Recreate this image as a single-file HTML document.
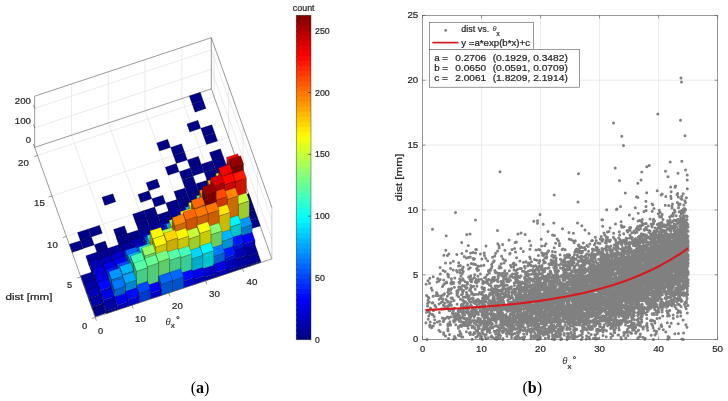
<!DOCTYPE html>
<html><head><meta charset="utf-8"><title>Figure</title>
<style>html,body{margin:0;padding:0;background:#fff;}svg{display:block;will-change:transform;}</style></head>
<body>
<svg width="728" height="401" viewBox="0 0 728 401">
<rect width="728" height="401" fill="#fff"/>
<path d="M132.03 305.17L71.48 135.20M71.48 135.20L71.48 84.00M168.83 292.98L108.28 123.01M108.28 123.01L108.28 71.81M205.63 280.79L145.08 110.82M145.08 110.82L145.08 59.62M242.43 268.59L181.88 98.62M181.88 98.62L181.88 47.42M80.81 276.89L257.46 218.37M257.46 218.37L257.46 167.17M66.39 236.42L243.04 177.90M243.04 177.90L243.04 126.70M51.97 195.95L228.62 137.43M228.62 137.43L228.62 86.23M37.56 155.48L214.21 96.96M214.21 96.96L214.21 45.76M34.67 127.89L211.32 69.37L271.88 239.34M34.67 108.38L211.32 49.86L271.88 219.83" fill="none" stroke="#dedede" stroke-width="0.6"/>
<path d="M34.67 147.39L211.32 88.87L271.88 258.84M34.67 96.19L211.32 37.67L271.88 207.64M211.32 88.87L211.32 37.67" fill="none" stroke="#555555" stroke-width="0.6"/>
<path d="M271.88 258.84L271.88 207.64" fill="none" stroke="#b8b8b8" stroke-width="0.7"/>
<polygon points="192.13,104.08 203.17,100.43 200.28,92.33 189.24,95.99" fill="#000087" stroke="#000" stroke-opacity="0.45" stroke-width="0.45" stroke-linejoin="round"/>
<polygon points="195.01,112.18 206.05,108.52 203.17,100.43 192.13,104.08" fill="#000087" stroke="#000" stroke-opacity="0.45" stroke-width="0.45" stroke-linejoin="round"/>
<polygon points="189.74,132.02 200.78,128.37 197.89,120.27 186.85,123.93" fill="#000087" stroke="#000" stroke-opacity="0.45" stroke-width="0.45" stroke-linejoin="round"/>
<polygon points="203.66,136.46 214.70,132.80 211.82,124.71 200.78,128.37" fill="#000087" stroke="#000" stroke-opacity="0.45" stroke-width="0.45" stroke-linejoin="round"/>
<polygon points="159.50,151.09 170.54,147.43 167.66,139.34 156.61,143.00" fill="#000087" stroke="#000" stroke-opacity="0.45" stroke-width="0.45" stroke-linejoin="round"/>
<polygon points="206.54,144.55 217.58,140.90 214.70,132.80 203.66,136.46" fill="#000087" stroke="#000" stroke-opacity="0.45" stroke-width="0.45" stroke-linejoin="round"/>
<polygon points="173.42,155.53 184.46,151.87 181.58,143.77 170.54,147.43" fill="#000087" stroke="#000" stroke-opacity="0.45" stroke-width="0.45" stroke-linejoin="round"/>
<polygon points="176.31,163.62 187.35,159.96 184.46,151.87 173.42,155.53" fill="#000087" stroke="#000" stroke-opacity="0.45" stroke-width="0.45" stroke-linejoin="round"/>
<polygon points="212.31,160.55 223.35,156.89 220.47,148.79 209.43,152.45" fill="#000087" stroke="#000" stroke-opacity="0.45" stroke-width="0.45" stroke-linejoin="round"/>
<polygon points="190.23,168.06 201.27,164.40 198.39,156.30 187.35,159.96" fill="#000087" stroke="#000" stroke-opacity="0.45" stroke-width="0.45" stroke-linejoin="round"/>
<polygon points="168.15,175.37 179.19,171.71 176.31,163.62 165.26,167.28" fill="#000087" stroke="#000" stroke-opacity="0.45" stroke-width="0.45" stroke-linejoin="round"/>
<polygon points="215.19,168.44 226.23,164.79 223.35,156.69 212.31,160.35" fill="#000087" stroke="#000" stroke-opacity="0.45" stroke-width="0.45" stroke-linejoin="round"/>
<polygon points="204.15,172.30 215.19,168.64 212.31,160.55 201.27,164.20" fill="#000087" stroke="#000" stroke-opacity="0.45" stroke-width="0.45" stroke-linejoin="round"/>
<polygon points="193.11,175.95 204.15,172.30 201.27,164.20 190.23,167.86" fill="#000087" stroke="#000" stroke-opacity="0.45" stroke-width="0.45" stroke-linejoin="round"/>
<polygon points="182.07,179.81 193.11,176.15 190.23,168.06 179.19,171.71" fill="#000087" stroke="#000" stroke-opacity="0.45" stroke-width="0.45" stroke-linejoin="round"/>
<polygon points="148.95,190.78 159.99,187.12 157.11,179.03 146.07,182.69" fill="#000087" stroke="#000" stroke-opacity="0.45" stroke-width="0.45" stroke-linejoin="round"/>
<polygon points="104.79,205.41 115.83,201.75 112.94,193.66 101.90,197.32" fill="#000087" stroke="#000" stroke-opacity="0.45" stroke-width="0.45" stroke-linejoin="round"/>
<polygon points="218.08,177.12 218.08,175.56 215.19,167.47 215.19,169.03" fill="#00005e" stroke="#000" stroke-opacity="0.45" stroke-width="0.45" stroke-linejoin="round"/>
<polygon points="218.08,177.12 229.12,173.47 229.12,171.91 218.08,175.56" fill="#000079" stroke="#000" stroke-opacity="0.45" stroke-width="0.45" stroke-linejoin="round"/>
<polygon points="218.08,175.56 229.12,171.91 226.23,163.81 215.19,167.47" fill="#000097" stroke="#000" stroke-opacity="0.45" stroke-width="0.45" stroke-linejoin="round"/>
<polygon points="207.04,180.39 218.08,176.73 215.19,168.64 204.15,172.30" fill="#000087" stroke="#000" stroke-opacity="0.45" stroke-width="0.45" stroke-linejoin="round"/>
<polygon points="184.96,187.90 196.00,184.24 193.11,176.15 182.07,179.81" fill="#000087" stroke="#000" stroke-opacity="0.45" stroke-width="0.45" stroke-linejoin="round"/>
<polygon points="140.79,202.53 151.83,198.87 148.95,190.78 137.91,194.44" fill="#000087" stroke="#000" stroke-opacity="0.45" stroke-width="0.45" stroke-linejoin="round"/>
<polygon points="220.96,185.22 220.96,181.32 218.08,173.22 218.08,177.12" fill="#00007c" stroke="#000" stroke-opacity="0.45" stroke-width="0.45" stroke-linejoin="round"/>
<polygon points="220.96,185.22 232.00,181.56 232.00,177.66 220.96,181.32" fill="#00009f" stroke="#000" stroke-opacity="0.45" stroke-width="0.45" stroke-linejoin="round"/>
<polygon points="220.96,181.32 232.00,177.66 229.12,169.56 218.08,173.22" fill="#0000c7" stroke="#000" stroke-opacity="0.45" stroke-width="0.45" stroke-linejoin="round"/>
<polygon points="209.92,188.87 209.92,187.70 207.04,179.61 207.04,180.78" fill="#00005e" stroke="#000" stroke-opacity="0.45" stroke-width="0.45" stroke-linejoin="round"/>
<polygon points="209.92,188.87 220.96,185.22 220.96,184.05 209.92,187.70" fill="#000079" stroke="#000" stroke-opacity="0.45" stroke-width="0.45" stroke-linejoin="round"/>
<polygon points="209.92,187.70 220.96,184.05 218.08,175.95 207.04,179.61" fill="#000097" stroke="#000" stroke-opacity="0.45" stroke-width="0.45" stroke-linejoin="round"/>
<polygon points="198.88,191.95 209.92,188.29 207.04,180.20 196.00,183.85" fill="#000087" stroke="#000" stroke-opacity="0.45" stroke-width="0.45" stroke-linejoin="round"/>
<polygon points="187.84,195.80 198.88,192.14 196.00,184.05 184.96,187.71" fill="#000087" stroke="#000" stroke-opacity="0.45" stroke-width="0.45" stroke-linejoin="round"/>
<polygon points="176.80,199.65 187.84,195.99 184.96,187.90 173.91,191.56" fill="#000087" stroke="#000" stroke-opacity="0.45" stroke-width="0.45" stroke-linejoin="round"/>
<polygon points="154.72,206.97 165.76,203.31 162.87,195.22 151.83,198.87" fill="#000087" stroke="#000" stroke-opacity="0.45" stroke-width="0.45" stroke-linejoin="round"/>
<polygon points="223.84,193.31 223.84,183.17 220.96,175.07 220.96,185.22" fill="#002c9e" stroke="#000" stroke-opacity="0.45" stroke-width="0.45" stroke-linejoin="round"/>
<polygon points="223.84,193.31 234.88,189.65 234.88,179.51 223.84,183.17" fill="#0039cc" stroke="#000" stroke-opacity="0.45" stroke-width="0.45" stroke-linejoin="round"/>
<polygon points="223.84,183.17 234.88,179.51 232.00,171.42 220.96,175.07" fill="#0048ff" stroke="#000" stroke-opacity="0.45" stroke-width="0.45" stroke-linejoin="round"/>
<polygon points="212.80,196.97 212.80,193.46 209.92,185.36 209.92,188.87" fill="#00007c" stroke="#000" stroke-opacity="0.45" stroke-width="0.45" stroke-linejoin="round"/>
<polygon points="212.80,196.97 223.84,193.31 223.84,189.80 212.80,193.46" fill="#00009f" stroke="#000" stroke-opacity="0.45" stroke-width="0.45" stroke-linejoin="round"/>
<polygon points="212.80,193.46 223.84,189.80 220.96,181.71 209.92,185.36" fill="#0000c7" stroke="#000" stroke-opacity="0.45" stroke-width="0.45" stroke-linejoin="round"/>
<polygon points="201.76,200.63 201.76,199.07 198.88,190.97 198.88,192.53" fill="#00005e" stroke="#000" stroke-opacity="0.45" stroke-width="0.45" stroke-linejoin="round"/>
<polygon points="201.76,200.63 212.80,196.97 212.80,195.41 201.76,199.07" fill="#000079" stroke="#000" stroke-opacity="0.45" stroke-width="0.45" stroke-linejoin="round"/>
<polygon points="201.76,199.07 212.80,195.41 209.92,187.31 198.88,190.97" fill="#000097" stroke="#000" stroke-opacity="0.45" stroke-width="0.45" stroke-linejoin="round"/>
<polygon points="190.72,204.28 190.72,203.50 187.84,195.41 187.84,196.19" fill="#000054" stroke="#000" stroke-opacity="0.45" stroke-width="0.45" stroke-linejoin="round"/>
<polygon points="190.72,204.28 201.76,200.63 201.76,199.85 190.72,203.50" fill="#00006c" stroke="#000" stroke-opacity="0.45" stroke-width="0.45" stroke-linejoin="round"/>
<polygon points="190.72,203.50 201.76,199.85 198.88,191.75 187.84,195.41" fill="#000087" stroke="#000" stroke-opacity="0.45" stroke-width="0.45" stroke-linejoin="round"/>
<polygon points="179.68,207.55 190.72,203.89 187.84,195.80 176.80,199.46" fill="#000087" stroke="#000" stroke-opacity="0.45" stroke-width="0.45" stroke-linejoin="round"/>
<polygon points="168.64,211.21 179.68,207.55 176.80,199.46 165.76,203.11" fill="#000087" stroke="#000" stroke-opacity="0.45" stroke-width="0.45" stroke-linejoin="round"/>
<polygon points="146.56,218.72 157.60,215.06 154.72,206.97 143.68,210.62" fill="#000087" stroke="#000" stroke-opacity="0.45" stroke-width="0.45" stroke-linejoin="round"/>
<polygon points="135.52,222.38 146.56,218.72 143.68,210.62 132.64,214.28" fill="#000087" stroke="#000" stroke-opacity="0.45" stroke-width="0.45" stroke-linejoin="round"/>
<polygon points="91.36,237.01 102.40,233.35 99.51,225.25 88.47,228.91" fill="#000087" stroke="#000" stroke-opacity="0.45" stroke-width="0.45" stroke-linejoin="round"/>
<polygon points="80.32,240.66 91.36,237.01 88.47,228.91 77.43,232.57" fill="#000087" stroke="#000" stroke-opacity="0.45" stroke-width="0.45" stroke-linejoin="round"/>
<polygon points="226.73,201.40 226.73,178.97 223.84,170.88 223.84,193.31" fill="#2c9e72" stroke="#000" stroke-opacity="0.45" stroke-width="0.45" stroke-linejoin="round"/>
<polygon points="226.73,201.40 237.77,197.75 237.77,175.32 226.73,178.97" fill="#39cc93" stroke="#000" stroke-opacity="0.45" stroke-width="0.45" stroke-linejoin="round"/>
<polygon points="226.73,178.97 237.77,175.32 234.88,167.22 223.84,170.88" fill="#48ffb7" stroke="#000" stroke-opacity="0.45" stroke-width="0.45" stroke-linejoin="round"/>
<polygon points="215.69,205.06 215.69,192.97 212.80,184.88 212.80,196.97" fill="#004a9e" stroke="#000" stroke-opacity="0.45" stroke-width="0.45" stroke-linejoin="round"/>
<polygon points="215.69,205.06 226.73,201.40 226.73,189.31 215.69,192.97" fill="#0060cc" stroke="#000" stroke-opacity="0.45" stroke-width="0.45" stroke-linejoin="round"/>
<polygon points="215.69,192.97 226.73,189.31 223.84,181.22 212.80,184.88" fill="#0078ff" stroke="#000" stroke-opacity="0.45" stroke-width="0.45" stroke-linejoin="round"/>
<polygon points="204.65,208.72 204.65,201.89 201.76,193.80 201.76,200.63" fill="#00059e" stroke="#000" stroke-opacity="0.45" stroke-width="0.45" stroke-linejoin="round"/>
<polygon points="204.65,208.72 215.69,205.06 215.69,198.24 204.65,201.89" fill="#0006cc" stroke="#000" stroke-opacity="0.45" stroke-width="0.45" stroke-linejoin="round"/>
<polygon points="204.65,201.89 215.69,198.24 212.80,190.14 201.76,193.80" fill="#0008ff" stroke="#000" stroke-opacity="0.45" stroke-width="0.45" stroke-linejoin="round"/>
<polygon points="193.61,212.38 193.61,209.65 190.72,201.55 190.72,204.28" fill="#000072" stroke="#000" stroke-opacity="0.45" stroke-width="0.45" stroke-linejoin="round"/>
<polygon points="193.61,212.38 204.65,208.72 204.65,205.99 193.61,209.65" fill="#000093" stroke="#000" stroke-opacity="0.45" stroke-width="0.45" stroke-linejoin="round"/>
<polygon points="193.61,209.65 204.65,205.99 201.76,197.90 190.72,201.55" fill="#0000b7" stroke="#000" stroke-opacity="0.45" stroke-width="0.45" stroke-linejoin="round"/>
<polygon points="182.56,216.03 182.56,214.86 179.68,206.77 179.68,207.94" fill="#00005e" stroke="#000" stroke-opacity="0.45" stroke-width="0.45" stroke-linejoin="round"/>
<polygon points="182.56,216.03 193.61,212.38 193.61,211.21 182.56,214.86" fill="#000079" stroke="#000" stroke-opacity="0.45" stroke-width="0.45" stroke-linejoin="round"/>
<polygon points="182.56,214.86 193.61,211.21 190.72,203.11 179.68,206.77" fill="#000097" stroke="#000" stroke-opacity="0.45" stroke-width="0.45" stroke-linejoin="round"/>
<polygon points="171.52,219.69 171.52,218.72 168.64,210.62 168.64,211.60" fill="#00005e" stroke="#000" stroke-opacity="0.45" stroke-width="0.45" stroke-linejoin="round"/>
<polygon points="171.52,219.69 182.56,216.03 182.56,215.06 171.52,218.72" fill="#000079" stroke="#000" stroke-opacity="0.45" stroke-width="0.45" stroke-linejoin="round"/>
<polygon points="171.52,218.72 182.56,215.06 179.68,206.97 168.64,210.62" fill="#000097" stroke="#000" stroke-opacity="0.45" stroke-width="0.45" stroke-linejoin="round"/>
<polygon points="160.48,222.76 171.52,219.11 168.64,211.01 157.60,214.67" fill="#000087" stroke="#000" stroke-opacity="0.45" stroke-width="0.45" stroke-linejoin="round"/>
<polygon points="149.44,226.42 160.48,222.76 157.60,214.67 146.56,218.33" fill="#000087" stroke="#000" stroke-opacity="0.45" stroke-width="0.45" stroke-linejoin="round"/>
<polygon points="138.40,230.27 149.44,226.62 146.56,218.52 135.52,222.18" fill="#000087" stroke="#000" stroke-opacity="0.45" stroke-width="0.45" stroke-linejoin="round"/>
<polygon points="116.32,237.59 127.36,233.93 124.48,225.84 113.44,229.50" fill="#000087" stroke="#000" stroke-opacity="0.45" stroke-width="0.45" stroke-linejoin="round"/>
<polygon points="83.20,248.56 94.24,244.90 91.36,236.81 80.32,240.47" fill="#000087" stroke="#000" stroke-opacity="0.45" stroke-width="0.45" stroke-linejoin="round"/>
<polygon points="72.16,252.41 83.20,248.76 80.32,240.66 69.27,244.32" fill="#000087" stroke="#000" stroke-opacity="0.45" stroke-width="0.45" stroke-linejoin="round"/>
<polygon points="240.65,205.26 251.69,201.60 248.81,193.50 237.77,197.16" fill="#000087" stroke="#000" stroke-opacity="0.45" stroke-width="0.45" stroke-linejoin="round"/>
<polygon points="229.61,209.50 229.61,165.42 226.73,157.32 226.73,201.40" fill="#9e0500" stroke="#000" stroke-opacity="0.45" stroke-width="0.45" stroke-linejoin="round"/>
<polygon points="229.61,209.50 240.65,205.84 240.65,161.76 229.61,165.42" fill="#cc0600" stroke="#000" stroke-opacity="0.45" stroke-width="0.45" stroke-linejoin="round"/>
<polygon points="229.61,165.42 240.65,161.76 237.77,153.67 226.73,157.32" fill="#ff0800" stroke="#000" stroke-opacity="0.45" stroke-width="0.45" stroke-linejoin="round"/>
<polygon points="218.57,213.16 218.57,181.95 215.69,173.85 215.69,205.06" fill="#999e05" stroke="#000" stroke-opacity="0.45" stroke-width="0.45" stroke-linejoin="round"/>
<polygon points="218.57,213.16 229.61,209.50 229.61,178.29 218.57,181.95" fill="#c6cc06" stroke="#000" stroke-opacity="0.45" stroke-width="0.45" stroke-linejoin="round"/>
<polygon points="218.57,181.95 229.61,178.29 226.73,170.20 215.69,173.85" fill="#f7ff08" stroke="#000" stroke-opacity="0.45" stroke-width="0.45" stroke-linejoin="round"/>
<polygon points="207.53,216.81 207.53,195.36 204.65,187.26 204.65,208.72" fill="#199e85" stroke="#000" stroke-opacity="0.45" stroke-width="0.45" stroke-linejoin="round"/>
<polygon points="207.53,216.81 218.57,213.16 218.57,191.70 207.53,195.36" fill="#20ccac" stroke="#000" stroke-opacity="0.45" stroke-width="0.45" stroke-linejoin="round"/>
<polygon points="207.53,195.36 218.57,191.70 215.69,183.61 204.65,187.26" fill="#28ffd7" stroke="#000" stroke-opacity="0.45" stroke-width="0.45" stroke-linejoin="round"/>
<polygon points="196.49,220.47 196.49,208.77 193.61,200.67 193.61,212.38" fill="#00409e" stroke="#000" stroke-opacity="0.45" stroke-width="0.45" stroke-linejoin="round"/>
<polygon points="196.49,220.47 207.53,216.81 207.53,205.11 196.49,208.77" fill="#0053cc" stroke="#000" stroke-opacity="0.45" stroke-width="0.45" stroke-linejoin="round"/>
<polygon points="196.49,208.77 207.53,205.11 204.65,197.02 193.61,200.67" fill="#0068ff" stroke="#000" stroke-opacity="0.45" stroke-width="0.45" stroke-linejoin="round"/>
<polygon points="185.45,224.13 185.45,217.89 182.56,209.79 182.56,216.03" fill="#000099" stroke="#000" stroke-opacity="0.45" stroke-width="0.45" stroke-linejoin="round"/>
<polygon points="185.45,224.13 196.49,220.47 196.49,214.23 185.45,217.89" fill="#0000c6" stroke="#000" stroke-opacity="0.45" stroke-width="0.45" stroke-linejoin="round"/>
<polygon points="185.45,217.89 196.49,214.23 193.61,206.14 182.56,209.79" fill="#0000f7" stroke="#000" stroke-opacity="0.45" stroke-width="0.45" stroke-linejoin="round"/>
<polygon points="174.41,227.79 174.41,224.86 171.52,216.77 171.52,219.69" fill="#000072" stroke="#000" stroke-opacity="0.45" stroke-width="0.45" stroke-linejoin="round"/>
<polygon points="174.41,227.79 185.45,224.13 185.45,221.20 174.41,224.86" fill="#000093" stroke="#000" stroke-opacity="0.45" stroke-width="0.45" stroke-linejoin="round"/>
<polygon points="174.41,224.86 185.45,221.20 182.56,213.11 171.52,216.77" fill="#0000b7" stroke="#000" stroke-opacity="0.45" stroke-width="0.45" stroke-linejoin="round"/>
<polygon points="163.37,231.44 163.37,229.88 160.48,221.79 160.48,223.35" fill="#00005e" stroke="#000" stroke-opacity="0.45" stroke-width="0.45" stroke-linejoin="round"/>
<polygon points="163.37,231.44 174.41,227.79 174.41,226.23 163.37,229.88" fill="#000079" stroke="#000" stroke-opacity="0.45" stroke-width="0.45" stroke-linejoin="round"/>
<polygon points="163.37,229.88 174.41,226.23 171.52,218.13 160.48,221.79" fill="#000097" stroke="#000" stroke-opacity="0.45" stroke-width="0.45" stroke-linejoin="round"/>
<polygon points="152.33,235.10 152.33,233.93 149.44,225.84 149.44,227.01" fill="#00005e" stroke="#000" stroke-opacity="0.45" stroke-width="0.45" stroke-linejoin="round"/>
<polygon points="152.33,235.10 163.37,231.44 163.37,230.27 152.33,233.93" fill="#000079" stroke="#000" stroke-opacity="0.45" stroke-width="0.45" stroke-linejoin="round"/>
<polygon points="152.33,233.93 163.37,230.27 160.48,222.18 149.44,225.84" fill="#000097" stroke="#000" stroke-opacity="0.45" stroke-width="0.45" stroke-linejoin="round"/>
<polygon points="141.29,238.76 141.29,237.78 138.40,229.69 138.40,230.66" fill="#00005e" stroke="#000" stroke-opacity="0.45" stroke-width="0.45" stroke-linejoin="round"/>
<polygon points="141.29,238.76 152.33,235.10 152.33,234.13 141.29,237.78" fill="#000079" stroke="#000" stroke-opacity="0.45" stroke-width="0.45" stroke-linejoin="round"/>
<polygon points="141.29,237.78 152.33,234.13 149.44,226.03 138.40,229.69" fill="#000097" stroke="#000" stroke-opacity="0.45" stroke-width="0.45" stroke-linejoin="round"/>
<polygon points="130.24,242.42 130.24,241.64 127.36,233.54 127.36,234.32" fill="#000054" stroke="#000" stroke-opacity="0.45" stroke-width="0.45" stroke-linejoin="round"/>
<polygon points="130.24,242.42 141.29,238.76 141.29,237.98 130.24,241.64" fill="#00006c" stroke="#000" stroke-opacity="0.45" stroke-width="0.45" stroke-linejoin="round"/>
<polygon points="130.24,241.64 141.29,237.98 138.40,229.88 127.36,233.54" fill="#000087" stroke="#000" stroke-opacity="0.45" stroke-width="0.45" stroke-linejoin="round"/>
<polygon points="119.20,246.07 119.20,245.29 116.32,237.20 116.32,237.98" fill="#000054" stroke="#000" stroke-opacity="0.45" stroke-width="0.45" stroke-linejoin="round"/>
<polygon points="119.20,246.07 130.24,242.42 130.24,241.64 119.20,245.29" fill="#00006c" stroke="#000" stroke-opacity="0.45" stroke-width="0.45" stroke-linejoin="round"/>
<polygon points="119.20,245.29 130.24,241.64 127.36,233.54 116.32,237.20" fill="#000087" stroke="#000" stroke-opacity="0.45" stroke-width="0.45" stroke-linejoin="round"/>
<polygon points="97.12,252.80 108.16,249.15 105.28,241.05 94.24,244.71" fill="#000087" stroke="#000" stroke-opacity="0.45" stroke-width="0.45" stroke-linejoin="round"/>
<polygon points="243.53,213.35 254.57,209.69 251.69,201.60 240.65,205.26" fill="#000087" stroke="#000" stroke-opacity="0.45" stroke-width="0.45" stroke-linejoin="round"/>
<polygon points="232.49,217.59 232.49,167.46 229.61,159.37 229.61,209.50" fill="#5e0000" stroke="#000" stroke-opacity="0.45" stroke-width="0.45" stroke-linejoin="round"/>
<polygon points="232.49,217.59 243.53,213.93 243.53,163.81 232.49,167.46" fill="#790000" stroke="#000" stroke-opacity="0.45" stroke-width="0.45" stroke-linejoin="round"/>
<polygon points="232.49,167.46 243.53,163.81 240.65,155.71 229.61,159.37" fill="#970000" stroke="#000" stroke-opacity="0.45" stroke-width="0.45" stroke-linejoin="round"/>
<polygon points="221.45,221.25 221.45,176.00 218.57,167.90 218.57,213.16" fill="#990000" stroke="#000" stroke-opacity="0.45" stroke-width="0.45" stroke-linejoin="round"/>
<polygon points="221.45,221.25 232.49,217.59 232.49,172.34 221.45,176.00" fill="#c60000" stroke="#000" stroke-opacity="0.45" stroke-width="0.45" stroke-linejoin="round"/>
<polygon points="221.45,176.00 232.49,172.34 229.61,164.25 218.57,167.90" fill="#f70000" stroke="#000" stroke-opacity="0.45" stroke-width="0.45" stroke-linejoin="round"/>
<polygon points="210.41,224.91 210.41,188.82 207.53,180.73 207.53,216.81" fill="#9e6800" stroke="#000" stroke-opacity="0.45" stroke-width="0.45" stroke-linejoin="round"/>
<polygon points="210.41,224.91 221.45,221.25 221.45,185.17 210.41,188.82" fill="#cc8600" stroke="#000" stroke-opacity="0.45" stroke-width="0.45" stroke-linejoin="round"/>
<polygon points="210.41,188.82 221.45,185.17 218.57,177.07 207.53,180.73" fill="#ffa700" stroke="#000" stroke-opacity="0.45" stroke-width="0.45" stroke-linejoin="round"/>
<polygon points="199.37,228.56 199.37,204.18 196.49,196.09 196.49,220.47" fill="#409e5e" stroke="#000" stroke-opacity="0.45" stroke-width="0.45" stroke-linejoin="round"/>
<polygon points="199.37,228.56 210.41,224.91 210.41,200.53 199.37,204.18" fill="#53cc79" stroke="#000" stroke-opacity="0.45" stroke-width="0.45" stroke-linejoin="round"/>
<polygon points="199.37,204.18 210.41,200.53 207.53,192.43 196.49,196.09" fill="#68ff97" stroke="#000" stroke-opacity="0.45" stroke-width="0.45" stroke-linejoin="round"/>
<polygon points="188.33,232.22 188.33,215.64 185.45,207.55 185.45,224.13" fill="#007c9e" stroke="#000" stroke-opacity="0.45" stroke-width="0.45" stroke-linejoin="round"/>
<polygon points="188.33,232.22 199.37,228.56 199.37,211.99 188.33,215.64" fill="#009fcc" stroke="#000" stroke-opacity="0.45" stroke-width="0.45" stroke-linejoin="round"/>
<polygon points="188.33,215.64 199.37,211.99 196.49,203.89 185.45,207.55" fill="#00c7ff" stroke="#000" stroke-opacity="0.45" stroke-width="0.45" stroke-linejoin="round"/>
<polygon points="177.29,235.88 177.29,225.15 174.41,217.06 174.41,227.79" fill="#00369e" stroke="#000" stroke-opacity="0.45" stroke-width="0.45" stroke-linejoin="round"/>
<polygon points="177.29,235.88 188.33,232.22 188.33,221.49 177.29,225.15" fill="#0046cc" stroke="#000" stroke-opacity="0.45" stroke-width="0.45" stroke-linejoin="round"/>
<polygon points="177.29,225.15 188.33,221.49 185.45,213.40 174.41,217.06" fill="#0058ff" stroke="#000" stroke-opacity="0.45" stroke-width="0.45" stroke-linejoin="round"/>
<polygon points="166.25,239.54 166.25,232.13 163.37,224.03 163.37,231.44" fill="#000f9e" stroke="#000" stroke-opacity="0.45" stroke-width="0.45" stroke-linejoin="round"/>
<polygon points="166.25,239.54 177.29,235.88 177.29,228.47 166.25,232.13" fill="#0013cc" stroke="#000" stroke-opacity="0.45" stroke-width="0.45" stroke-linejoin="round"/>
<polygon points="166.25,232.13 177.29,228.47 174.41,220.37 163.37,224.03" fill="#0018ff" stroke="#000" stroke-opacity="0.45" stroke-width="0.45" stroke-linejoin="round"/>
<polygon points="155.21,243.19 155.21,238.32 152.33,230.22 152.33,235.10" fill="#00008f" stroke="#000" stroke-opacity="0.45" stroke-width="0.45" stroke-linejoin="round"/>
<polygon points="155.21,243.19 166.25,239.54 166.25,234.66 155.21,238.32" fill="#0000b9" stroke="#000" stroke-opacity="0.45" stroke-width="0.45" stroke-linejoin="round"/>
<polygon points="155.21,238.32 166.25,234.66 163.37,226.57 152.33,230.22" fill="#0000e7" stroke="#000" stroke-opacity="0.45" stroke-width="0.45" stroke-linejoin="round"/>
<polygon points="144.17,246.85 144.17,242.95 141.29,234.86 141.29,238.76" fill="#00007c" stroke="#000" stroke-opacity="0.45" stroke-width="0.45" stroke-linejoin="round"/>
<polygon points="144.17,246.85 155.21,243.19 155.21,239.29 144.17,242.95" fill="#00009f" stroke="#000" stroke-opacity="0.45" stroke-width="0.45" stroke-linejoin="round"/>
<polygon points="144.17,242.95 155.21,239.29 152.33,231.20 141.29,234.86" fill="#0000c7" stroke="#000" stroke-opacity="0.45" stroke-width="0.45" stroke-linejoin="round"/>
<polygon points="133.13,250.51 133.13,248.56 130.24,240.47 130.24,242.42" fill="#000068" stroke="#000" stroke-opacity="0.45" stroke-width="0.45" stroke-linejoin="round"/>
<polygon points="133.13,250.51 144.17,246.85 144.17,244.90 133.13,248.56" fill="#000086" stroke="#000" stroke-opacity="0.45" stroke-width="0.45" stroke-linejoin="round"/>
<polygon points="133.13,248.56 144.17,244.90 141.29,236.81 130.24,240.47" fill="#0000a7" stroke="#000" stroke-opacity="0.45" stroke-width="0.45" stroke-linejoin="round"/>
<polygon points="122.09,254.17 122.09,252.61 119.20,244.51 119.20,246.07" fill="#00005e" stroke="#000" stroke-opacity="0.45" stroke-width="0.45" stroke-linejoin="round"/>
<polygon points="122.09,254.17 133.13,250.51 133.13,248.95 122.09,252.61" fill="#000079" stroke="#000" stroke-opacity="0.45" stroke-width="0.45" stroke-linejoin="round"/>
<polygon points="122.09,252.61 133.13,248.95 130.24,240.86 119.20,244.51" fill="#000097" stroke="#000" stroke-opacity="0.45" stroke-width="0.45" stroke-linejoin="round"/>
<polygon points="111.05,257.82 111.05,256.26 108.16,248.17 108.16,249.73" fill="#00005e" stroke="#000" stroke-opacity="0.45" stroke-width="0.45" stroke-linejoin="round"/>
<polygon points="111.05,257.82 122.09,254.17 122.09,252.61 111.05,256.26" fill="#000079" stroke="#000" stroke-opacity="0.45" stroke-width="0.45" stroke-linejoin="round"/>
<polygon points="111.05,256.26 122.09,252.61 119.20,244.51 108.16,248.17" fill="#000097" stroke="#000" stroke-opacity="0.45" stroke-width="0.45" stroke-linejoin="round"/>
<polygon points="100.01,261.48 100.01,259.92 97.12,251.83 97.12,253.39" fill="#00005e" stroke="#000" stroke-opacity="0.45" stroke-width="0.45" stroke-linejoin="round"/>
<polygon points="100.01,261.48 111.05,257.82 111.05,256.26 100.01,259.92" fill="#000079" stroke="#000" stroke-opacity="0.45" stroke-width="0.45" stroke-linejoin="round"/>
<polygon points="100.01,259.92 111.05,256.26 108.16,248.17 97.12,251.83" fill="#000097" stroke="#000" stroke-opacity="0.45" stroke-width="0.45" stroke-linejoin="round"/>
<polygon points="88.97,265.14 88.97,263.77 86.08,255.68 86.08,257.05" fill="#00005e" stroke="#000" stroke-opacity="0.45" stroke-width="0.45" stroke-linejoin="round"/>
<polygon points="88.97,265.14 100.01,261.48 100.01,260.12 88.97,263.77" fill="#000079" stroke="#000" stroke-opacity="0.45" stroke-width="0.45" stroke-linejoin="round"/>
<polygon points="88.97,263.77 100.01,260.12 97.12,252.02 86.08,255.68" fill="#000097" stroke="#000" stroke-opacity="0.45" stroke-width="0.45" stroke-linejoin="round"/>
<polygon points="246.42,221.44 257.46,217.79 254.57,209.69 243.53,213.35" fill="#000087" stroke="#000" stroke-opacity="0.45" stroke-width="0.45" stroke-linejoin="round"/>
<polygon points="235.38,225.69 235.38,181.80 232.49,173.71 232.49,217.59" fill="#9e0f00" stroke="#000" stroke-opacity="0.45" stroke-width="0.45" stroke-linejoin="round"/>
<polygon points="235.38,225.69 246.42,222.03 246.42,178.14 235.38,181.80" fill="#cc1300" stroke="#000" stroke-opacity="0.45" stroke-width="0.45" stroke-linejoin="round"/>
<polygon points="235.38,181.80 246.42,178.14 243.53,170.05 232.49,173.71" fill="#ff1800" stroke="#000" stroke-opacity="0.45" stroke-width="0.45" stroke-linejoin="round"/>
<polygon points="224.34,229.34 224.34,184.87 221.45,176.78 221.45,221.25" fill="#9e0500" stroke="#000" stroke-opacity="0.45" stroke-width="0.45" stroke-linejoin="round"/>
<polygon points="224.34,229.34 235.38,225.69 235.38,181.22 224.34,184.87" fill="#cc0600" stroke="#000" stroke-opacity="0.45" stroke-width="0.45" stroke-linejoin="round"/>
<polygon points="224.34,184.87 235.38,181.22 232.49,173.12 221.45,176.78" fill="#ff0800" stroke="#000" stroke-opacity="0.45" stroke-width="0.45" stroke-linejoin="round"/>
<polygon points="213.30,233.00 213.30,186.19 210.41,178.10 210.41,224.91" fill="#850000" stroke="#000" stroke-opacity="0.45" stroke-width="0.45" stroke-linejoin="round"/>
<polygon points="213.30,233.00 224.34,229.34 224.34,182.53 213.30,186.19" fill="#ac0000" stroke="#000" stroke-opacity="0.45" stroke-width="0.45" stroke-linejoin="round"/>
<polygon points="213.30,186.19 224.34,182.53 221.45,174.44 210.41,178.10" fill="#d70000" stroke="#000" stroke-opacity="0.45" stroke-width="0.45" stroke-linejoin="round"/>
<polygon points="202.26,236.66 202.26,198.62 199.37,190.53 199.37,228.56" fill="#9e5400" stroke="#000" stroke-opacity="0.45" stroke-width="0.45" stroke-linejoin="round"/>
<polygon points="202.26,236.66 213.30,233.00 213.30,194.97 202.26,198.62" fill="#cc6c00" stroke="#000" stroke-opacity="0.45" stroke-width="0.45" stroke-linejoin="round"/>
<polygon points="202.26,198.62 213.30,194.97 210.41,186.87 199.37,190.53" fill="#ff8700" stroke="#000" stroke-opacity="0.45" stroke-width="0.45" stroke-linejoin="round"/>
<polygon points="191.21,240.32 191.21,211.06 188.33,202.97 188.33,232.22" fill="#7c9e23" stroke="#000" stroke-opacity="0.45" stroke-width="0.45" stroke-linejoin="round"/>
<polygon points="191.21,240.32 202.26,236.66 202.26,207.40 191.21,211.06" fill="#9fcc2d" stroke="#000" stroke-opacity="0.45" stroke-width="0.45" stroke-linejoin="round"/>
<polygon points="191.21,211.06 202.26,207.40 199.37,199.31 188.33,202.97" fill="#c7ff38" stroke="#000" stroke-opacity="0.45" stroke-width="0.45" stroke-linejoin="round"/>
<polygon points="180.17,243.97 180.17,223.49 177.29,215.40 177.29,235.88" fill="#0f9e8f" stroke="#000" stroke-opacity="0.45" stroke-width="0.45" stroke-linejoin="round"/>
<polygon points="180.17,243.97 191.21,240.32 191.21,219.84 180.17,223.49" fill="#13ccb9" stroke="#000" stroke-opacity="0.45" stroke-width="0.45" stroke-linejoin="round"/>
<polygon points="180.17,223.49 191.21,219.84 188.33,211.74 177.29,215.40" fill="#18ffe7" stroke="#000" stroke-opacity="0.45" stroke-width="0.45" stroke-linejoin="round"/>
<polygon points="169.13,247.63 169.13,232.03 166.25,223.93 166.25,239.54" fill="#00729e" stroke="#000" stroke-opacity="0.45" stroke-width="0.45" stroke-linejoin="round"/>
<polygon points="169.13,247.63 180.17,243.97 180.17,228.37 169.13,232.03" fill="#0093cc" stroke="#000" stroke-opacity="0.45" stroke-width="0.45" stroke-linejoin="round"/>
<polygon points="169.13,232.03 180.17,228.37 177.29,220.28 166.25,223.93" fill="#00b7ff" stroke="#000" stroke-opacity="0.45" stroke-width="0.45" stroke-linejoin="round"/>
<polygon points="158.09,251.29 158.09,240.56 155.21,232.47 155.21,243.19" fill="#00369e" stroke="#000" stroke-opacity="0.45" stroke-width="0.45" stroke-linejoin="round"/>
<polygon points="158.09,251.29 169.13,247.63 169.13,236.90 158.09,240.56" fill="#0046cc" stroke="#000" stroke-opacity="0.45" stroke-width="0.45" stroke-linejoin="round"/>
<polygon points="158.09,240.56 169.13,236.90 166.25,228.81 155.21,232.47" fill="#0058ff" stroke="#000" stroke-opacity="0.45" stroke-width="0.45" stroke-linejoin="round"/>
<polygon points="147.05,254.95 147.05,245.19 144.17,237.10 144.17,246.85" fill="#002c9e" stroke="#000" stroke-opacity="0.45" stroke-width="0.45" stroke-linejoin="round"/>
<polygon points="147.05,254.95 158.09,251.29 158.09,241.54 147.05,245.19" fill="#0039cc" stroke="#000" stroke-opacity="0.45" stroke-width="0.45" stroke-linejoin="round"/>
<polygon points="147.05,245.19 158.09,241.54 155.21,233.44 144.17,237.10" fill="#0048ff" stroke="#000" stroke-opacity="0.45" stroke-width="0.45" stroke-linejoin="round"/>
<polygon points="136.01,258.60 136.01,254.31 133.13,246.22 133.13,250.51" fill="#000085" stroke="#000" stroke-opacity="0.45" stroke-width="0.45" stroke-linejoin="round"/>
<polygon points="136.01,258.60 147.05,254.95 147.05,250.65 136.01,254.31" fill="#0000ac" stroke="#000" stroke-opacity="0.45" stroke-width="0.45" stroke-linejoin="round"/>
<polygon points="136.01,254.31 147.05,250.65 144.17,242.56 133.13,246.22" fill="#0000d7" stroke="#000" stroke-opacity="0.45" stroke-width="0.45" stroke-linejoin="round"/>
<polygon points="124.97,262.26 124.97,258.36 122.09,250.27 122.09,254.17" fill="#00007c" stroke="#000" stroke-opacity="0.45" stroke-width="0.45" stroke-linejoin="round"/>
<polygon points="124.97,262.26 136.01,258.60 136.01,254.70 124.97,258.36" fill="#00009f" stroke="#000" stroke-opacity="0.45" stroke-width="0.45" stroke-linejoin="round"/>
<polygon points="124.97,258.36 136.01,254.70 133.13,246.61 122.09,250.27" fill="#0000c7" stroke="#000" stroke-opacity="0.45" stroke-width="0.45" stroke-linejoin="round"/>
<polygon points="113.93,265.92 113.93,262.02 111.05,253.92 111.05,257.82" fill="#00007c" stroke="#000" stroke-opacity="0.45" stroke-width="0.45" stroke-linejoin="round"/>
<polygon points="113.93,265.92 124.97,262.26 124.97,258.36 113.93,262.02" fill="#00009f" stroke="#000" stroke-opacity="0.45" stroke-width="0.45" stroke-linejoin="round"/>
<polygon points="113.93,262.02 124.97,258.36 122.09,250.27 111.05,253.92" fill="#0000c7" stroke="#000" stroke-opacity="0.45" stroke-width="0.45" stroke-linejoin="round"/>
<polygon points="102.89,269.58 102.89,266.65 100.01,258.56 100.01,261.48" fill="#000072" stroke="#000" stroke-opacity="0.45" stroke-width="0.45" stroke-linejoin="round"/>
<polygon points="102.89,269.58 113.93,265.92 113.93,262.99 102.89,266.65" fill="#000093" stroke="#000" stroke-opacity="0.45" stroke-width="0.45" stroke-linejoin="round"/>
<polygon points="102.89,266.65 113.93,262.99 111.05,254.90 100.01,258.56" fill="#0000b7" stroke="#000" stroke-opacity="0.45" stroke-width="0.45" stroke-linejoin="round"/>
<polygon points="91.85,273.23 91.85,270.50 88.97,262.41 88.97,265.14" fill="#000072" stroke="#000" stroke-opacity="0.45" stroke-width="0.45" stroke-linejoin="round"/>
<polygon points="91.85,273.23 102.89,269.58 102.89,266.85 91.85,270.50" fill="#000093" stroke="#000" stroke-opacity="0.45" stroke-width="0.45" stroke-linejoin="round"/>
<polygon points="91.85,270.50 102.89,266.85 100.01,258.75 88.97,262.41" fill="#0000b7" stroke="#000" stroke-opacity="0.45" stroke-width="0.45" stroke-linejoin="round"/>
<polygon points="249.30,229.54 260.34,225.88 257.46,217.79 246.42,221.44" fill="#000087" stroke="#000" stroke-opacity="0.45" stroke-width="0.45" stroke-linejoin="round"/>
<polygon points="238.26,233.78 238.26,204.52 235.38,196.43 235.38,225.69" fill="#7c9e23" stroke="#000" stroke-opacity="0.45" stroke-width="0.45" stroke-linejoin="round"/>
<polygon points="238.26,233.78 249.30,230.12 249.30,200.87 238.26,204.52" fill="#9fcc2d" stroke="#000" stroke-opacity="0.45" stroke-width="0.45" stroke-linejoin="round"/>
<polygon points="238.26,204.52 249.30,200.87 246.42,192.77 235.38,196.43" fill="#c7ff38" stroke="#000" stroke-opacity="0.45" stroke-width="0.45" stroke-linejoin="round"/>
<polygon points="227.22,237.44 227.22,199.40 224.34,191.31 224.34,229.34" fill="#9e5400" stroke="#000" stroke-opacity="0.45" stroke-width="0.45" stroke-linejoin="round"/>
<polygon points="227.22,237.44 238.26,233.78 238.26,195.75 227.22,199.40" fill="#cc6c00" stroke="#000" stroke-opacity="0.45" stroke-width="0.45" stroke-linejoin="round"/>
<polygon points="227.22,199.40 238.26,195.75 235.38,187.65 224.34,191.31" fill="#ff8700" stroke="#000" stroke-opacity="0.45" stroke-width="0.45" stroke-linejoin="round"/>
<polygon points="216.18,241.09 216.18,200.13 213.30,192.04 213.30,233.00" fill="#9e2c00" stroke="#000" stroke-opacity="0.45" stroke-width="0.45" stroke-linejoin="round"/>
<polygon points="216.18,241.09 227.22,237.44 227.22,196.48 216.18,200.13" fill="#cc3900" stroke="#000" stroke-opacity="0.45" stroke-width="0.45" stroke-linejoin="round"/>
<polygon points="216.18,200.13 227.22,196.48 224.34,188.38 213.30,192.04" fill="#ff4800" stroke="#000" stroke-opacity="0.45" stroke-width="0.45" stroke-linejoin="round"/>
<polygon points="205.14,244.75 205.14,195.02 202.26,186.92 202.26,236.66" fill="#5e0000" stroke="#000" stroke-opacity="0.45" stroke-width="0.45" stroke-linejoin="round"/>
<polygon points="205.14,244.75 216.18,241.09 216.18,191.36 205.14,195.02" fill="#790000" stroke="#000" stroke-opacity="0.45" stroke-width="0.45" stroke-linejoin="round"/>
<polygon points="205.14,195.02 216.18,191.36 213.30,183.26 202.26,186.92" fill="#970000" stroke="#000" stroke-opacity="0.45" stroke-width="0.45" stroke-linejoin="round"/>
<polygon points="194.10,248.41 194.10,208.43 191.21,200.33 191.21,240.32" fill="#9e4000" stroke="#000" stroke-opacity="0.45" stroke-width="0.45" stroke-linejoin="round"/>
<polygon points="194.10,248.41 205.14,244.75 205.14,204.77 194.10,208.43" fill="#cc5300" stroke="#000" stroke-opacity="0.45" stroke-width="0.45" stroke-linejoin="round"/>
<polygon points="194.10,208.43 205.14,204.77 202.26,196.67 191.21,200.33" fill="#ff6800" stroke="#000" stroke-opacity="0.45" stroke-width="0.45" stroke-linejoin="round"/>
<polygon points="183.06,252.07 183.06,219.88 180.17,211.79 180.17,243.97" fill="#9e9900" stroke="#000" stroke-opacity="0.45" stroke-width="0.45" stroke-linejoin="round"/>
<polygon points="183.06,252.07 194.10,248.41 194.10,216.23 183.06,219.88" fill="#ccc600" stroke="#000" stroke-opacity="0.45" stroke-width="0.45" stroke-linejoin="round"/>
<polygon points="183.06,219.88 194.10,216.23 191.21,208.13 180.17,211.79" fill="#fff700" stroke="#000" stroke-opacity="0.45" stroke-width="0.45" stroke-linejoin="round"/>
<polygon points="172.02,255.72 172.02,228.42 169.13,220.32 169.13,247.63" fill="#689e36" stroke="#000" stroke-opacity="0.45" stroke-width="0.45" stroke-linejoin="round"/>
<polygon points="172.02,255.72 183.06,252.07 183.06,224.76 172.02,228.42" fill="#86cc46" stroke="#000" stroke-opacity="0.45" stroke-width="0.45" stroke-linejoin="round"/>
<polygon points="172.02,228.42 183.06,224.76 180.17,216.67 169.13,220.32" fill="#a7ff58" stroke="#000" stroke-opacity="0.45" stroke-width="0.45" stroke-linejoin="round"/>
<polygon points="160.98,259.38 160.98,239.88 158.09,231.78 158.09,251.29" fill="#059e99" stroke="#000" stroke-opacity="0.45" stroke-width="0.45" stroke-linejoin="round"/>
<polygon points="160.98,259.38 172.02,255.72 172.02,236.22 160.98,239.88" fill="#06ccc6" stroke="#000" stroke-opacity="0.45" stroke-width="0.45" stroke-linejoin="round"/>
<polygon points="160.98,239.88 172.02,236.22 169.13,228.13 158.09,231.78" fill="#08fff7" stroke="#000" stroke-opacity="0.45" stroke-width="0.45" stroke-linejoin="round"/>
<polygon points="149.94,263.04 149.94,243.54 147.05,235.44 147.05,254.95" fill="#059e99" stroke="#000" stroke-opacity="0.45" stroke-width="0.45" stroke-linejoin="round"/>
<polygon points="149.94,263.04 160.98,259.38 160.98,239.88 149.94,243.54" fill="#06ccc6" stroke="#000" stroke-opacity="0.45" stroke-width="0.45" stroke-linejoin="round"/>
<polygon points="149.94,243.54 160.98,239.88 158.09,231.78 147.05,235.44" fill="#08fff7" stroke="#000" stroke-opacity="0.45" stroke-width="0.45" stroke-linejoin="round"/>
<polygon points="138.89,266.70 138.89,255.97 136.01,247.88 136.01,258.60" fill="#00369e" stroke="#000" stroke-opacity="0.45" stroke-width="0.45" stroke-linejoin="round"/>
<polygon points="138.89,266.70 149.94,263.04 149.94,252.31 138.89,255.97" fill="#0046cc" stroke="#000" stroke-opacity="0.45" stroke-width="0.45" stroke-linejoin="round"/>
<polygon points="138.89,255.97 149.94,252.31 147.05,244.22 136.01,247.88" fill="#0058ff" stroke="#000" stroke-opacity="0.45" stroke-width="0.45" stroke-linejoin="round"/>
<polygon points="127.85,270.35 127.85,258.65 124.97,250.56 124.97,262.26" fill="#00409e" stroke="#000" stroke-opacity="0.45" stroke-width="0.45" stroke-linejoin="round"/>
<polygon points="127.85,270.35 138.89,266.70 138.89,254.99 127.85,258.65" fill="#0053cc" stroke="#000" stroke-opacity="0.45" stroke-width="0.45" stroke-linejoin="round"/>
<polygon points="127.85,258.65 138.89,254.99 136.01,246.90 124.97,250.56" fill="#0068ff" stroke="#000" stroke-opacity="0.45" stroke-width="0.45" stroke-linejoin="round"/>
<polygon points="116.81,274.01 116.81,268.16 113.93,260.07 113.93,265.92" fill="#000099" stroke="#000" stroke-opacity="0.45" stroke-width="0.45" stroke-linejoin="round"/>
<polygon points="116.81,274.01 127.85,270.35 127.85,264.50 116.81,268.16" fill="#0000c6" stroke="#000" stroke-opacity="0.45" stroke-width="0.45" stroke-linejoin="round"/>
<polygon points="116.81,268.16 127.85,264.50 124.97,256.41 113.93,260.07" fill="#0000f7" stroke="#000" stroke-opacity="0.45" stroke-width="0.45" stroke-linejoin="round"/>
<polygon points="105.77,277.67 105.77,272.21 102.89,264.11 102.89,269.58" fill="#00008f" stroke="#000" stroke-opacity="0.45" stroke-width="0.45" stroke-linejoin="round"/>
<polygon points="105.77,277.67 116.81,274.01 116.81,268.55 105.77,272.21" fill="#0000b9" stroke="#000" stroke-opacity="0.45" stroke-width="0.45" stroke-linejoin="round"/>
<polygon points="105.77,272.21 116.81,268.55 113.93,260.46 102.89,264.11" fill="#0000e7" stroke="#000" stroke-opacity="0.45" stroke-width="0.45" stroke-linejoin="round"/>
<polygon points="94.73,281.33 94.73,277.04 91.85,268.94 91.85,273.23" fill="#000085" stroke="#000" stroke-opacity="0.45" stroke-width="0.45" stroke-linejoin="round"/>
<polygon points="94.73,281.33 105.77,277.67 105.77,273.38 94.73,277.04" fill="#0000ac" stroke="#000" stroke-opacity="0.45" stroke-width="0.45" stroke-linejoin="round"/>
<polygon points="94.73,277.04 105.77,273.38 102.89,265.28 91.85,268.94" fill="#0000d7" stroke="#000" stroke-opacity="0.45" stroke-width="0.45" stroke-linejoin="round"/>
<polygon points="83.69,284.98 83.69,283.81 80.81,275.72 80.81,276.89" fill="#00005e" stroke="#000" stroke-opacity="0.45" stroke-width="0.45" stroke-linejoin="round"/>
<polygon points="83.69,284.98 94.73,281.33 94.73,280.16 83.69,283.81" fill="#000079" stroke="#000" stroke-opacity="0.45" stroke-width="0.45" stroke-linejoin="round"/>
<polygon points="83.69,283.81 94.73,280.16 91.85,272.06 80.81,275.72" fill="#000097" stroke="#000" stroke-opacity="0.45" stroke-width="0.45" stroke-linejoin="round"/>
<polygon points="241.14,241.87 241.14,228.22 238.26,220.13 238.26,233.78" fill="#005e9e" stroke="#000" stroke-opacity="0.45" stroke-width="0.45" stroke-linejoin="round"/>
<polygon points="241.14,241.87 252.18,238.22 252.18,224.56 241.14,228.22" fill="#0079cc" stroke="#000" stroke-opacity="0.45" stroke-width="0.45" stroke-linejoin="round"/>
<polygon points="241.14,228.22 252.18,224.56 249.30,216.47 238.26,220.13" fill="#0097ff" stroke="#000" stroke-opacity="0.45" stroke-width="0.45" stroke-linejoin="round"/>
<polygon points="230.10,245.53 230.10,227.00 227.22,218.91 227.22,237.44" fill="#00999e" stroke="#000" stroke-opacity="0.45" stroke-width="0.45" stroke-linejoin="round"/>
<polygon points="230.10,245.53 241.14,241.87 241.14,223.34 230.10,227.00" fill="#00c6cc" stroke="#000" stroke-opacity="0.45" stroke-width="0.45" stroke-linejoin="round"/>
<polygon points="230.10,227.00 241.14,223.34 238.26,215.25 227.22,218.91" fill="#00f7ff" stroke="#000" stroke-opacity="0.45" stroke-width="0.45" stroke-linejoin="round"/>
<polygon points="219.06,249.19 219.06,216.03 216.18,207.94 216.18,241.09" fill="#9e8f00" stroke="#000" stroke-opacity="0.45" stroke-width="0.45" stroke-linejoin="round"/>
<polygon points="219.06,249.19 230.10,245.53 230.10,212.37 219.06,216.03" fill="#ccb900" stroke="#000" stroke-opacity="0.45" stroke-width="0.45" stroke-linejoin="round"/>
<polygon points="219.06,216.03 230.10,212.37 227.22,204.28 216.18,207.94" fill="#ffe700" stroke="#000" stroke-opacity="0.45" stroke-width="0.45" stroke-linejoin="round"/>
<polygon points="208.02,252.85 208.02,213.84 205.14,205.74 205.14,244.75" fill="#9e4a00" stroke="#000" stroke-opacity="0.45" stroke-width="0.45" stroke-linejoin="round"/>
<polygon points="208.02,252.85 219.06,249.19 219.06,210.18 208.02,213.84" fill="#cc6000" stroke="#000" stroke-opacity="0.45" stroke-width="0.45" stroke-linejoin="round"/>
<polygon points="208.02,213.84 219.06,210.18 216.18,202.09 205.14,205.74" fill="#ff7800" stroke="#000" stroke-opacity="0.45" stroke-width="0.45" stroke-linejoin="round"/>
<polygon points="196.98,256.50 196.98,217.49 194.10,209.40 194.10,248.41" fill="#9e4a00" stroke="#000" stroke-opacity="0.45" stroke-width="0.45" stroke-linejoin="round"/>
<polygon points="196.98,256.50 208.02,252.85 208.02,213.84 196.98,217.49" fill="#cc6000" stroke="#000" stroke-opacity="0.45" stroke-width="0.45" stroke-linejoin="round"/>
<polygon points="196.98,217.49 208.02,213.84 205.14,205.74 194.10,209.40" fill="#ff7800" stroke="#000" stroke-opacity="0.45" stroke-width="0.45" stroke-linejoin="round"/>
<polygon points="185.94,260.16 185.94,220.18 183.06,212.08 183.06,252.07" fill="#9e4000" stroke="#000" stroke-opacity="0.45" stroke-width="0.45" stroke-linejoin="round"/>
<polygon points="185.94,260.16 196.98,256.50 196.98,216.52 185.94,220.18" fill="#cc5300" stroke="#000" stroke-opacity="0.45" stroke-width="0.45" stroke-linejoin="round"/>
<polygon points="185.94,220.18 196.98,216.52 194.10,208.43 183.06,212.08" fill="#ff6800" stroke="#000" stroke-opacity="0.45" stroke-width="0.45" stroke-linejoin="round"/>
<polygon points="174.90,263.82 174.90,225.78 172.02,217.69 172.02,255.72" fill="#9e5400" stroke="#000" stroke-opacity="0.45" stroke-width="0.45" stroke-linejoin="round"/>
<polygon points="174.90,263.82 185.94,260.16 185.94,222.13 174.90,225.78" fill="#cc6c00" stroke="#000" stroke-opacity="0.45" stroke-width="0.45" stroke-linejoin="round"/>
<polygon points="174.90,225.78 185.94,222.13 183.06,214.03 172.02,217.69" fill="#ff8700" stroke="#000" stroke-opacity="0.45" stroke-width="0.45" stroke-linejoin="round"/>
<polygon points="163.86,267.48 163.86,239.19 160.98,231.10 160.98,259.38" fill="#729e2c" stroke="#000" stroke-opacity="0.45" stroke-width="0.45" stroke-linejoin="round"/>
<polygon points="163.86,267.48 174.90,263.82 174.90,235.54 163.86,239.19" fill="#93cc39" stroke="#000" stroke-opacity="0.45" stroke-width="0.45" stroke-linejoin="round"/>
<polygon points="163.86,239.19 174.90,235.54 172.02,227.44 160.98,231.10" fill="#b7ff48" stroke="#000" stroke-opacity="0.45" stroke-width="0.45" stroke-linejoin="round"/>
<polygon points="152.82,271.13 152.82,238.95 149.94,230.86 149.94,263.04" fill="#9e9900" stroke="#000" stroke-opacity="0.45" stroke-width="0.45" stroke-linejoin="round"/>
<polygon points="152.82,271.13 163.86,267.48 163.86,235.29 152.82,238.95" fill="#ccc600" stroke="#000" stroke-opacity="0.45" stroke-width="0.45" stroke-linejoin="round"/>
<polygon points="152.82,238.95 163.86,235.29 160.98,227.20 149.94,230.86" fill="#fff700" stroke="#000" stroke-opacity="0.45" stroke-width="0.45" stroke-linejoin="round"/>
<polygon points="141.78,274.79 141.78,255.29 138.89,247.19 138.89,266.70" fill="#059e99" stroke="#000" stroke-opacity="0.45" stroke-width="0.45" stroke-linejoin="round"/>
<polygon points="141.78,274.79 152.82,271.13 152.82,251.63 141.78,255.29" fill="#06ccc6" stroke="#000" stroke-opacity="0.45" stroke-width="0.45" stroke-linejoin="round"/>
<polygon points="141.78,255.29 152.82,251.63 149.94,243.54 138.89,247.19" fill="#08fff7" stroke="#000" stroke-opacity="0.45" stroke-width="0.45" stroke-linejoin="round"/>
<polygon points="130.74,278.45 130.74,262.84 127.85,254.75 127.85,270.35" fill="#00729e" stroke="#000" stroke-opacity="0.45" stroke-width="0.45" stroke-linejoin="round"/>
<polygon points="130.74,278.45 141.78,274.79 141.78,259.19 130.74,262.84" fill="#0093cc" stroke="#000" stroke-opacity="0.45" stroke-width="0.45" stroke-linejoin="round"/>
<polygon points="130.74,262.84 141.78,259.19 138.89,251.09 127.85,254.75" fill="#00b7ff" stroke="#000" stroke-opacity="0.45" stroke-width="0.45" stroke-linejoin="round"/>
<polygon points="119.70,282.11 119.70,272.35 116.81,264.26 116.81,274.01" fill="#002c9e" stroke="#000" stroke-opacity="0.45" stroke-width="0.45" stroke-linejoin="round"/>
<polygon points="119.70,282.11 130.74,278.45 130.74,268.70 119.70,272.35" fill="#0039cc" stroke="#000" stroke-opacity="0.45" stroke-width="0.45" stroke-linejoin="round"/>
<polygon points="119.70,272.35 130.74,268.70 127.85,260.60 116.81,264.26" fill="#0048ff" stroke="#000" stroke-opacity="0.45" stroke-width="0.45" stroke-linejoin="round"/>
<polygon points="108.66,285.76 108.66,277.96 105.77,269.87 105.77,277.67" fill="#000f9e" stroke="#000" stroke-opacity="0.45" stroke-width="0.45" stroke-linejoin="round"/>
<polygon points="108.66,285.76 119.70,282.11 119.70,274.30 108.66,277.96" fill="#0013cc" stroke="#000" stroke-opacity="0.45" stroke-width="0.45" stroke-linejoin="round"/>
<polygon points="108.66,277.96 119.70,274.30 116.81,266.21 105.77,269.87" fill="#0018ff" stroke="#000" stroke-opacity="0.45" stroke-width="0.45" stroke-linejoin="round"/>
<polygon points="97.62,289.42 97.62,283.96 94.73,275.87 94.73,281.33" fill="#00008f" stroke="#000" stroke-opacity="0.45" stroke-width="0.45" stroke-linejoin="round"/>
<polygon points="97.62,289.42 108.66,285.76 108.66,280.30 97.62,283.96" fill="#0000b9" stroke="#000" stroke-opacity="0.45" stroke-width="0.45" stroke-linejoin="round"/>
<polygon points="97.62,283.96 108.66,280.30 105.77,272.21 94.73,275.87" fill="#0000e7" stroke="#000" stroke-opacity="0.45" stroke-width="0.45" stroke-linejoin="round"/>
<polygon points="86.57,293.08 86.57,291.13 83.69,283.03 83.69,284.98" fill="#000068" stroke="#000" stroke-opacity="0.45" stroke-width="0.45" stroke-linejoin="round"/>
<polygon points="86.57,293.08 97.62,289.42 97.62,287.47 86.57,291.13" fill="#000086" stroke="#000" stroke-opacity="0.45" stroke-width="0.45" stroke-linejoin="round"/>
<polygon points="86.57,291.13 97.62,287.47 94.73,279.38 83.69,283.03" fill="#0000a7" stroke="#000" stroke-opacity="0.45" stroke-width="0.45" stroke-linejoin="round"/>
<polygon points="244.03,249.97 244.03,244.12 241.14,236.02 241.14,241.87" fill="#000099" stroke="#000" stroke-opacity="0.45" stroke-width="0.45" stroke-linejoin="round"/>
<polygon points="244.03,249.97 255.07,246.31 255.07,240.46 244.03,244.12" fill="#0000c6" stroke="#000" stroke-opacity="0.45" stroke-width="0.45" stroke-linejoin="round"/>
<polygon points="244.03,244.12 255.07,240.46 252.18,232.36 241.14,236.02" fill="#0000f7" stroke="#000" stroke-opacity="0.45" stroke-width="0.45" stroke-linejoin="round"/>
<polygon points="232.99,253.62 232.99,246.21 230.10,238.12 230.10,245.53" fill="#000f9e" stroke="#000" stroke-opacity="0.45" stroke-width="0.45" stroke-linejoin="round"/>
<polygon points="232.99,253.62 244.03,249.97 244.03,242.56 232.99,246.21" fill="#0013cc" stroke="#000" stroke-opacity="0.45" stroke-width="0.45" stroke-linejoin="round"/>
<polygon points="232.99,246.21 244.03,242.56 241.14,234.46 230.10,238.12" fill="#0018ff" stroke="#000" stroke-opacity="0.45" stroke-width="0.45" stroke-linejoin="round"/>
<polygon points="221.95,257.28 221.95,241.29 219.06,233.19 219.06,249.19" fill="#00729e" stroke="#000" stroke-opacity="0.45" stroke-width="0.45" stroke-linejoin="round"/>
<polygon points="221.95,257.28 232.99,253.62 232.99,237.63 221.95,241.29" fill="#0093cc" stroke="#000" stroke-opacity="0.45" stroke-width="0.45" stroke-linejoin="round"/>
<polygon points="221.95,241.29 232.99,237.63 230.10,229.54 219.06,233.19" fill="#00b7ff" stroke="#000" stroke-opacity="0.45" stroke-width="0.45" stroke-linejoin="round"/>
<polygon points="210.91,260.94 210.91,234.61 208.02,226.51 208.02,252.85" fill="#549e4a" stroke="#000" stroke-opacity="0.45" stroke-width="0.45" stroke-linejoin="round"/>
<polygon points="210.91,260.94 221.95,257.28 221.95,230.95 210.91,234.61" fill="#6ccc60" stroke="#000" stroke-opacity="0.45" stroke-width="0.45" stroke-linejoin="round"/>
<polygon points="210.91,234.61 221.95,230.95 219.06,222.86 208.02,226.51" fill="#87ff78" stroke="#000" stroke-opacity="0.45" stroke-width="0.45" stroke-linejoin="round"/>
<polygon points="199.86,264.60 199.86,233.39 196.98,225.30 196.98,256.50" fill="#999e05" stroke="#000" stroke-opacity="0.45" stroke-width="0.45" stroke-linejoin="round"/>
<polygon points="199.86,264.60 210.91,260.94 210.91,229.73 199.86,233.39" fill="#c6cc06" stroke="#000" stroke-opacity="0.45" stroke-width="0.45" stroke-linejoin="round"/>
<polygon points="199.86,233.39 210.91,229.73 208.02,221.64 196.98,225.30" fill="#f7ff08" stroke="#000" stroke-opacity="0.45" stroke-width="0.45" stroke-linejoin="round"/>
<polygon points="188.82,268.25 188.82,239.00 185.94,230.90 185.94,260.16" fill="#7c9e23" stroke="#000" stroke-opacity="0.45" stroke-width="0.45" stroke-linejoin="round"/>
<polygon points="188.82,268.25 199.86,264.60 199.86,235.34 188.82,239.00" fill="#9fcc2d" stroke="#000" stroke-opacity="0.45" stroke-width="0.45" stroke-linejoin="round"/>
<polygon points="188.82,239.00 199.86,235.34 196.98,227.25 185.94,230.90" fill="#c7ff38" stroke="#000" stroke-opacity="0.45" stroke-width="0.45" stroke-linejoin="round"/>
<polygon points="177.78,271.91 177.78,239.73 174.90,231.64 174.90,263.82" fill="#9e9900" stroke="#000" stroke-opacity="0.45" stroke-width="0.45" stroke-linejoin="round"/>
<polygon points="177.78,271.91 188.82,268.25 188.82,236.07 177.78,239.73" fill="#ccc600" stroke="#000" stroke-opacity="0.45" stroke-width="0.45" stroke-linejoin="round"/>
<polygon points="177.78,239.73 188.82,236.07 185.94,227.98 174.90,231.64" fill="#fff700" stroke="#000" stroke-opacity="0.45" stroke-width="0.45" stroke-linejoin="round"/>
<polygon points="166.74,275.57 166.74,241.44 163.86,233.34 163.86,267.48" fill="#9e8500" stroke="#000" stroke-opacity="0.45" stroke-width="0.45" stroke-linejoin="round"/>
<polygon points="166.74,275.57 177.78,271.91 177.78,237.78 166.74,241.44" fill="#ccac00" stroke="#000" stroke-opacity="0.45" stroke-width="0.45" stroke-linejoin="round"/>
<polygon points="166.74,241.44 177.78,237.78 174.90,229.69 163.86,233.34" fill="#ffd700" stroke="#000" stroke-opacity="0.45" stroke-width="0.45" stroke-linejoin="round"/>
<polygon points="155.70,279.23 155.70,247.04 152.82,238.95 152.82,271.13" fill="#9e9900" stroke="#000" stroke-opacity="0.45" stroke-width="0.45" stroke-linejoin="round"/>
<polygon points="155.70,279.23 166.74,275.57 166.74,243.39 155.70,247.04" fill="#ccc600" stroke="#000" stroke-opacity="0.45" stroke-width="0.45" stroke-linejoin="round"/>
<polygon points="155.70,247.04 166.74,243.39 163.86,235.29 152.82,238.95" fill="#fff700" stroke="#000" stroke-opacity="0.45" stroke-width="0.45" stroke-linejoin="round"/>
<polygon points="144.66,282.88 144.66,255.97 141.78,247.87 141.78,274.79" fill="#5e9e40" stroke="#000" stroke-opacity="0.45" stroke-width="0.45" stroke-linejoin="round"/>
<polygon points="144.66,282.88 155.70,279.23 155.70,252.31 144.66,255.97" fill="#79cc53" stroke="#000" stroke-opacity="0.45" stroke-width="0.45" stroke-linejoin="round"/>
<polygon points="144.66,255.97 155.70,252.31 152.82,244.22 141.78,247.87" fill="#97ff68" stroke="#000" stroke-opacity="0.45" stroke-width="0.45" stroke-linejoin="round"/>
<polygon points="133.62,286.54 133.62,264.11 130.74,256.02 130.74,278.45" fill="#2c9e72" stroke="#000" stroke-opacity="0.45" stroke-width="0.45" stroke-linejoin="round"/>
<polygon points="133.62,286.54 144.66,282.88 144.66,260.45 133.62,264.11" fill="#39cc93" stroke="#000" stroke-opacity="0.45" stroke-width="0.45" stroke-linejoin="round"/>
<polygon points="133.62,264.11 144.66,260.45 141.78,252.36 130.74,256.02" fill="#48ffb7" stroke="#000" stroke-opacity="0.45" stroke-width="0.45" stroke-linejoin="round"/>
<polygon points="122.58,290.20 122.58,274.60 119.70,266.50 119.70,282.11" fill="#00729e" stroke="#000" stroke-opacity="0.45" stroke-width="0.45" stroke-linejoin="round"/>
<polygon points="122.58,290.20 133.62,286.54 133.62,270.94 122.58,274.60" fill="#0093cc" stroke="#000" stroke-opacity="0.45" stroke-width="0.45" stroke-linejoin="round"/>
<polygon points="122.58,274.60 133.62,270.94 130.74,262.84 119.70,266.50" fill="#00b7ff" stroke="#000" stroke-opacity="0.45" stroke-width="0.45" stroke-linejoin="round"/>
<polygon points="111.54,293.86 111.54,279.81 108.66,271.72 108.66,285.76" fill="#005e9e" stroke="#000" stroke-opacity="0.45" stroke-width="0.45" stroke-linejoin="round"/>
<polygon points="111.54,293.86 122.58,290.20 122.58,276.16 111.54,279.81" fill="#0079cc" stroke="#000" stroke-opacity="0.45" stroke-width="0.45" stroke-linejoin="round"/>
<polygon points="111.54,279.81 122.58,276.16 119.70,268.06 108.66,271.72" fill="#0097ff" stroke="#000" stroke-opacity="0.45" stroke-width="0.45" stroke-linejoin="round"/>
<polygon points="100.50,297.51 100.50,290.49 97.62,282.40 97.62,289.42" fill="#00059e" stroke="#000" stroke-opacity="0.45" stroke-width="0.45" stroke-linejoin="round"/>
<polygon points="100.50,297.51 111.54,293.86 111.54,286.84 100.50,290.49" fill="#0006cc" stroke="#000" stroke-opacity="0.45" stroke-width="0.45" stroke-linejoin="round"/>
<polygon points="100.50,290.49 111.54,286.84 108.66,278.74 97.62,282.40" fill="#0008ff" stroke="#000" stroke-opacity="0.45" stroke-width="0.45" stroke-linejoin="round"/>
<polygon points="89.46,301.17 89.46,298.44 86.57,290.35 86.57,293.08" fill="#000072" stroke="#000" stroke-opacity="0.45" stroke-width="0.45" stroke-linejoin="round"/>
<polygon points="89.46,301.17 100.50,297.51 100.50,294.78 89.46,298.44" fill="#000093" stroke="#000" stroke-opacity="0.45" stroke-width="0.45" stroke-linejoin="round"/>
<polygon points="89.46,298.44 100.50,294.78 97.62,286.69 86.57,290.35" fill="#0000b7" stroke="#000" stroke-opacity="0.45" stroke-width="0.45" stroke-linejoin="round"/>
<polygon points="246.91,258.06 246.91,256.50 244.03,248.41 244.03,249.97" fill="#00005e" stroke="#000" stroke-opacity="0.45" stroke-width="0.45" stroke-linejoin="round"/>
<polygon points="246.91,258.06 257.95,254.40 257.95,252.84 246.91,256.50" fill="#000079" stroke="#000" stroke-opacity="0.45" stroke-width="0.45" stroke-linejoin="round"/>
<polygon points="246.91,256.50 257.95,252.84 255.07,244.75 244.03,248.41" fill="#000097" stroke="#000" stroke-opacity="0.45" stroke-width="0.45" stroke-linejoin="round"/>
<polygon points="235.87,261.72 235.87,258.99 232.99,250.89 232.99,253.62" fill="#000072" stroke="#000" stroke-opacity="0.45" stroke-width="0.45" stroke-linejoin="round"/>
<polygon points="235.87,261.72 246.91,258.06 246.91,255.33 235.87,258.99" fill="#000093" stroke="#000" stroke-opacity="0.45" stroke-width="0.45" stroke-linejoin="round"/>
<polygon points="235.87,258.99 246.91,255.33 244.03,247.24 232.99,250.89" fill="#0000b7" stroke="#000" stroke-opacity="0.45" stroke-width="0.45" stroke-linejoin="round"/>
<polygon points="224.83,265.38 224.83,257.96 221.95,249.87 221.95,257.28" fill="#000f9e" stroke="#000" stroke-opacity="0.45" stroke-width="0.45" stroke-linejoin="round"/>
<polygon points="224.83,265.38 235.87,261.72 235.87,254.31 224.83,257.96" fill="#0013cc" stroke="#000" stroke-opacity="0.45" stroke-width="0.45" stroke-linejoin="round"/>
<polygon points="224.83,257.96 235.87,254.31 232.99,246.21 221.95,249.87" fill="#0018ff" stroke="#000" stroke-opacity="0.45" stroke-width="0.45" stroke-linejoin="round"/>
<polygon points="213.79,269.03 213.79,256.36 210.91,248.26 210.91,260.94" fill="#004a9e" stroke="#000" stroke-opacity="0.45" stroke-width="0.45" stroke-linejoin="round"/>
<polygon points="213.79,269.03 224.83,265.38 224.83,252.70 213.79,256.36" fill="#0060cc" stroke="#000" stroke-opacity="0.45" stroke-width="0.45" stroke-linejoin="round"/>
<polygon points="213.79,256.36 224.83,252.70 221.95,244.60 210.91,248.26" fill="#0078ff" stroke="#000" stroke-opacity="0.45" stroke-width="0.45" stroke-linejoin="round"/>
<polygon points="202.75,272.69 202.75,254.16 199.86,246.07 199.86,264.60" fill="#00999e" stroke="#000" stroke-opacity="0.45" stroke-width="0.45" stroke-linejoin="round"/>
<polygon points="202.75,272.69 213.79,269.03 213.79,250.50 202.75,254.16" fill="#00c6cc" stroke="#000" stroke-opacity="0.45" stroke-width="0.45" stroke-linejoin="round"/>
<polygon points="202.75,254.16 213.79,250.50 210.91,242.41 199.86,246.07" fill="#00f7ff" stroke="#000" stroke-opacity="0.45" stroke-width="0.45" stroke-linejoin="round"/>
<polygon points="191.71,276.35 191.71,258.79 188.82,250.70 188.82,268.25" fill="#00859e" stroke="#000" stroke-opacity="0.45" stroke-width="0.45" stroke-linejoin="round"/>
<polygon points="191.71,276.35 202.75,272.69 202.75,255.14 191.71,258.79" fill="#00accc" stroke="#000" stroke-opacity="0.45" stroke-width="0.45" stroke-linejoin="round"/>
<polygon points="191.71,258.79 202.75,255.14 199.86,247.04 188.82,250.70" fill="#00d7ff" stroke="#000" stroke-opacity="0.45" stroke-width="0.45" stroke-linejoin="round"/>
<polygon points="180.67,280.01 180.67,257.58 177.78,249.48 177.78,271.91" fill="#2c9e72" stroke="#000" stroke-opacity="0.45" stroke-width="0.45" stroke-linejoin="round"/>
<polygon points="180.67,280.01 191.71,276.35 191.71,253.92 180.67,257.58" fill="#39cc93" stroke="#000" stroke-opacity="0.45" stroke-width="0.45" stroke-linejoin="round"/>
<polygon points="180.67,257.58 191.71,253.92 188.82,245.82 177.78,249.48" fill="#48ffb7" stroke="#000" stroke-opacity="0.45" stroke-width="0.45" stroke-linejoin="round"/>
<polygon points="169.63,283.66 169.63,260.26 166.74,252.16 166.74,275.57" fill="#369e68" stroke="#000" stroke-opacity="0.45" stroke-width="0.45" stroke-linejoin="round"/>
<polygon points="169.63,283.66 180.67,280.01 180.67,256.60 169.63,260.26" fill="#46cc86" stroke="#000" stroke-opacity="0.45" stroke-width="0.45" stroke-linejoin="round"/>
<polygon points="169.63,260.26 180.67,256.60 177.78,248.51 166.74,252.16" fill="#58ffa7" stroke="#000" stroke-opacity="0.45" stroke-width="0.45" stroke-linejoin="round"/>
<polygon points="158.59,287.32 158.59,261.97 155.70,253.87 155.70,279.23" fill="#4a9e54" stroke="#000" stroke-opacity="0.45" stroke-width="0.45" stroke-linejoin="round"/>
<polygon points="158.59,287.32 169.63,283.66 169.63,258.31 158.59,261.97" fill="#60cc6c" stroke="#000" stroke-opacity="0.45" stroke-width="0.45" stroke-linejoin="round"/>
<polygon points="158.59,261.97 169.63,258.31 166.74,250.21 155.70,253.87" fill="#78ff87" stroke="#000" stroke-opacity="0.45" stroke-width="0.45" stroke-linejoin="round"/>
<polygon points="147.54,290.98 147.54,266.60 144.66,258.50 144.66,282.88" fill="#409e5e" stroke="#000" stroke-opacity="0.45" stroke-width="0.45" stroke-linejoin="round"/>
<polygon points="147.54,290.98 158.59,287.32 158.59,262.94 147.54,266.60" fill="#53cc79" stroke="#000" stroke-opacity="0.45" stroke-width="0.45" stroke-linejoin="round"/>
<polygon points="147.54,266.60 158.59,262.94 155.70,254.85 144.66,258.50" fill="#68ff97" stroke="#000" stroke-opacity="0.45" stroke-width="0.45" stroke-linejoin="round"/>
<polygon points="136.50,294.64 136.50,271.23 133.62,263.14 133.62,286.54" fill="#369e68" stroke="#000" stroke-opacity="0.45" stroke-width="0.45" stroke-linejoin="round"/>
<polygon points="136.50,294.64 147.54,290.98 147.54,267.57 136.50,271.23" fill="#46cc86" stroke="#000" stroke-opacity="0.45" stroke-width="0.45" stroke-linejoin="round"/>
<polygon points="136.50,271.23 147.54,267.57 144.66,259.48 133.62,263.14" fill="#58ffa7" stroke="#000" stroke-opacity="0.45" stroke-width="0.45" stroke-linejoin="round"/>
<polygon points="125.46,298.29 125.46,283.67 122.58,275.57 122.58,290.20" fill="#00689e" stroke="#000" stroke-opacity="0.45" stroke-width="0.45" stroke-linejoin="round"/>
<polygon points="125.46,298.29 136.50,294.64 136.50,280.01 125.46,283.67" fill="#0086cc" stroke="#000" stroke-opacity="0.45" stroke-width="0.45" stroke-linejoin="round"/>
<polygon points="125.46,283.67 136.50,280.01 133.62,271.91 122.58,275.57" fill="#00a7ff" stroke="#000" stroke-opacity="0.45" stroke-width="0.45" stroke-linejoin="round"/>
<polygon points="114.42,301.95 114.42,289.86 111.54,281.76 111.54,293.86" fill="#004a9e" stroke="#000" stroke-opacity="0.45" stroke-width="0.45" stroke-linejoin="round"/>
<polygon points="114.42,301.95 125.46,298.29 125.46,286.20 114.42,289.86" fill="#0060cc" stroke="#000" stroke-opacity="0.45" stroke-width="0.45" stroke-linejoin="round"/>
<polygon points="114.42,289.86 125.46,286.20 122.58,278.11 111.54,281.76" fill="#0078ff" stroke="#000" stroke-opacity="0.45" stroke-width="0.45" stroke-linejoin="round"/>
<polygon points="103.38,305.61 103.38,300.15 100.50,292.05 100.50,297.51" fill="#00008f" stroke="#000" stroke-opacity="0.45" stroke-width="0.45" stroke-linejoin="round"/>
<polygon points="103.38,305.61 114.42,301.95 114.42,296.49 103.38,300.15" fill="#0000b9" stroke="#000" stroke-opacity="0.45" stroke-width="0.45" stroke-linejoin="round"/>
<polygon points="103.38,300.15 114.42,296.49 111.54,288.40 100.50,292.05" fill="#0000e7" stroke="#000" stroke-opacity="0.45" stroke-width="0.45" stroke-linejoin="round"/>
<polygon points="92.34,309.27 92.34,306.93 89.46,298.83 89.46,301.17" fill="#000068" stroke="#000" stroke-opacity="0.45" stroke-width="0.45" stroke-linejoin="round"/>
<polygon points="92.34,309.27 103.38,305.61 103.38,303.27 92.34,306.93" fill="#000086" stroke="#000" stroke-opacity="0.45" stroke-width="0.45" stroke-linejoin="round"/>
<polygon points="92.34,306.93 103.38,303.27 100.50,295.17 89.46,298.83" fill="#0000a7" stroke="#000" stroke-opacity="0.45" stroke-width="0.45" stroke-linejoin="round"/>
<polygon points="249.79,266.16 249.79,264.98 246.91,256.89 246.91,258.06" fill="#00005e" stroke="#000" stroke-opacity="0.45" stroke-width="0.45" stroke-linejoin="round"/>
<polygon points="249.79,266.16 260.83,262.50 260.83,261.33 249.79,264.98" fill="#000079" stroke="#000" stroke-opacity="0.45" stroke-width="0.45" stroke-linejoin="round"/>
<polygon points="249.79,264.98 260.83,261.33 257.95,253.23 246.91,256.89" fill="#000097" stroke="#000" stroke-opacity="0.45" stroke-width="0.45" stroke-linejoin="round"/>
<polygon points="238.75,269.81 238.75,267.86 235.87,259.77 235.87,261.72" fill="#000068" stroke="#000" stroke-opacity="0.45" stroke-width="0.45" stroke-linejoin="round"/>
<polygon points="238.75,269.81 249.79,266.16 249.79,264.20 238.75,267.86" fill="#000086" stroke="#000" stroke-opacity="0.45" stroke-width="0.45" stroke-linejoin="round"/>
<polygon points="238.75,267.86 249.79,264.20 246.91,256.11 235.87,259.77" fill="#0000a7" stroke="#000" stroke-opacity="0.45" stroke-width="0.45" stroke-linejoin="round"/>
<polygon points="227.71,273.47 227.71,270.54 224.83,262.45 224.83,265.38" fill="#000072" stroke="#000" stroke-opacity="0.45" stroke-width="0.45" stroke-linejoin="round"/>
<polygon points="227.71,273.47 238.75,269.81 238.75,266.89 227.71,270.54" fill="#000093" stroke="#000" stroke-opacity="0.45" stroke-width="0.45" stroke-linejoin="round"/>
<polygon points="227.71,270.54 238.75,266.89 235.87,258.79 224.83,262.45" fill="#0000b7" stroke="#000" stroke-opacity="0.45" stroke-width="0.45" stroke-linejoin="round"/>
<polygon points="216.67,277.13 216.67,272.25 213.79,264.16 213.79,269.03" fill="#00008f" stroke="#000" stroke-opacity="0.45" stroke-width="0.45" stroke-linejoin="round"/>
<polygon points="216.67,277.13 227.71,273.47 227.71,268.59 216.67,272.25" fill="#0000b9" stroke="#000" stroke-opacity="0.45" stroke-width="0.45" stroke-linejoin="round"/>
<polygon points="216.67,272.25 227.71,268.59 224.83,260.50 213.79,264.16" fill="#0000e7" stroke="#000" stroke-opacity="0.45" stroke-width="0.45" stroke-linejoin="round"/>
<polygon points="205.63,280.79 205.63,276.88 202.75,268.79 202.75,272.69" fill="#00007c" stroke="#000" stroke-opacity="0.45" stroke-width="0.45" stroke-linejoin="round"/>
<polygon points="205.63,280.79 216.67,277.13 216.67,273.23 205.63,276.88" fill="#00009f" stroke="#000" stroke-opacity="0.45" stroke-width="0.45" stroke-linejoin="round"/>
<polygon points="205.63,276.88 216.67,273.23 213.79,265.13 202.75,268.79" fill="#0000c7" stroke="#000" stroke-opacity="0.45" stroke-width="0.45" stroke-linejoin="round"/>
<polygon points="194.59,284.44 194.59,279.18 191.71,271.08 191.71,276.35" fill="#00008f" stroke="#000" stroke-opacity="0.45" stroke-width="0.45" stroke-linejoin="round"/>
<polygon points="194.59,284.44 205.63,280.79 205.63,275.52 194.59,279.18" fill="#0000b9" stroke="#000" stroke-opacity="0.45" stroke-width="0.45" stroke-linejoin="round"/>
<polygon points="194.59,279.18 205.63,275.52 202.75,267.42 191.71,271.08" fill="#0000e7" stroke="#000" stroke-opacity="0.45" stroke-width="0.45" stroke-linejoin="round"/>
<polygon points="183.55,288.10 183.55,281.27 180.67,273.18 180.67,280.01" fill="#00059e" stroke="#000" stroke-opacity="0.45" stroke-width="0.45" stroke-linejoin="round"/>
<polygon points="183.55,288.10 194.59,284.44 194.59,277.62 183.55,281.27" fill="#0006cc" stroke="#000" stroke-opacity="0.45" stroke-width="0.45" stroke-linejoin="round"/>
<polygon points="183.55,281.27 194.59,277.62 191.71,269.52 180.67,273.18" fill="#0008ff" stroke="#000" stroke-opacity="0.45" stroke-width="0.45" stroke-linejoin="round"/>
<polygon points="172.51,291.76 172.51,280.44 169.63,272.35 169.63,283.66" fill="#00409e" stroke="#000" stroke-opacity="0.45" stroke-width="0.45" stroke-linejoin="round"/>
<polygon points="172.51,291.76 183.55,288.10 183.55,276.79 172.51,280.44" fill="#0053cc" stroke="#000" stroke-opacity="0.45" stroke-width="0.45" stroke-linejoin="round"/>
<polygon points="172.51,280.44 183.55,276.79 180.67,268.69 169.63,272.35" fill="#0068ff" stroke="#000" stroke-opacity="0.45" stroke-width="0.45" stroke-linejoin="round"/>
<polygon points="161.47,295.42 161.47,284.10 158.59,276.01 158.59,287.32" fill="#00409e" stroke="#000" stroke-opacity="0.45" stroke-width="0.45" stroke-linejoin="round"/>
<polygon points="161.47,295.42 172.51,291.76 172.51,280.44 161.47,284.10" fill="#0053cc" stroke="#000" stroke-opacity="0.45" stroke-width="0.45" stroke-linejoin="round"/>
<polygon points="161.47,284.10 172.51,280.44 169.63,272.35 158.59,276.01" fill="#0068ff" stroke="#000" stroke-opacity="0.45" stroke-width="0.45" stroke-linejoin="round"/>
<polygon points="150.43,299.07 150.43,293.22 147.54,285.13 147.54,290.98" fill="#000099" stroke="#000" stroke-opacity="0.45" stroke-width="0.45" stroke-linejoin="round"/>
<polygon points="150.43,299.07 161.47,295.42 161.47,289.56 150.43,293.22" fill="#0000c6" stroke="#000" stroke-opacity="0.45" stroke-width="0.45" stroke-linejoin="round"/>
<polygon points="150.43,293.22 161.47,289.56 158.59,281.47 147.54,285.13" fill="#0000f7" stroke="#000" stroke-opacity="0.45" stroke-width="0.45" stroke-linejoin="round"/>
<polygon points="139.39,302.73 139.39,292.98 136.50,284.88 136.50,294.64" fill="#002c9e" stroke="#000" stroke-opacity="0.45" stroke-width="0.45" stroke-linejoin="round"/>
<polygon points="139.39,302.73 150.43,299.07 150.43,289.32 139.39,292.98" fill="#0039cc" stroke="#000" stroke-opacity="0.45" stroke-width="0.45" stroke-linejoin="round"/>
<polygon points="139.39,292.98 150.43,289.32 147.54,281.23 136.50,284.88" fill="#0048ff" stroke="#000" stroke-opacity="0.45" stroke-width="0.45" stroke-linejoin="round"/>
<polygon points="128.35,306.39 128.35,299.56 125.46,291.47 125.46,298.29" fill="#00059e" stroke="#000" stroke-opacity="0.45" stroke-width="0.45" stroke-linejoin="round"/>
<polygon points="128.35,306.39 139.39,302.73 139.39,295.90 128.35,299.56" fill="#0006cc" stroke="#000" stroke-opacity="0.45" stroke-width="0.45" stroke-linejoin="round"/>
<polygon points="128.35,299.56 139.39,295.90 136.50,287.81 125.46,291.47" fill="#0008ff" stroke="#000" stroke-opacity="0.45" stroke-width="0.45" stroke-linejoin="round"/>
<polygon points="117.31,310.05 117.31,305.17 114.42,297.08 114.42,301.95" fill="#00008f" stroke="#000" stroke-opacity="0.45" stroke-width="0.45" stroke-linejoin="round"/>
<polygon points="117.31,310.05 128.35,306.39 128.35,301.51 117.31,305.17" fill="#0000b9" stroke="#000" stroke-opacity="0.45" stroke-width="0.45" stroke-linejoin="round"/>
<polygon points="117.31,305.17 128.35,301.51 125.46,293.42 114.42,297.08" fill="#0000e7" stroke="#000" stroke-opacity="0.45" stroke-width="0.45" stroke-linejoin="round"/>
<polygon points="106.27,313.70 106.27,311.36 103.38,303.27 103.38,305.61" fill="#000068" stroke="#000" stroke-opacity="0.45" stroke-width="0.45" stroke-linejoin="round"/>
<polygon points="106.27,313.70 117.31,310.05 117.31,307.70 106.27,311.36" fill="#000086" stroke="#000" stroke-opacity="0.45" stroke-width="0.45" stroke-linejoin="round"/>
<polygon points="106.27,311.36 117.31,307.70 114.42,299.61 103.38,303.27" fill="#0000a7" stroke="#000" stroke-opacity="0.45" stroke-width="0.45" stroke-linejoin="round"/>
<polygon points="95.22,316.77 106.27,313.12 103.38,305.02 92.34,308.68" fill="#000087" stroke="#000" stroke-opacity="0.45" stroke-width="0.45" stroke-linejoin="round"/>
<path d="M34.67 147.39L95.22 317.36L271.88 258.84M34.67 147.39L34.67 96.19M95.22 317.36L96.43 320.75M132.03 305.17L133.24 308.56M168.83 292.98L170.04 296.37M205.63 280.79L206.84 284.18M242.43 268.59L243.64 271.98M95.22 317.36L91.81 318.49M80.81 276.89L77.39 278.02M66.39 236.42L62.97 237.55M51.97 195.95L48.56 197.08M37.56 155.48L34.14 156.62M34.67 147.39L33.47 144.00M34.67 127.89L33.47 124.49M34.67 108.38L33.47 104.99" fill="none" stroke="#555555" stroke-width="0.6"/>
<text x="31.00" y="104.35" font-size="9.30" text-anchor="end" font-family="Liberation Sans" fill="#262626" stroke="#262626" stroke-width="0.22" textLength="16.2" lengthAdjust="spacingAndGlyphs" >200</text>
<text x="31.00" y="123.75" font-size="9.30" text-anchor="end" font-family="Liberation Sans" fill="#262626" stroke="#262626" stroke-width="0.22" textLength="16.2" lengthAdjust="spacingAndGlyphs" >100</text>
<text x="31.00" y="143.15" font-size="9.30" text-anchor="end" font-family="Liberation Sans" fill="#262626" stroke="#262626" stroke-width="0.22" >0</text>
<text x="84.60" y="328.55" font-size="9.30" text-anchor="middle" font-family="Liberation Sans" fill="#262626" stroke="#262626" stroke-width="0.22" >0</text>
<text x="69.50" y="287.85" font-size="9.30" text-anchor="middle" font-family="Liberation Sans" fill="#262626" stroke="#262626" stroke-width="0.22" >5</text>
<text x="52.50" y="247.85" font-size="9.30" text-anchor="middle" font-family="Liberation Sans" fill="#262626" stroke="#262626" stroke-width="0.22" textLength="10.8" lengthAdjust="spacingAndGlyphs" >10</text>
<text x="39.50" y="206.35" font-size="9.30" text-anchor="middle" font-family="Liberation Sans" fill="#262626" stroke="#262626" stroke-width="0.22" textLength="10.8" lengthAdjust="spacingAndGlyphs" >15</text>
<text x="23.50" y="166.35" font-size="9.30" text-anchor="middle" font-family="Liberation Sans" fill="#262626" stroke="#262626" stroke-width="0.22" textLength="10.8" lengthAdjust="spacingAndGlyphs" >20</text>
<text x="100.50" y="333.85" font-size="9.30" text-anchor="middle" font-family="Liberation Sans" fill="#262626" stroke="#262626" stroke-width="0.22" >0</text>
<text x="140.50" y="321.85" font-size="9.30" text-anchor="middle" font-family="Liberation Sans" fill="#262626" stroke="#262626" stroke-width="0.22" textLength="10.8" lengthAdjust="spacingAndGlyphs" >10</text>
<text x="177.50" y="308.85" font-size="9.30" text-anchor="middle" font-family="Liberation Sans" fill="#262626" stroke="#262626" stroke-width="0.22" textLength="10.8" lengthAdjust="spacingAndGlyphs" >20</text>
<text x="214.50" y="296.85" font-size="9.30" text-anchor="middle" font-family="Liberation Sans" fill="#262626" stroke="#262626" stroke-width="0.22" textLength="10.8" lengthAdjust="spacingAndGlyphs" >30</text>
<text x="252.00" y="284.85" font-size="9.30" text-anchor="middle" font-family="Liberation Sans" fill="#262626" stroke="#262626" stroke-width="0.22" textLength="10.8" lengthAdjust="spacingAndGlyphs" >40</text>
<text x="5.50" y="299.80" font-size="9.30" text-anchor="start" font-family="Liberation Sans" fill="#262626" stroke="#262626" stroke-width="0.22" textLength="47.0" lengthAdjust="spacingAndGlyphs" >dist [mm]</text>
<text x="165.50" y="324.50" font-size="9.50" text-anchor="start" font-family="Liberation Sans" fill="#262626" font-style="italic">θ</text>
<text x="170.70" y="328.30" font-size="8.00" text-anchor="start" font-family="Liberation Sans" fill="#262626" stroke="#262626" stroke-width="0.22" >x</text>
<text x="176.00" y="322.50" font-size="9.50" text-anchor="start" font-family="Liberation Sans" fill="#262626" stroke="#262626" stroke-width="0.22" >°</text>
<rect x="296.25" y="15.25" width="14.75" height="6.57" fill="#870000"/>
<rect x="296.25" y="20.32" width="14.75" height="6.57" fill="#970000"/>
<rect x="296.25" y="25.39" width="14.75" height="6.57" fill="#a70000"/>
<rect x="296.25" y="30.46" width="14.75" height="6.57" fill="#b70000"/>
<rect x="296.25" y="35.53" width="14.75" height="6.57" fill="#c70000"/>
<rect x="296.25" y="40.60" width="14.75" height="6.57" fill="#d70000"/>
<rect x="296.25" y="45.67" width="14.75" height="6.57" fill="#e70000"/>
<rect x="296.25" y="50.74" width="14.75" height="6.57" fill="#f70000"/>
<rect x="296.25" y="55.81" width="14.75" height="6.57" fill="#ff0800"/>
<rect x="296.25" y="60.88" width="14.75" height="6.57" fill="#ff1800"/>
<rect x="296.25" y="65.95" width="14.75" height="6.57" fill="#ff2800"/>
<rect x="296.25" y="71.02" width="14.75" height="6.57" fill="#ff3800"/>
<rect x="296.25" y="76.09" width="14.75" height="6.57" fill="#ff4800"/>
<rect x="296.25" y="81.16" width="14.75" height="6.57" fill="#ff5800"/>
<rect x="296.25" y="86.23" width="14.75" height="6.57" fill="#ff6800"/>
<rect x="296.25" y="91.30" width="14.75" height="6.57" fill="#ff7800"/>
<rect x="296.25" y="96.38" width="14.75" height="6.57" fill="#ff8700"/>
<rect x="296.25" y="101.45" width="14.75" height="6.57" fill="#ff9700"/>
<rect x="296.25" y="106.52" width="14.75" height="6.57" fill="#ffa700"/>
<rect x="296.25" y="111.59" width="14.75" height="6.57" fill="#ffb700"/>
<rect x="296.25" y="116.66" width="14.75" height="6.57" fill="#ffc700"/>
<rect x="296.25" y="121.73" width="14.75" height="6.57" fill="#ffd700"/>
<rect x="296.25" y="126.80" width="14.75" height="6.57" fill="#ffe700"/>
<rect x="296.25" y="131.87" width="14.75" height="6.57" fill="#fff700"/>
<rect x="296.25" y="136.94" width="14.75" height="6.57" fill="#f7ff08"/>
<rect x="296.25" y="142.01" width="14.75" height="6.57" fill="#e7ff18"/>
<rect x="296.25" y="147.08" width="14.75" height="6.57" fill="#d7ff28"/>
<rect x="296.25" y="152.15" width="14.75" height="6.57" fill="#c7ff38"/>
<rect x="296.25" y="157.22" width="14.75" height="6.57" fill="#b7ff48"/>
<rect x="296.25" y="162.29" width="14.75" height="6.57" fill="#a7ff58"/>
<rect x="296.25" y="167.36" width="14.75" height="6.57" fill="#97ff68"/>
<rect x="296.25" y="172.43" width="14.75" height="6.57" fill="#87ff78"/>
<rect x="296.25" y="177.50" width="14.75" height="6.57" fill="#78ff87"/>
<rect x="296.25" y="182.57" width="14.75" height="6.57" fill="#68ff97"/>
<rect x="296.25" y="187.64" width="14.75" height="6.57" fill="#58ffa7"/>
<rect x="296.25" y="192.71" width="14.75" height="6.57" fill="#48ffb7"/>
<rect x="296.25" y="197.78" width="14.75" height="6.57" fill="#38ffc7"/>
<rect x="296.25" y="202.85" width="14.75" height="6.57" fill="#28ffd7"/>
<rect x="296.25" y="207.92" width="14.75" height="6.57" fill="#18ffe7"/>
<rect x="296.25" y="212.99" width="14.75" height="6.57" fill="#08fff7"/>
<rect x="296.25" y="218.06" width="14.75" height="6.57" fill="#00f7ff"/>
<rect x="296.25" y="223.13" width="14.75" height="6.57" fill="#00e7ff"/>
<rect x="296.25" y="228.20" width="14.75" height="6.57" fill="#00d7ff"/>
<rect x="296.25" y="233.27" width="14.75" height="6.57" fill="#00c7ff"/>
<rect x="296.25" y="238.34" width="14.75" height="6.57" fill="#00b7ff"/>
<rect x="296.25" y="243.41" width="14.75" height="6.57" fill="#00a7ff"/>
<rect x="296.25" y="248.48" width="14.75" height="6.57" fill="#0097ff"/>
<rect x="296.25" y="253.55" width="14.75" height="6.57" fill="#0087ff"/>
<rect x="296.25" y="258.62" width="14.75" height="6.57" fill="#0078ff"/>
<rect x="296.25" y="263.70" width="14.75" height="6.57" fill="#0068ff"/>
<rect x="296.25" y="268.77" width="14.75" height="6.57" fill="#0058ff"/>
<rect x="296.25" y="273.84" width="14.75" height="6.57" fill="#0048ff"/>
<rect x="296.25" y="278.91" width="14.75" height="6.57" fill="#0038ff"/>
<rect x="296.25" y="283.98" width="14.75" height="6.57" fill="#0028ff"/>
<rect x="296.25" y="289.05" width="14.75" height="6.57" fill="#0018ff"/>
<rect x="296.25" y="294.12" width="14.75" height="6.57" fill="#0008ff"/>
<rect x="296.25" y="299.19" width="14.75" height="6.57" fill="#0000f7"/>
<rect x="296.25" y="304.26" width="14.75" height="6.57" fill="#0000e7"/>
<rect x="296.25" y="309.33" width="14.75" height="6.57" fill="#0000d7"/>
<rect x="296.25" y="314.40" width="14.75" height="6.57" fill="#0000c7"/>
<rect x="296.25" y="319.47" width="14.75" height="6.57" fill="#0000b7"/>
<rect x="296.25" y="324.54" width="14.75" height="6.57" fill="#0000a7"/>
<rect x="296.25" y="329.61" width="14.75" height="6.57" fill="#000097"/>
<rect x="296.25" y="334.68" width="14.75" height="5.07" fill="#000087"/>
<rect x="296.25" y="15.25" width="14.75" height="324.50" fill="none" stroke="#262626" stroke-opacity="0.7" stroke-width="0.6"/>
<text x="315.00" y="280.94" font-size="8.60" text-anchor="start" font-family="Liberation Sans" fill="#262626" stroke="#262626" stroke-width="0.22" textLength="9.8" lengthAdjust="spacingAndGlyphs" >50</text>
<text x="315.00" y="219.13" font-size="8.60" text-anchor="start" font-family="Liberation Sans" fill="#262626" stroke="#262626" stroke-width="0.22" textLength="14.7" lengthAdjust="spacingAndGlyphs" >100</text>
<text x="315.00" y="157.32" font-size="8.60" text-anchor="start" font-family="Liberation Sans" fill="#262626" stroke="#262626" stroke-width="0.22" textLength="14.7" lengthAdjust="spacingAndGlyphs" >150</text>
<text x="315.00" y="95.51" font-size="8.60" text-anchor="start" font-family="Liberation Sans" fill="#262626" stroke="#262626" stroke-width="0.22" textLength="14.7" lengthAdjust="spacingAndGlyphs" >200</text>
<text x="315.00" y="33.70" font-size="8.60" text-anchor="start" font-family="Liberation Sans" fill="#262626" stroke="#262626" stroke-width="0.22" textLength="14.7" lengthAdjust="spacingAndGlyphs" >250</text>
<text x="315.00" y="342.75" font-size="8.60" text-anchor="start" font-family="Liberation Sans" fill="#262626" stroke="#262626" stroke-width="0.22" >0</text>
<path d="M311.00 277.94h-3M311.00 216.13h-3M311.00 154.32h-3M311.00 92.51h-3M311.00 30.70h-3" stroke="#262626" stroke-width="0.6" fill="none"/>
<text x="303.70" y="10.60" font-size="8.80" text-anchor="middle" font-family="Liberation Sans" fill="#262626" stroke="#262626" stroke-width="0.22" textLength="21.7" lengthAdjust="spacingAndGlyphs" >count</text>
<path d="M481.52 15.40V339.60M540.54 15.40V339.60M599.56 15.40V339.60M658.58 15.40V339.60M422.50 274.76H717.60M422.50 209.92H717.60M422.50 145.08H717.60M422.50 80.24H717.60" stroke="#dedede" stroke-width="0.6" fill="none"/>
<path d="M429.9 326.8h0M427.0 339.5h0M433.3 325.9h0M430.4 325.4h0M430.0 313.5h0M425.9 322.7h0M431.6 327.8h0M428.2 319.3h0M430.2 322.0h0M440.2 324.4h0M428.7 316.1h0M431.6 327.1h0M429.6 325.3h0M434.4 323.3h0M437.3 322.1h0M427.6 306.1h0M432.2 314.4h0M426.6 312.3h0M429.4 312.1h0M432.9 302.8h0M427.6 303.6h0M433.3 310.4h0M428.3 311.1h0M432.7 314.6h0M429.3 302.0h0M430.5 307.9h0M432.2 303.0h0M434.1 316.6h0M434.8 305.3h0M431.3 288.0h0M428.9 298.0h0M437.1 293.4h0M426.1 284.2h0M433.1 296.3h0M436.5 292.4h0M432.2 290.2h0M428.2 296.9h0M426.5 295.6h0M427.9 300.3h0M429.6 283.3h0M429.8 278.3h0M428.0 280.7h0M433.2 276.7h0M444.4 283.8h0M440.1 279.4h0M448.1 330.8h0M449.5 334.4h0M443.7 334.2h0M453.8 338.9h0M443.6 332.7h0M445.5 335.9h0M460.6 333.7h0M448.5 338.5h0M447.9 329.1h0M440.2 331.5h0M447.8 330.4h0M438.9 330.3h0M442.5 317.9h0M449.0 310.5h0M452.9 312.7h0M449.7 323.3h0M453.5 320.5h0M447.9 326.0h0M444.5 318.8h0M455.8 324.7h0M448.6 324.8h0M443.9 320.4h0M459.9 318.6h0M450.7 316.9h0M450.3 325.1h0M458.4 326.7h0M455.2 320.9h0M457.8 316.3h0M445.3 318.5h0M449.0 317.6h0M439.5 321.2h0M448.9 318.2h0M443.2 321.5h0M450.7 324.9h0M447.9 323.9h0M447.4 317.0h0M434.7 319.8h0M455.4 318.6h0M449.9 321.8h0M453.8 322.0h0M452.4 313.0h0M444.7 306.8h0M441.6 308.7h0M446.4 306.6h0M439.4 312.4h0M442.5 308.9h0M435.8 306.8h0M462.9 315.2h0M446.2 299.8h0M441.6 309.1h0M462.4 313.6h0M444.7 303.3h0M449.8 305.2h0M439.1 299.2h0M449.6 310.5h0M447.5 302.1h0M441.1 298.2h0M459.3 315.2h0M451.4 305.3h0M453.0 310.5h0M443.5 305.6h0M458.8 310.5h0M450.9 301.8h0M441.2 302.4h0M449.8 310.7h0M443.4 305.3h0M451.8 308.7h0M448.6 305.8h0M447.9 301.5h0M458.4 314.5h0M439.1 303.9h0M458.4 314.4h0M448.4 307.7h0M453.8 300.4h0M450.1 303.6h0M458.6 310.4h0M460.2 288.9h0M442.8 298.9h0M443.5 294.7h0M457.2 291.5h0M454.0 300.5h0M446.0 299.6h0M451.1 293.1h0M442.8 295.3h0M435.9 295.5h0M440.6 297.9h0M454.4 287.2h0M447.8 292.2h0M451.1 297.9h0M448.7 294.0h0M448.8 305.1h0M448.9 288.9h0M450.6 289.8h0M452.4 298.6h0M438.1 295.6h0M444.4 293.8h0M457.6 293.5h0M447.3 296.2h0M451.5 297.9h0M452.3 298.0h0M449.3 290.5h0M440.8 296.1h0M442.7 301.4h0M458.8 287.0h0M438.9 281.0h0M446.5 282.0h0M453.8 282.6h0M451.5 288.5h0M461.5 286.4h0M459.0 282.2h0M451.6 281.4h0M451.4 278.7h0M443.7 284.5h0M447.6 273.9h0M442.5 286.5h0M451.2 284.0h0M437.6 278.6h0M448.6 277.0h0M453.4 283.6h0M445.2 271.4h0M450.8 283.2h0M448.3 289.4h0M446.8 282.7h0M443.7 280.1h0M454.8 278.0h0M437.1 282.0h0M458.5 266.1h0M440.1 267.5h0M453.2 269.9h0M457.3 272.1h0M450.5 268.4h0M440.3 274.1h0M448.5 274.7h0M448.1 276.3h0M450.4 262.9h0M443.1 270.5h0M456.5 270.6h0M460.1 272.8h0M445.5 262.9h0M459.7 270.0h0M456.8 254.5h0M447.4 255.6h0M461.9 253.5h0M448.8 253.9h0M445.8 250.2h0M443.9 255.2h0M458.7 262.7h0M474.6 327.7h0M454.5 336.5h0M472.1 327.5h0M470.2 334.6h0M470.4 334.5h0M469.4 333.1h0M458.4 327.5h0M478.3 333.2h0M479.4 328.4h0M474.1 332.6h0M462.7 336.9h0M455.5 337.9h0M461.7 337.1h0M459.7 331.2h0M473.3 334.5h0M460.4 332.7h0M466.4 331.8h0M465.5 325.4h0M470.4 332.5h0M480.2 334.1h0M472.2 339.3h0M461.1 334.3h0M475.9 337.3h0M459.2 335.4h0M458.3 335.2h0M466.5 312.4h0M459.5 318.0h0M466.4 324.5h0M455.6 317.8h0M457.7 319.3h0M472.4 326.7h0M469.1 320.6h0M470.3 317.3h0M464.4 323.8h0M458.0 313.3h0M474.3 323.3h0M464.7 322.4h0M468.1 328.2h0M465.9 318.5h0M458.3 328.3h0M465.2 322.1h0M466.5 319.2h0M466.3 323.8h0M464.1 325.5h0M478.4 314.6h0M464.5 318.6h0M474.8 328.4h0M460.2 325.4h0M471.2 322.0h0M465.2 324.0h0M462.3 325.2h0M469.9 324.7h0M462.9 309.5h0M472.7 320.8h0M470.7 316.4h0M461.8 318.0h0M469.7 321.9h0M453.7 317.0h0M468.9 322.9h0M461.3 326.4h0M475.1 320.5h0M477.0 321.2h0M472.1 325.9h0M460.3 316.9h0M470.5 322.8h0M467.7 325.7h0M473.5 326.6h0M481.1 324.1h0M463.1 325.1h0M460.7 325.3h0M468.1 318.4h0M472.6 320.6h0M471.0 321.5h0M464.7 311.5h0M452.8 314.2h0M471.0 322.4h0M463.0 324.4h0M463.9 321.9h0M470.1 318.8h0M461.5 322.1h0M466.4 321.2h0M472.2 314.9h0M479.2 325.5h0M459.4 321.2h0M468.6 314.1h0M476.2 313.3h0M461.2 321.4h0M473.9 311.0h0M466.0 308.6h0M466.8 303.9h0M468.5 299.2h0M459.0 311.7h0M458.6 296.7h0M467.6 303.4h0M465.2 306.6h0M457.3 314.8h0M463.2 318.0h0M468.7 307.6h0M467.1 308.9h0M470.9 305.0h0M466.2 312.0h0M471.5 314.0h0M468.3 306.4h0M458.7 310.7h0M462.6 305.6h0M475.8 300.6h0M467.8 310.2h0M469.7 306.5h0M469.3 313.6h0M454.8 315.9h0M473.3 308.6h0M463.5 303.2h0M454.5 308.1h0M469.4 315.8h0M467.8 311.6h0M461.1 305.9h0M475.0 303.5h0M470.5 302.2h0M466.9 304.7h0M460.4 299.2h0M463.0 311.0h0M463.6 303.5h0M464.4 308.0h0M474.9 315.6h0M467.9 306.8h0M478.2 312.4h0M463.8 308.3h0M453.5 310.6h0M469.9 298.9h0M463.5 313.1h0M469.6 314.4h0M471.2 311.0h0M460.2 310.6h0M473.8 302.8h0M458.1 310.7h0M455.6 313.4h0M462.8 308.0h0M472.3 309.6h0M471.0 302.0h0M466.0 308.5h0M464.8 314.9h0M480.3 311.1h0M462.2 311.1h0M472.9 299.7h0M468.8 297.8h0M460.2 309.6h0M468.5 312.2h0M466.9 304.2h0M473.9 316.6h0M461.5 311.8h0M461.6 305.2h0M457.1 304.2h0M463.2 306.5h0M470.5 317.5h0M462.7 300.3h0M461.5 304.4h0M477.7 299.3h0M469.2 300.7h0M468.4 309.2h0M477.1 300.8h0M456.9 293.5h0M461.4 294.8h0M463.4 291.1h0M458.2 290.1h0M465.3 297.0h0M472.4 298.1h0M473.7 286.2h0M462.5 294.1h0M472.6 294.2h0M469.1 295.9h0M461.6 289.3h0M475.9 294.3h0M466.5 292.3h0M465.1 286.8h0M462.7 292.0h0M462.2 290.3h0M457.9 291.8h0M463.6 300.8h0M470.0 298.8h0M467.5 294.8h0M465.5 301.8h0M472.7 286.5h0M477.7 301.0h0M471.3 287.1h0M473.9 294.8h0M467.2 297.2h0M467.1 287.8h0M471.7 286.9h0M474.0 301.8h0M471.5 294.0h0M456.8 291.1h0M463.2 297.3h0M464.9 285.8h0M457.1 295.3h0M471.4 292.0h0M470.8 285.4h0M466.1 288.5h0M470.5 288.6h0M466.7 294.6h0M474.2 277.5h0M467.3 284.3h0M467.7 283.5h0M472.3 279.2h0M462.6 285.5h0M465.2 281.8h0M469.9 279.5h0M463.3 280.1h0M475.3 282.1h0M461.0 276.0h0M464.8 286.4h0M471.2 281.8h0M470.8 288.1h0M478.9 279.5h0M474.8 274.8h0M470.6 278.0h0M459.7 278.9h0M466.5 288.3h0M462.3 273.6h0M467.5 282.5h0M462.8 278.7h0M459.6 283.2h0M469.5 290.2h0M468.6 277.1h0M461.0 280.2h0M477.5 270.6h0M463.6 290.4h0M460.6 281.1h0M470.1 267.7h0M481.1 265.7h0M463.2 267.0h0M466.3 258.0h0M453.3 261.2h0M462.4 268.8h0M468.6 269.0h0M468.3 257.5h0M470.8 275.7h0M473.2 258.5h0M462.5 268.1h0M470.2 267.8h0M462.4 270.3h0M463.3 271.4h0M460.3 265.4h0M475.6 253.1h0M467.9 264.9h0M470.6 253.0h0M475.7 249.6h0M473.1 252.6h0M466.5 251.0h0M470.3 257.0h0M464.2 256.6h0M468.3 245.4h0M466.8 234.5h0M461.7 242.5h0M495.4 331.6h0M491.5 335.9h0M489.5 328.2h0M487.1 330.1h0M481.5 336.4h0M486.2 334.5h0M485.0 327.6h0M480.2 335.6h0M487.3 331.7h0M498.8 338.3h0M482.6 333.0h0M488.7 330.8h0M482.4 339.2h0M488.0 337.8h0M490.0 332.5h0M478.1 327.2h0M480.4 338.2h0M477.0 336.7h0M488.0 325.0h0M481.9 331.2h0M485.0 336.4h0M485.7 328.4h0M477.8 335.4h0M482.0 338.9h0M486.0 338.8h0M476.3 330.5h0M478.8 332.9h0M483.5 334.0h0M490.1 328.6h0M489.8 329.7h0M483.4 329.9h0M475.0 333.3h0M477.4 331.2h0M486.1 328.5h0M482.3 329.6h0M489.9 324.1h0M487.8 310.4h0M491.0 320.5h0M476.9 321.9h0M476.5 325.1h0M491.9 317.9h0M481.9 321.6h0M489.8 320.7h0M491.7 326.4h0M484.3 318.8h0M484.6 320.5h0M484.6 316.0h0M483.5 323.2h0M481.0 323.4h0M487.5 323.3h0M477.7 321.6h0M477.6 329.9h0M483.3 310.4h0M486.5 325.3h0M483.7 322.7h0M491.0 322.8h0M484.1 309.7h0M483.8 313.8h0M488.5 320.3h0M478.1 319.4h0M486.0 322.7h0M485.1 326.6h0M486.4 309.1h0M487.4 315.6h0M487.0 324.1h0M473.5 314.2h0M482.6 316.3h0M475.1 314.5h0M478.8 318.9h0M477.8 318.3h0M477.8 331.5h0M483.6 321.0h0M485.1 313.4h0M491.7 313.3h0M489.0 322.3h0M478.6 318.2h0M487.3 328.3h0M494.0 318.8h0M486.1 317.6h0M487.0 326.2h0M494.4 314.9h0M488.4 323.1h0M487.6 320.5h0M491.1 310.8h0M495.7 320.6h0M490.7 321.5h0M487.7 320.6h0M493.0 319.6h0M483.5 326.8h0M479.2 322.5h0M485.8 322.8h0M489.7 320.3h0M484.6 328.3h0M484.2 324.5h0M480.3 319.0h0M486.0 312.6h0M484.2 312.7h0M474.7 310.7h0M481.4 311.5h0M480.5 319.9h0M474.0 317.3h0M486.3 317.2h0M484.7 315.0h0M486.4 321.7h0M480.1 321.1h0M487.2 331.0h0M487.2 313.8h0M486.6 317.1h0M480.2 325.2h0M492.1 326.6h0M494.4 309.2h0M491.9 305.3h0M483.5 311.5h0M492.9 305.9h0M482.2 307.5h0M486.8 312.9h0M485.4 298.1h0M475.6 314.0h0M489.5 303.3h0M486.0 308.9h0M487.7 308.7h0M481.5 312.0h0M489.0 305.5h0M482.4 305.2h0M483.5 303.2h0M484.3 314.6h0M484.9 305.0h0M484.6 306.0h0M472.0 312.7h0M483.9 309.6h0M491.0 302.1h0M482.7 305.5h0M482.3 302.6h0M478.6 299.9h0M485.0 311.6h0M478.2 300.3h0M476.0 302.2h0M477.1 306.7h0M489.5 308.4h0M493.2 309.9h0M493.8 304.2h0M481.9 315.0h0M488.4 308.7h0M481.7 307.9h0M475.6 309.4h0M490.1 305.6h0M487.9 317.5h0M478.9 308.1h0M494.0 315.3h0M473.2 298.3h0M491.6 302.5h0M485.3 308.2h0M485.3 301.9h0M486.5 313.2h0M494.2 307.3h0M493.1 313.9h0M477.5 306.6h0M485.5 309.7h0M476.4 309.9h0M477.0 305.6h0M493.6 298.8h0M483.6 301.9h0M484.4 302.2h0M471.8 315.0h0M494.0 304.8h0M480.2 310.0h0M492.1 306.0h0M485.8 300.9h0M480.6 301.3h0M488.9 309.7h0M481.2 303.3h0M491.1 311.0h0M480.0 301.3h0M484.0 317.9h0M483.6 307.6h0M480.4 302.6h0M486.6 310.8h0M474.6 307.6h0M484.2 312.1h0M482.5 298.4h0M492.0 306.7h0M476.4 310.5h0M471.7 305.9h0M478.8 303.7h0M485.1 310.9h0M475.0 312.0h0M480.1 306.6h0M494.0 313.9h0M492.4 316.6h0M494.6 308.7h0M491.9 288.2h0M494.1 299.0h0M486.3 301.6h0M483.3 296.6h0M491.4 293.8h0M494.1 292.7h0M490.0 294.9h0M487.1 297.0h0M488.7 289.8h0M483.4 291.7h0M476.0 302.4h0M482.6 300.4h0M479.5 292.5h0M489.2 295.4h0M489.7 295.2h0M472.4 293.5h0M479.5 301.3h0M488.1 298.7h0M493.1 299.5h0M491.6 302.0h0M491.5 302.0h0M487.6 298.4h0M481.8 292.5h0M483.8 300.4h0M485.9 295.2h0M487.3 298.5h0M482.3 288.6h0M491.3 292.7h0M489.4 300.7h0M483.1 292.0h0M484.5 299.1h0M475.7 303.1h0M488.1 283.5h0M488.2 303.5h0M478.4 294.2h0M477.2 300.4h0M489.7 293.4h0M490.6 300.7h0M488.3 298.1h0M481.1 294.0h0M483.0 283.8h0M484.4 288.7h0M470.5 289.8h0M481.8 293.3h0M482.9 295.0h0M484.4 290.2h0M475.2 289.3h0M490.4 294.3h0M477.8 300.0h0M499.2 297.6h0M480.4 273.9h0M482.9 281.7h0M476.6 283.0h0M481.9 287.2h0M484.6 282.2h0M475.9 281.0h0M470.5 280.7h0M491.0 285.8h0M495.1 271.9h0M497.6 279.5h0M481.4 279.2h0M471.7 281.4h0M486.8 279.8h0M484.5 288.1h0M487.1 283.0h0M476.2 279.6h0M476.9 286.3h0M485.7 277.1h0M475.7 281.0h0M489.4 285.0h0M478.6 281.3h0M485.9 282.1h0M487.6 280.6h0M483.4 283.1h0M483.3 281.5h0M477.9 276.3h0M488.3 279.8h0M484.5 277.8h0M482.8 283.3h0M488.9 279.4h0M491.6 264.5h0M473.2 263.8h0M478.5 269.9h0M490.7 269.1h0M489.4 272.9h0M471.2 263.6h0M483.9 265.3h0M477.9 266.0h0M487.6 260.7h0M478.7 266.3h0M473.5 264.3h0M488.5 270.4h0M491.2 268.4h0M475.4 264.5h0M476.6 268.5h0M473.7 259.6h0M487.2 274.7h0M490.6 270.3h0M485.7 258.2h0M488.5 271.4h0M486.0 246.1h0M474.4 258.7h0M476.5 249.5h0M484.2 253.0h0M484.5 255.6h0M481.8 258.9h0M494.2 260.7h0M480.4 253.9h0M511.3 327.5h0M502.5 331.4h0M498.2 334.2h0M502.8 339.3h0M492.8 328.0h0M512.9 325.1h0M507.5 330.9h0M502.0 331.2h0M495.3 338.8h0M499.1 333.3h0M506.2 333.6h0M506.4 330.5h0M509.1 325.9h0M500.5 335.8h0M503.0 338.6h0M509.8 329.4h0M495.6 334.0h0M500.2 335.5h0M502.9 328.0h0M496.7 339.3h0M490.2 327.5h0M492.9 337.6h0M501.7 327.8h0M506.9 336.2h0M498.7 332.4h0M513.6 326.1h0M511.5 337.4h0M509.1 333.4h0M502.7 332.5h0M512.7 327.4h0M511.6 335.3h0M499.8 337.9h0M496.2 337.2h0M509.9 334.0h0M499.1 328.8h0M498.8 330.0h0M494.9 326.0h0M511.8 334.3h0M495.7 332.3h0M494.1 331.2h0M506.7 333.4h0M511.9 331.1h0M508.9 331.6h0M496.9 330.3h0M497.5 336.7h0M503.5 331.7h0M500.1 335.3h0M499.4 330.4h0M490.9 337.0h0M508.8 332.3h0M498.7 317.4h0M493.3 315.9h0M493.8 319.6h0M504.8 323.7h0M509.3 319.4h0M502.5 312.9h0M505.0 324.0h0M492.0 320.1h0M501.2 322.5h0M495.0 320.1h0M511.8 325.4h0M501.4 319.2h0M503.7 317.5h0M500.1 328.4h0M496.9 326.1h0M502.7 320.4h0M505.8 318.6h0M499.3 313.1h0M504.0 330.0h0M506.4 324.9h0M492.4 323.7h0M500.4 328.4h0M499.7 317.9h0M506.8 322.4h0M509.7 321.1h0M505.7 318.6h0M499.9 328.6h0M491.1 315.5h0M502.9 321.3h0M502.1 320.9h0M503.8 315.1h0M503.4 325.7h0M503.4 316.0h0M502.2 317.2h0M505.4 317.8h0M508.9 322.8h0M495.6 314.8h0M512.1 322.3h0M495.2 316.8h0M497.2 314.8h0M505.8 318.3h0M504.7 328.5h0M497.9 316.8h0M501.5 309.3h0M507.0 321.6h0M507.8 322.6h0M512.4 313.9h0M500.5 314.7h0M495.9 320.4h0M500.8 321.7h0M500.4 324.5h0M491.8 324.1h0M497.8 316.9h0M507.7 324.5h0M513.4 312.1h0M509.1 320.8h0M502.5 314.1h0M492.8 316.1h0M499.2 316.4h0M495.2 320.3h0M496.1 319.7h0M508.0 320.5h0M492.7 313.8h0M498.0 326.8h0M489.0 318.4h0M489.5 321.7h0M496.2 322.9h0M507.1 324.1h0M501.4 317.4h0M501.0 320.0h0M507.4 316.9h0M506.6 318.5h0M488.5 319.3h0M501.3 314.5h0M507.3 325.9h0M500.3 310.8h0M504.5 319.4h0M513.3 316.5h0M508.3 322.1h0M501.7 326.7h0M496.3 318.9h0M496.3 318.4h0M497.2 314.5h0M493.6 313.9h0M504.0 324.0h0M512.8 313.8h0M496.3 320.9h0M508.8 317.0h0M504.9 316.0h0M514.0 311.6h0M505.5 320.3h0M504.1 316.1h0M505.5 321.7h0M494.6 315.7h0M497.0 318.3h0M494.6 320.5h0M512.4 323.6h0M496.0 319.9h0M500.1 317.6h0M511.9 320.2h0M507.5 318.7h0M504.9 317.4h0M494.9 320.8h0M492.0 319.3h0M512.4 320.1h0M508.8 317.6h0M497.3 316.3h0M508.5 310.5h0M503.9 322.6h0M501.4 324.6h0M508.4 320.2h0M496.0 320.7h0M508.2 325.9h0M509.3 320.9h0M511.4 319.6h0M498.9 319.0h0M493.1 314.4h0M507.7 319.8h0M499.7 325.1h0M490.5 319.4h0M494.5 302.5h0M506.8 308.6h0M505.0 306.2h0M497.2 304.4h0M496.8 307.8h0M499.7 302.7h0M494.4 307.4h0M502.5 301.5h0M512.7 310.2h0M503.9 303.7h0M505.4 305.7h0M497.4 316.0h0M500.5 299.4h0M500.1 310.5h0M502.9 300.4h0M496.7 303.5h0M512.4 303.3h0M499.6 307.3h0M508.1 301.2h0M504.0 303.2h0M500.5 305.4h0M503.3 301.1h0M505.7 306.8h0M498.0 303.9h0M503.8 308.9h0M502.7 314.7h0M497.2 298.6h0M499.4 308.7h0M500.4 308.1h0M492.5 308.6h0M500.4 302.5h0M496.8 303.8h0M509.7 307.2h0M500.1 314.5h0M499.9 305.9h0M510.4 306.9h0M491.4 306.9h0M505.9 309.8h0M500.9 307.2h0M490.5 302.6h0M491.7 305.9h0M501.0 307.9h0M508.0 308.8h0M500.1 316.9h0M494.9 307.7h0M499.5 306.6h0M494.5 310.0h0M501.8 317.4h0M504.3 306.5h0M509.8 308.2h0M501.7 306.2h0M504.3 308.3h0M493.4 307.3h0M503.2 302.8h0M493.3 305.0h0M509.3 310.5h0M509.0 297.1h0M499.5 313.2h0M493.8 301.5h0M503.5 301.3h0M507.3 305.3h0M505.9 309.8h0M500.5 309.7h0M505.6 307.7h0M499.8 310.5h0M498.5 302.0h0M495.0 303.3h0M499.4 300.2h0M492.4 308.0h0M506.9 307.4h0M502.0 308.4h0M512.5 311.4h0M491.6 311.9h0M499.1 312.2h0M498.0 305.7h0M504.5 306.3h0M512.5 297.6h0M502.2 310.0h0M498.3 311.5h0M504.0 297.4h0M489.2 313.5h0M506.1 310.1h0M497.2 301.7h0M497.3 305.4h0M492.5 306.7h0M502.0 306.4h0M501.0 309.5h0M514.6 315.3h0M494.4 307.6h0M499.4 305.1h0M496.9 309.6h0M499.3 305.3h0M501.7 309.0h0M499.2 307.1h0M503.5 297.8h0M496.4 309.2h0M491.8 306.2h0M496.8 305.5h0M502.1 310.4h0M497.5 311.8h0M514.3 303.5h0M506.0 314.4h0M496.5 303.1h0M499.2 298.6h0M502.5 316.8h0M494.4 307.6h0M509.8 308.2h0M504.6 306.4h0M501.8 312.1h0M512.1 303.2h0M503.8 305.1h0M509.2 304.1h0M496.7 303.7h0M499.8 311.9h0M505.5 308.9h0M496.2 291.5h0M492.9 294.9h0M511.9 297.7h0M494.3 299.1h0M504.2 294.4h0M500.9 291.1h0M498.9 293.9h0M506.4 296.5h0M503.5 297.0h0M498.5 291.0h0M502.6 304.5h0M501.9 293.5h0M498.2 286.7h0M497.8 293.4h0M510.6 297.3h0M503.7 303.0h0M498.8 296.1h0M493.0 297.7h0M495.1 290.8h0M499.9 297.1h0M513.3 292.7h0M501.0 289.9h0M508.5 292.7h0M506.6 288.7h0M510.7 296.9h0M498.8 303.1h0M508.0 294.8h0M501.5 292.3h0M495.1 285.9h0M511.5 292.3h0M499.0 300.0h0M497.0 303.9h0M508.5 291.7h0M499.9 296.2h0M499.1 295.3h0M495.2 292.1h0M493.8 289.0h0M505.2 296.8h0M508.6 295.0h0M510.5 289.0h0M504.5 293.0h0M499.6 300.2h0M492.1 303.4h0M500.6 297.2h0M496.0 294.9h0M508.5 293.7h0M505.3 296.1h0M506.4 290.7h0M497.4 295.8h0M494.3 297.5h0M499.5 290.4h0M511.1 288.4h0M514.6 290.3h0M502.5 290.6h0M494.8 300.8h0M510.6 288.8h0M503.9 288.2h0M505.5 293.9h0M504.3 285.9h0M503.2 289.5h0M491.4 292.2h0M491.8 293.1h0M504.4 289.0h0M505.3 292.6h0M500.1 290.7h0M493.4 289.4h0M499.7 285.8h0M508.0 296.3h0M500.5 296.1h0M495.4 293.1h0M503.5 296.4h0M492.6 291.8h0M491.1 289.6h0M502.9 300.7h0M500.4 294.2h0M502.9 298.5h0M510.3 298.4h0M500.7 301.0h0M506.6 296.3h0M497.9 296.8h0M496.6 285.7h0M503.5 282.9h0M498.0 290.0h0M502.6 282.0h0M502.0 275.5h0M496.0 271.9h0M502.8 287.7h0M504.8 278.8h0M501.6 284.3h0M499.8 275.0h0M501.5 275.3h0M504.7 275.7h0M493.1 277.6h0M494.4 279.9h0M502.4 283.0h0M491.7 281.8h0M506.4 274.2h0M507.7 279.1h0M491.2 282.4h0M497.9 281.7h0M506.2 276.0h0M501.0 281.3h0M501.7 283.7h0M507.3 285.3h0M495.3 286.4h0M492.5 278.6h0M505.0 273.2h0M495.7 272.8h0M507.2 281.7h0M501.9 283.9h0M502.6 275.9h0M510.1 276.3h0M503.3 285.3h0M496.5 291.7h0M503.6 282.2h0M494.7 291.0h0M490.8 280.3h0M502.7 285.8h0M491.5 280.8h0M505.5 284.9h0M506.5 279.0h0M501.4 282.8h0M492.6 280.9h0M498.0 276.3h0M512.5 274.0h0M498.0 273.3h0M492.7 290.7h0M503.4 281.4h0M501.5 281.4h0M496.0 289.1h0M502.3 273.6h0M493.6 280.9h0M503.6 279.8h0M516.8 277.7h0M503.7 278.2h0M502.9 281.9h0M509.8 277.3h0M498.3 277.5h0M499.4 273.7h0M496.4 279.9h0M501.2 263.8h0M510.5 265.3h0M494.8 270.4h0M503.1 259.2h0M496.0 272.7h0M499.0 268.0h0M492.5 257.2h0M505.6 260.5h0M493.9 261.6h0M492.0 266.4h0M494.6 277.3h0M509.4 270.8h0M504.8 270.8h0M501.1 267.8h0M502.3 273.4h0M504.1 262.9h0M503.6 272.9h0M493.0 262.2h0M499.6 266.2h0M500.0 273.4h0M510.1 253.3h0M504.9 250.2h0M513.3 264.0h0M501.6 256.2h0M494.8 256.1h0M495.6 253.3h0M497.6 250.9h0M503.0 259.0h0M499.1 245.8h0M502.7 244.4h0M497.8 243.8h0M499.1 248.0h0M517.7 327.5h0M523.7 334.0h0M511.0 331.1h0M525.2 330.3h0M529.6 331.5h0M522.4 337.6h0M516.4 338.5h0M517.8 333.2h0M512.6 334.4h0M524.7 336.7h0M514.2 328.9h0M514.7 337.8h0M523.1 339.0h0M518.6 332.1h0M512.1 333.8h0M523.0 330.6h0M516.4 324.8h0M517.2 332.2h0M512.3 334.7h0M516.7 336.0h0M523.8 339.3h0M518.2 336.9h0M518.2 334.8h0M508.7 328.2h0M519.4 326.6h0M514.7 333.4h0M528.0 329.6h0M505.8 329.2h0M519.8 332.2h0M519.8 338.1h0M517.4 322.4h0M533.2 312.9h0M512.9 328.8h0M530.4 314.5h0M508.9 321.5h0M508.6 324.0h0M523.5 316.7h0M519.2 317.2h0M520.4 314.3h0M520.8 325.8h0M519.6 319.7h0M519.7 320.7h0M508.6 310.5h0M518.7 325.4h0M530.8 320.0h0M528.0 313.1h0M512.4 317.9h0M528.6 321.7h0M516.0 320.4h0M514.4 327.2h0M524.5 318.9h0M512.2 320.2h0M522.8 318.3h0M519.7 329.9h0M520.4 314.4h0M513.7 321.8h0M515.3 329.3h0M522.4 315.6h0M516.4 324.6h0M530.3 315.6h0M520.6 315.3h0M514.9 318.2h0M523.0 323.5h0M519.6 325.6h0M513.2 318.9h0M522.0 319.3h0M519.8 323.4h0M517.3 321.7h0M516.7 316.5h0M516.9 317.9h0M527.2 315.6h0M510.9 330.3h0M518.7 317.6h0M514.9 311.8h0M523.2 318.8h0M511.0 323.8h0M509.2 320.0h0M519.0 324.8h0M527.9 320.1h0M515.2 309.1h0M516.6 324.3h0M526.3 318.4h0M520.2 325.0h0M521.9 317.8h0M511.4 327.4h0M510.0 317.4h0M531.3 319.4h0M524.5 321.9h0M525.6 320.9h0M507.4 311.5h0M519.9 318.5h0M522.7 318.8h0M511.5 327.6h0M512.2 321.9h0M505.7 320.3h0M521.2 315.7h0M524.1 316.6h0M515.9 322.3h0M519.8 317.6h0M523.8 327.6h0M515.7 317.5h0M523.3 321.1h0M510.6 317.6h0M513.6 320.2h0M514.4 312.7h0M515.9 319.8h0M525.0 322.3h0M525.0 328.0h0M517.1 329.0h0M512.7 313.9h0M521.2 329.6h0M518.2 314.3h0M523.8 318.8h0M530.0 317.6h0M517.3 317.0h0M525.4 316.4h0M521.9 325.3h0M519.3 316.2h0M506.9 324.0h0M521.4 313.9h0M527.0 317.4h0M522.6 321.4h0M512.2 314.2h0M516.7 323.6h0M532.2 324.9h0M513.3 323.8h0M525.1 316.4h0M514.8 319.6h0M520.2 320.4h0M515.1 320.0h0M526.0 318.4h0M528.0 319.4h0M518.2 321.7h0M528.2 320.8h0M510.8 322.0h0M526.5 318.7h0M512.4 325.2h0M520.6 316.3h0M519.4 319.8h0M521.0 323.8h0M523.2 324.6h0M520.9 317.2h0M515.5 317.9h0M518.6 322.6h0M520.5 319.1h0M509.9 326.0h0M521.1 326.7h0M517.6 324.6h0M518.3 311.9h0M519.0 327.8h0M517.7 323.2h0M509.9 315.7h0M520.8 321.0h0M505.2 322.8h0M516.1 318.8h0M529.4 317.2h0M530.8 302.2h0M510.3 313.7h0M517.6 305.1h0M514.0 300.7h0M532.5 306.3h0M519.3 303.5h0M513.5 317.1h0M530.2 306.7h0M522.1 303.4h0M510.9 304.5h0M530.0 302.4h0M513.6 307.8h0M514.0 312.4h0M519.8 304.2h0M519.5 307.9h0M523.4 302.4h0M517.7 317.3h0M516.7 306.7h0M520.8 307.4h0M518.7 300.1h0M524.2 308.1h0M521.3 313.0h0M520.7 311.5h0M516.6 306.0h0M525.9 306.2h0M518.3 304.6h0M522.8 301.7h0M513.8 307.7h0M521.3 300.2h0M515.0 302.4h0M523.3 301.0h0M520.3 298.8h0M518.6 308.1h0M507.3 309.6h0M517.2 305.8h0M521.8 303.2h0M522.1 309.0h0M525.5 312.5h0M529.6 302.3h0M529.6 302.9h0M520.6 302.1h0M517.6 303.5h0M509.5 306.4h0M514.9 310.6h0M525.1 314.4h0M522.4 304.5h0M526.9 312.6h0M515.5 304.7h0M512.0 309.6h0M522.0 305.6h0M526.0 301.5h0M523.9 306.6h0M518.1 314.7h0M511.4 305.9h0M523.2 309.3h0M516.0 297.3h0M512.3 307.5h0M524.9 307.4h0M517.7 314.5h0M509.5 310.0h0M514.9 302.7h0M527.0 305.1h0M518.8 308.6h0M513.4 306.9h0M524.2 308.2h0M518.9 307.5h0M516.8 307.4h0M519.7 303.3h0M525.7 312.1h0M517.2 310.5h0M512.0 309.0h0M519.3 299.0h0M523.1 302.9h0M514.7 310.0h0M517.0 305.4h0M526.9 309.8h0M513.5 302.1h0M513.9 306.3h0M525.8 303.4h0M513.1 312.3h0M518.0 313.0h0M524.1 305.8h0M522.5 303.0h0M530.4 299.5h0M527.9 312.0h0M519.4 305.9h0M517.6 298.7h0M520.1 306.8h0M524.1 311.8h0M512.6 304.7h0M521.9 300.8h0M528.6 304.6h0M521.6 300.9h0M516.9 307.7h0M507.7 300.6h0M526.9 309.1h0M522.5 303.1h0M512.1 310.2h0M516.5 305.6h0M529.7 309.0h0M516.8 302.3h0M520.3 311.1h0M508.8 303.8h0M519.6 300.4h0M527.3 304.8h0M524.4 302.6h0M509.0 305.5h0M524.8 306.9h0M520.1 310.0h0M529.2 307.6h0M523.7 308.4h0M511.1 307.2h0M515.0 307.3h0M512.7 306.9h0M517.1 304.3h0M514.8 305.3h0M518.8 303.3h0M513.2 309.3h0M519.6 315.2h0M517.0 314.5h0M522.0 304.7h0M521.4 304.4h0M513.5 315.9h0M512.0 311.6h0M510.6 298.1h0M517.2 302.3h0M523.3 303.6h0M517.1 304.4h0M519.9 306.1h0M521.6 301.9h0M520.2 308.1h0M530.2 306.9h0M517.0 311.3h0M517.5 304.2h0M525.2 314.4h0M518.7 310.8h0M515.8 305.3h0M517.0 300.1h0M514.3 300.6h0M513.7 290.8h0M524.9 292.0h0M517.8 297.5h0M511.4 286.7h0M515.6 289.7h0M515.8 289.3h0M525.3 302.2h0M522.1 288.4h0M525.5 291.2h0M520.7 296.7h0M521.2 294.8h0M514.4 285.5h0M526.1 302.6h0M520.1 299.4h0M514.7 292.2h0M518.6 295.0h0M515.0 299.9h0M521.9 289.2h0M519.3 291.2h0M520.1 285.7h0M519.8 293.3h0M518.2 297.0h0M520.6 288.1h0M515.4 294.8h0M524.9 293.4h0M526.4 294.7h0M531.5 298.4h0M525.5 297.6h0M529.5 300.8h0M516.4 304.2h0M521.0 292.1h0M517.3 289.1h0M521.6 299.5h0M534.6 294.7h0M516.6 302.7h0M514.2 289.1h0M522.1 299.3h0M526.6 289.8h0M520.6 291.2h0M524.0 288.5h0M512.0 294.7h0M519.9 291.1h0M528.1 291.0h0M518.7 285.2h0M527.9 296.0h0M531.7 296.3h0M524.7 293.0h0M525.5 298.6h0M510.9 296.8h0M511.2 301.9h0M516.3 302.4h0M507.0 290.5h0M518.8 292.4h0M519.5 290.2h0M525.7 295.5h0M520.9 292.4h0M525.4 299.1h0M519.6 287.2h0M526.1 296.0h0M522.6 302.5h0M534.2 295.0h0M517.0 288.1h0M517.5 297.9h0M522.2 295.3h0M522.7 296.6h0M510.6 301.9h0M508.7 288.1h0M525.9 299.9h0M523.9 290.3h0M508.0 299.8h0M528.1 286.4h0M517.7 294.5h0M521.5 298.0h0M510.8 296.6h0M514.5 303.1h0M527.0 296.7h0M517.9 288.4h0M520.7 288.0h0M515.8 292.1h0M509.3 297.0h0M527.5 286.8h0M520.5 291.1h0M522.8 301.6h0M508.9 289.5h0M530.5 294.8h0M511.1 289.1h0M513.5 289.9h0M512.4 303.5h0M512.0 296.9h0M513.6 299.7h0M525.1 295.9h0M512.0 297.3h0M517.6 285.9h0M523.5 295.1h0M524.2 288.0h0M526.7 288.2h0M519.5 295.8h0M519.3 296.5h0M529.7 278.1h0M509.7 287.5h0M517.7 280.9h0M517.2 272.9h0M520.6 284.4h0M518.1 276.2h0M522.2 281.9h0M521.7 282.9h0M519.7 277.6h0M516.6 282.8h0M523.4 291.1h0M529.0 279.3h0M518.9 276.9h0M521.7 283.0h0M526.8 279.2h0M532.1 279.1h0M522.5 271.3h0M507.2 273.5h0M514.2 283.0h0M522.3 289.8h0M532.9 280.3h0M525.1 284.8h0M518.6 282.6h0M515.1 273.8h0M524.9 279.3h0M523.9 283.4h0M527.7 276.2h0M523.7 287.6h0M524.6 278.6h0M520.3 282.1h0M524.8 277.1h0M521.3 289.2h0M518.9 284.1h0M516.4 279.6h0M515.3 278.7h0M510.4 280.3h0M525.5 280.9h0M525.4 272.9h0M518.5 281.2h0M517.6 280.9h0M523.0 282.9h0M522.5 287.8h0M531.7 279.6h0M525.5 281.2h0M521.0 285.2h0M508.8 281.5h0M515.8 280.5h0M528.2 279.7h0M525.6 274.2h0M515.2 276.8h0M512.8 277.3h0M517.1 279.3h0M521.0 276.1h0M531.0 279.7h0M506.6 281.1h0M511.3 267.0h0M516.0 270.5h0M524.2 271.3h0M525.7 272.5h0M532.9 269.5h0M531.5 261.8h0M532.4 269.9h0M514.0 265.5h0M525.0 267.9h0M515.9 264.7h0M521.4 268.6h0M517.3 269.4h0M528.2 271.2h0M514.0 270.0h0M513.2 263.5h0M513.7 266.9h0M513.8 263.0h0M519.9 268.5h0M511.8 274.8h0M520.3 276.3h0M517.2 275.8h0M523.5 262.2h0M516.6 257.7h0M520.9 248.5h0M514.6 248.5h0M515.5 252.0h0M523.3 251.5h0M519.9 261.1h0M524.5 266.3h0M529.6 264.6h0M512.0 249.4h0M509.7 254.0h0M509.1 240.0h0M516.4 242.1h0M515.2 242.6h0M517.9 234.1h0M531.0 333.0h0M528.4 326.0h0M539.1 337.2h0M547.9 330.8h0M538.1 332.4h0M542.1 331.4h0M544.0 332.7h0M540.8 333.9h0M531.0 338.4h0M537.5 337.7h0M540.5 334.0h0M548.0 331.1h0M547.6 331.0h0M532.0 330.9h0M540.5 329.7h0M531.2 337.3h0M534.9 333.2h0M539.2 332.0h0M539.7 339.1h0M535.9 335.8h0M531.8 330.9h0M546.3 332.4h0M531.0 335.7h0M550.9 331.1h0M548.6 335.7h0M533.5 335.9h0M533.5 331.2h0M540.2 337.0h0M541.5 327.9h0M548.9 337.7h0M538.5 336.7h0M548.2 331.6h0M534.1 338.0h0M535.1 337.6h0M540.4 337.7h0M537.6 339.5h0M539.3 338.8h0M540.3 332.7h0M531.8 328.6h0M534.1 329.0h0M538.6 331.3h0M526.8 333.9h0M544.2 334.6h0M537.3 334.9h0M530.6 324.9h0M545.2 328.5h0M543.1 333.8h0M530.1 331.0h0M535.6 328.4h0M526.6 331.7h0M543.7 327.9h0M545.4 330.7h0M539.0 336.0h0M529.1 329.0h0M546.3 334.0h0M548.5 332.9h0M549.4 328.4h0M531.6 336.1h0M535.5 326.7h0M539.6 320.5h0M540.2 317.7h0M532.1 318.2h0M545.0 313.7h0M527.9 326.5h0M529.0 325.8h0M544.7 318.8h0M527.2 311.6h0M539.0 324.3h0M544.5 319.0h0M541.7 323.5h0M534.4 322.9h0M532.1 315.4h0M526.3 319.2h0M538.7 318.9h0M538.1 315.1h0M546.4 325.0h0M531.8 321.8h0M529.2 329.6h0M542.8 318.1h0M535.1 326.8h0M533.2 319.1h0M536.9 312.8h0M539.3 310.8h0M531.6 318.8h0M542.6 331.2h0M529.3 321.4h0M540.4 320.8h0M528.3 318.2h0M536.6 329.9h0M542.3 322.5h0M540.8 322.8h0M537.3 319.5h0M537.3 324.5h0M538.0 326.8h0M536.5 313.1h0M534.3 326.4h0M541.4 318.2h0M529.2 318.8h0M538.9 327.1h0M539.3 320.4h0M537.3 322.9h0M548.2 318.9h0M550.6 323.2h0M534.3 325.6h0M533.7 319.4h0M529.7 310.5h0M531.6 325.6h0M538.4 319.2h0M529.9 315.8h0M527.6 324.4h0M536.6 323.7h0M539.7 315.4h0M540.6 311.5h0M525.8 320.5h0M547.6 322.0h0M535.9 316.9h0M532.4 317.5h0M534.1 322.7h0M547.6 322.4h0M540.8 322.4h0M527.3 323.7h0M539.2 315.9h0M547.0 321.6h0M529.1 322.4h0M529.5 320.1h0M531.3 318.5h0M542.0 326.9h0M542.9 322.0h0M538.9 325.2h0M537.6 325.8h0M538.7 329.8h0M536.2 324.9h0M528.3 320.2h0M540.7 312.8h0M536.3 317.4h0M542.2 311.6h0M536.7 319.6h0M536.0 319.4h0M531.0 312.6h0M534.2 322.0h0M546.6 321.7h0M523.6 313.8h0M526.2 321.7h0M539.0 319.8h0M536.6 318.0h0M543.8 316.4h0M542.5 311.4h0M531.8 324.4h0M537.4 320.4h0M536.9 322.8h0M534.4 319.7h0M534.1 329.3h0M534.5 312.0h0M533.5 319.7h0M535.9 319.7h0M537.2 313.3h0M531.2 315.5h0M539.5 312.9h0M535.5 311.2h0M544.5 326.7h0M543.5 322.9h0M530.9 319.8h0M532.2 320.2h0M536.7 329.3h0M541.9 321.6h0M531.1 322.6h0M543.2 321.5h0M539.7 319.3h0M538.3 331.2h0M540.8 321.8h0M532.6 312.8h0M542.8 316.3h0M544.1 325.1h0M537.7 324.4h0M530.4 321.4h0M536.8 322.2h0M545.7 322.3h0M535.1 321.5h0M544.9 317.0h0M549.9 322.5h0M533.8 319.2h0M545.2 320.3h0M549.9 326.5h0M537.0 314.1h0M546.6 321.4h0M536.0 317.4h0M532.7 325.0h0M549.4 319.0h0M537.9 303.3h0M527.4 303.1h0M527.7 305.3h0M535.3 306.6h0M538.1 299.1h0M542.7 312.4h0M533.5 312.9h0M533.4 313.3h0M540.5 309.1h0M539.7 314.9h0M524.1 306.6h0M540.7 306.9h0M537.3 313.0h0M541.4 307.1h0M533.6 312.1h0M542.2 312.6h0M540.8 302.7h0M538.4 312.5h0M536.7 316.8h0M533.2 312.1h0M535.7 310.4h0M544.7 306.3h0M528.1 309.2h0M537.5 305.4h0M536.5 306.7h0M542.3 303.8h0M530.8 302.8h0M541.6 305.0h0M526.2 313.7h0M546.4 297.7h0M535.1 314.1h0M538.1 297.4h0M539.0 303.2h0M538.0 299.3h0M545.4 299.8h0M543.9 312.5h0M526.9 299.9h0M539.4 300.3h0M530.4 317.7h0M541.7 305.1h0M551.8 313.1h0M543.3 308.0h0M542.8 299.7h0M543.6 313.4h0M542.1 305.1h0M535.6 310.4h0M537.7 308.2h0M538.7 311.2h0M534.3 305.5h0M544.8 308.6h0M545.9 308.5h0M531.5 303.3h0M532.5 305.6h0M533.7 304.8h0M539.2 313.6h0M529.8 317.0h0M547.2 299.7h0M529.9 305.4h0M529.2 303.5h0M525.8 303.6h0M537.7 306.0h0M532.8 308.0h0M540.3 308.0h0M542.0 303.6h0M535.3 308.1h0M539.1 312.3h0M536.8 306.5h0M550.9 303.9h0M527.7 309.2h0M536.9 305.6h0M536.2 311.6h0M532.6 311.0h0M544.3 305.3h0M535.7 311.0h0M526.9 305.9h0M543.6 307.1h0M548.4 304.9h0M545.4 309.9h0M539.9 303.7h0M535.3 317.5h0M545.9 309.2h0M543.5 304.4h0M538.9 301.5h0M530.2 301.5h0M545.8 313.9h0M532.5 308.7h0M548.2 302.0h0M542.1 316.7h0M531.2 310.0h0M549.7 308.3h0M533.9 307.7h0M535.9 304.1h0M525.3 308.4h0M528.2 302.1h0M546.5 302.0h0M533.2 311.7h0M545.1 301.0h0M544.2 312.3h0M536.4 301.5h0M531.4 315.9h0M528.6 300.3h0M544.7 305.8h0M531.0 305.9h0M540.3 313.1h0M523.4 318.1h0M534.0 311.9h0M535.5 300.8h0M539.2 306.6h0M543.6 299.8h0M540.7 315.7h0M534.6 305.9h0M537.1 300.8h0M530.8 300.7h0M543.5 305.3h0M537.2 309.1h0M535.0 313.9h0M543.4 314.5h0M538.0 305.5h0M540.8 304.8h0M527.8 302.2h0M547.5 314.6h0M542.9 306.2h0M530.8 301.5h0M534.3 307.0h0M536.2 308.1h0M537.4 303.9h0M542.8 304.7h0M523.6 308.5h0M536.5 306.7h0M537.1 308.2h0M538.2 304.5h0M526.5 308.5h0M536.7 312.1h0M530.9 315.0h0M542.7 304.7h0M548.5 303.0h0M537.3 309.2h0M540.6 307.2h0M544.0 308.3h0M537.2 307.8h0M538.9 307.6h0M523.6 298.5h0M533.3 309.7h0M534.8 306.1h0M536.5 308.8h0M537.3 311.2h0M532.6 306.1h0M532.6 307.5h0M535.1 303.6h0M527.8 311.6h0M533.7 310.8h0M545.0 300.7h0M550.4 316.5h0M533.7 308.2h0M528.1 309.1h0M547.6 309.4h0M536.9 309.5h0M531.9 302.1h0M533.8 304.8h0M538.9 303.0h0M542.5 302.0h0M537.0 304.7h0M524.7 302.2h0M534.9 302.6h0M529.9 310.8h0M531.5 297.3h0M543.8 296.0h0M540.8 295.1h0M540.1 300.1h0M547.6 300.8h0M532.1 292.7h0M537.1 294.9h0M534.5 295.0h0M544.2 288.8h0M544.1 297.6h0M525.6 291.5h0M552.2 285.7h0M541.5 296.5h0M525.5 294.7h0M529.4 286.7h0M539.7 287.6h0M534.9 286.1h0M535.6 298.6h0M534.2 288.0h0M540.5 284.3h0M529.3 291.5h0M534.6 287.0h0M543.8 299.3h0M535.5 302.5h0M536.2 298.3h0M544.2 290.5h0M540.4 293.0h0M533.7 295.6h0M548.0 294.2h0M530.4 293.8h0M532.2 292.1h0M528.7 299.8h0M535.9 295.6h0M536.9 303.1h0M544.8 292.5h0M530.7 289.3h0M535.0 285.3h0M525.1 287.2h0M529.4 300.5h0M530.8 295.9h0M537.4 285.2h0M538.0 284.6h0M533.6 288.8h0M547.8 292.9h0M543.9 294.4h0M528.7 290.4h0M536.3 295.1h0M533.7 296.0h0M538.1 292.9h0M536.4 294.4h0M537.9 300.4h0M533.7 289.1h0M533.9 296.8h0M530.7 292.5h0M541.2 298.3h0M548.8 294.6h0M529.4 293.0h0M533.7 299.2h0M548.6 295.1h0M530.4 296.1h0M527.8 287.6h0M534.9 291.9h0M548.6 290.7h0M537.8 292.9h0M547.6 290.1h0M543.4 286.8h0M537.7 293.2h0M543.8 288.8h0M548.0 294.8h0M541.0 297.1h0M543.5 287.2h0M537.6 285.7h0M539.0 294.4h0M532.6 290.6h0M526.1 293.0h0M523.5 291.5h0M540.6 303.3h0M523.4 294.9h0M538.5 292.8h0M538.5 295.7h0M532.3 301.0h0M538.9 298.8h0M540.3 298.6h0M541.3 296.0h0M530.8 295.3h0M535.2 295.5h0M539.4 292.6h0M540.1 295.9h0M548.0 295.8h0M532.1 296.1h0M539.4 287.3h0M545.9 293.2h0M528.0 295.2h0M537.4 288.6h0M539.7 293.9h0M532.5 299.2h0M546.5 287.2h0M540.5 293.2h0M536.1 291.2h0M540.2 294.3h0M538.1 291.8h0M543.3 294.0h0M530.4 300.4h0M536.8 290.8h0M548.0 297.1h0M539.7 292.4h0M536.9 291.5h0M548.7 296.5h0M551.1 299.2h0M536.9 298.5h0M551.0 302.5h0M528.9 298.1h0M538.6 291.5h0M549.8 297.8h0M545.6 292.5h0M532.9 284.4h0M531.3 294.2h0M538.3 301.6h0M530.8 301.1h0M547.7 292.1h0M530.7 295.5h0M538.1 285.7h0M528.5 296.4h0M535.2 300.1h0M537.7 301.8h0M532.8 300.4h0M526.4 297.7h0M532.4 298.4h0M551.6 295.8h0M547.1 300.1h0M527.7 287.0h0M533.2 296.3h0M530.6 293.6h0M547.3 289.3h0M544.4 283.6h0M543.3 290.1h0M549.7 297.7h0M550.2 290.9h0M541.9 295.8h0M540.6 286.8h0M537.3 301.9h0M542.4 300.3h0M538.0 288.0h0M538.1 289.3h0M550.2 293.7h0M539.2 299.7h0M549.0 300.1h0M535.8 288.6h0M526.1 294.0h0M537.4 293.8h0M538.4 283.7h0M534.8 297.5h0M529.6 301.7h0M546.8 293.5h0M530.5 298.1h0M540.7 288.7h0M539.7 297.6h0M529.9 286.0h0M526.0 297.8h0M534.5 284.8h0M544.0 297.6h0M536.3 289.3h0M536.7 302.2h0M534.3 294.2h0M541.3 301.7h0M545.5 290.2h0M538.9 285.1h0M535.4 272.3h0M540.8 287.1h0M538.0 290.5h0M538.6 283.1h0M539.8 288.0h0M527.7 280.6h0M536.9 281.3h0M545.8 282.5h0M536.7 284.4h0M539.8 290.2h0M530.2 285.2h0M541.9 277.0h0M533.0 291.8h0M540.7 286.5h0M539.9 281.1h0M527.0 275.8h0M539.9 286.5h0M538.6 281.4h0M530.8 288.4h0M527.7 285.2h0M537.7 286.6h0M532.8 279.5h0M544.3 284.4h0M533.9 273.5h0M528.0 281.9h0M541.3 284.6h0M535.5 284.8h0M524.3 292.0h0M534.2 285.0h0M536.6 281.0h0M540.6 282.7h0M539.4 281.0h0M524.3 287.2h0M544.3 284.1h0M532.2 280.4h0M536.6 278.7h0M538.8 270.9h0M539.3 273.5h0M547.5 275.8h0M532.5 287.8h0M527.7 280.7h0M538.9 273.2h0M540.5 279.7h0M535.8 282.9h0M540.2 280.4h0M542.6 286.6h0M536.7 278.4h0M534.0 278.9h0M543.2 278.6h0M544.2 283.7h0M544.1 288.0h0M533.0 281.2h0M537.2 281.9h0M543.2 278.0h0M544.1 283.8h0M526.0 283.9h0M540.6 280.1h0M537.7 286.4h0M539.0 278.9h0M543.9 282.2h0M529.7 282.6h0M531.1 290.9h0M541.5 278.3h0M538.5 281.7h0M538.3 277.7h0M534.8 275.9h0M524.9 282.2h0M548.6 276.1h0M542.8 288.6h0M538.1 280.4h0M536.3 281.6h0M550.3 282.0h0M536.1 278.5h0M536.0 275.1h0M538.0 277.7h0M536.9 289.0h0M540.8 286.7h0M531.0 286.5h0M542.5 275.2h0M544.6 280.6h0M533.9 281.2h0M542.2 276.8h0M533.1 273.8h0M535.4 290.1h0M536.9 274.8h0M540.8 287.6h0M527.6 290.6h0M541.7 283.3h0M540.0 287.0h0M547.5 279.3h0M538.9 280.6h0M535.7 274.1h0M538.3 290.3h0M534.6 272.5h0M545.6 279.0h0M550.6 271.2h0M535.7 281.5h0M534.5 288.2h0M526.2 272.3h0M547.7 268.2h0M544.9 270.2h0M530.8 265.8h0M534.9 270.3h0M544.5 271.8h0M527.1 273.4h0M541.4 269.8h0M533.5 266.6h0M535.0 277.1h0M534.8 275.0h0M533.9 271.1h0M538.2 269.6h0M528.9 274.4h0M524.6 277.8h0M537.6 274.2h0M533.8 270.4h0M531.0 265.3h0M543.7 278.9h0M542.4 273.4h0M542.9 272.1h0M529.0 263.1h0M534.3 271.7h0M540.5 273.7h0M526.1 261.7h0M527.6 266.1h0M541.8 269.0h0M539.6 266.0h0M535.1 275.1h0M539.8 278.1h0M537.5 276.2h0M542.0 265.6h0M530.0 270.6h0M538.5 274.6h0M535.7 265.8h0M539.6 260.5h0M531.3 274.3h0M545.2 268.5h0M536.3 269.1h0M542.6 273.1h0M538.5 266.8h0M543.7 261.0h0M543.7 263.0h0M537.7 269.8h0M533.0 271.3h0M536.9 267.1h0M538.8 262.9h0M540.9 268.0h0M528.5 263.8h0M533.9 266.0h0M536.9 260.2h0M536.0 250.0h0M529.7 257.0h0M550.5 264.4h0M547.8 251.8h0M541.9 252.7h0M541.7 246.0h0M538.6 249.4h0M538.4 255.6h0M543.1 255.4h0M534.6 259.4h0M539.8 260.9h0M530.4 258.8h0M540.0 250.1h0M526.1 262.0h0M544.7 245.7h0M543.6 254.8h0M546.8 256.7h0M544.2 253.6h0M539.8 260.4h0M525.1 234.4h0M529.5 241.0h0M541.2 239.2h0M529.9 249.2h0M530.8 245.4h0M564.2 333.6h0M557.4 332.1h0M568.3 335.2h0M552.6 330.9h0M567.0 339.4h0M564.1 335.0h0M556.4 337.1h0M556.8 335.8h0M554.5 326.4h0M559.9 335.4h0M554.4 339.4h0M552.8 336.9h0M552.0 322.8h0M544.5 328.5h0M548.9 335.9h0M548.2 337.4h0M558.7 336.4h0M553.8 325.3h0M543.5 335.2h0M552.6 336.5h0M562.2 331.0h0M555.5 331.3h0M552.7 338.8h0M561.8 339.0h0M553.7 335.3h0M560.8 339.4h0M552.2 330.8h0M550.4 331.4h0M550.0 330.4h0M561.6 330.9h0M556.2 334.0h0M544.7 329.7h0M543.6 323.3h0M559.0 332.8h0M559.9 332.4h0M556.5 335.6h0M557.7 331.9h0M552.3 339.1h0M567.4 333.4h0M559.3 329.2h0M559.4 334.6h0M554.7 337.2h0M551.8 332.9h0M545.3 338.2h0M560.8 334.3h0M549.7 328.9h0M553.2 337.5h0M549.8 331.8h0M555.1 336.7h0M556.4 335.4h0M549.4 330.6h0M560.5 329.7h0M555.7 333.6h0M561.2 326.3h0M560.8 337.7h0M555.7 327.7h0M554.1 329.5h0M552.6 335.6h0M558.2 329.5h0M559.7 320.6h0M554.4 312.4h0M554.9 321.4h0M556.7 326.2h0M563.8 312.8h0M559.9 319.6h0M554.1 311.9h0M541.5 317.4h0M558.8 320.8h0M551.6 310.0h0M567.3 311.6h0M550.7 313.4h0M554.2 321.5h0M547.9 316.9h0M560.4 323.6h0M553.6 320.3h0M559.5 326.5h0M560.7 314.3h0M558.1 322.1h0M547.3 320.7h0M561.7 312.5h0M563.1 317.2h0M552.5 325.6h0M558.2 319.7h0M559.3 324.8h0M551.9 314.5h0M553.6 325.9h0M557.7 325.0h0M544.3 317.4h0M545.8 319.1h0M549.2 326.7h0M555.6 313.8h0M560.1 321.1h0M551.4 314.0h0M545.2 319.1h0M554.8 316.2h0M558.3 320.9h0M543.8 315.0h0M553.7 327.5h0M558.3 319.7h0M561.8 312.3h0M547.6 309.0h0M554.6 317.3h0M554.3 312.4h0M567.5 317.9h0M559.9 320.9h0M547.9 328.7h0M566.1 322.1h0M557.4 324.6h0M558.8 312.0h0M552.0 322.4h0M557.2 317.8h0M554.5 320.6h0M556.7 311.3h0M554.0 327.9h0M556.5 321.4h0M565.8 313.4h0M558.9 322.8h0M549.8 314.7h0M564.7 321.9h0M554.6 311.6h0M555.4 319.2h0M563.8 316.8h0M562.6 314.4h0M544.0 326.8h0M555.6 320.3h0M551.3 317.2h0M560.2 319.9h0M558.1 322.5h0M548.4 320.6h0M565.0 325.1h0M552.7 325.7h0M553.3 320.0h0M562.7 314.7h0M559.9 320.4h0M553.0 321.3h0M548.4 321.8h0M563.8 310.9h0M561.3 321.5h0M558.6 314.7h0M556.4 314.1h0M560.3 320.5h0M545.7 321.9h0M553.3 314.0h0M547.1 316.0h0M555.9 316.7h0M558.6 316.8h0M550.9 320.4h0M543.6 319.1h0M555.4 308.7h0M559.3 321.8h0M564.2 318.6h0M543.7 320.7h0M545.4 323.1h0M552.7 312.0h0M558.0 324.6h0M558.0 320.8h0M551.8 327.5h0M553.3 329.8h0M552.6 329.6h0M552.9 318.9h0M558.1 321.5h0M557.6 316.7h0M544.4 318.6h0M557.0 317.9h0M559.6 313.2h0M558.4 315.1h0M557.5 325.1h0M556.4 318.0h0M551.6 325.1h0M547.0 321.0h0M545.9 313.4h0M562.7 311.5h0M555.0 322.3h0M559.7 319.0h0M560.3 313.7h0M563.3 329.0h0M549.9 315.1h0M561.0 321.3h0M549.6 296.4h0M564.2 308.9h0M556.5 299.8h0M559.3 318.0h0M558.1 309.3h0M557.5 305.0h0M561.7 306.6h0M548.5 303.4h0M558.3 307.4h0M547.1 306.6h0M567.5 314.3h0M542.2 317.4h0M563.7 308.6h0M554.4 298.3h0M547.0 304.5h0M546.4 301.7h0M552.0 304.1h0M546.0 300.4h0M550.2 311.9h0M549.4 306.0h0M544.4 304.6h0M553.2 306.3h0M541.4 309.5h0M558.6 305.9h0M560.6 305.2h0M551.6 311.9h0M568.9 307.2h0M557.4 313.7h0M548.9 311.2h0M556.7 304.2h0M558.0 305.8h0M545.9 311.2h0M560.7 298.0h0M560.4 302.2h0M563.2 301.5h0M561.7 306.5h0M562.3 298.4h0M561.9 316.2h0M562.4 310.2h0M545.7 302.8h0M563.4 313.3h0M559.8 305.2h0M562.0 299.9h0M554.1 308.5h0M549.2 308.4h0M555.7 302.8h0M556.4 305.7h0M555.2 307.6h0M541.5 313.3h0M565.8 299.7h0M543.8 311.7h0M555.7 315.9h0M553.9 310.5h0M559.5 313.0h0M567.0 308.5h0M556.1 312.3h0M557.7 314.1h0M554.0 307.0h0M551.3 309.1h0M558.3 308.2h0M557.8 306.4h0M562.8 306.1h0M555.9 309.9h0M548.8 310.0h0M567.2 314.2h0M562.0 313.9h0M544.0 306.4h0M556.2 300.6h0M548.0 306.4h0M556.1 306.6h0M551.2 310.2h0M559.8 300.2h0M556.0 302.7h0M552.5 307.6h0M548.3 303.0h0M556.5 310.2h0M556.4 308.1h0M560.9 312.6h0M551.0 303.5h0M555.8 299.3h0M557.7 315.4h0M559.4 299.3h0M552.7 312.8h0M558.2 302.9h0M551.4 311.1h0M552.0 298.2h0M545.9 304.3h0M564.2 317.9h0M551.4 308.2h0M558.0 308.9h0M549.0 308.4h0M557.6 302.6h0M545.7 313.2h0M558.6 311.0h0M565.9 316.3h0M565.8 306.9h0M561.3 310.1h0M553.5 313.1h0M559.6 303.4h0M552.5 308.1h0M554.2 303.2h0M548.6 315.9h0M566.6 307.9h0M552.9 303.3h0M561.4 299.1h0M566.3 297.3h0M553.5 306.7h0M555.3 298.6h0M557.1 301.6h0M554.7 302.1h0M560.3 314.0h0M545.8 308.4h0M559.1 312.5h0M554.5 308.1h0M561.9 307.3h0M544.6 296.8h0M563.4 296.1h0M563.2 302.2h0M548.0 303.3h0M552.1 305.4h0M559.3 307.5h0M543.0 301.9h0M557.4 316.9h0M567.5 303.8h0M552.4 314.9h0M559.2 302.1h0M554.7 309.8h0M558.4 308.0h0M553.3 299.6h0M552.4 309.8h0M555.8 307.6h0M569.9 310.3h0M550.1 308.3h0M566.9 307.7h0M548.1 302.9h0M550.3 307.7h0M557.3 309.3h0M542.3 303.2h0M545.1 308.4h0M557.4 307.5h0M545.2 312.4h0M551.8 307.2h0M557.2 314.7h0M559.6 309.1h0M557.4 304.0h0M562.8 315.3h0M562.7 306.9h0M540.6 305.7h0M545.6 314.5h0M558.0 301.8h0M550.8 304.3h0M552.4 301.7h0M551.3 300.8h0M563.3 311.6h0M548.0 307.8h0M569.4 304.4h0M556.3 303.8h0M560.0 315.5h0M552.1 310.8h0M548.7 312.6h0M564.4 316.3h0M553.0 310.7h0M559.4 314.4h0M554.8 301.7h0M553.5 305.7h0M557.4 299.1h0M542.8 304.6h0M544.9 306.0h0M552.9 309.5h0M548.9 308.2h0M550.0 299.5h0M548.9 307.2h0M559.4 306.3h0M566.9 314.1h0M552.6 307.9h0M563.2 294.6h0M552.8 290.6h0M555.1 287.8h0M547.0 287.2h0M566.2 289.6h0M556.7 293.1h0M549.8 287.0h0M557.1 299.6h0M550.7 296.3h0M561.4 302.7h0M559.4 300.6h0M555.4 292.0h0M558.1 296.3h0M550.1 289.6h0M552.8 287.5h0M559.7 287.4h0M552.5 293.4h0M556.0 297.0h0M548.7 301.3h0M561.0 300.5h0M555.2 299.7h0M564.2 294.5h0M549.2 292.2h0M545.0 287.9h0M551.9 296.5h0M554.9 296.1h0M561.6 301.2h0M551.5 294.4h0M564.6 292.4h0M552.3 295.6h0M549.3 296.4h0M547.5 305.2h0M546.4 295.7h0M546.3 299.0h0M552.5 303.8h0M554.4 296.4h0M542.4 303.2h0M551.2 290.9h0M558.3 302.4h0M545.9 295.7h0M562.5 295.8h0M557.1 289.7h0M561.4 293.8h0M551.6 293.7h0M549.0 291.6h0M562.8 295.2h0M552.7 302.8h0M551.4 293.5h0M559.0 294.5h0M550.3 297.3h0M547.8 299.7h0M554.3 291.9h0M557.8 297.8h0M547.8 295.6h0M554.7 293.1h0M562.5 292.6h0M553.5 290.6h0M550.5 299.0h0M561.7 295.1h0M557.7 302.0h0M555.8 292.7h0M552.2 285.5h0M551.5 295.3h0M552.4 300.4h0M554.0 294.5h0M545.2 292.7h0M546.2 292.2h0M549.7 292.4h0M551.8 296.0h0M548.8 292.8h0M551.8 290.2h0M552.4 290.5h0M567.1 302.9h0M554.4 297.1h0M556.1 300.7h0M563.0 285.6h0M553.4 296.7h0M554.6 295.5h0M554.9 286.8h0M545.1 287.5h0M549.6 289.2h0M561.4 289.7h0M549.7 301.2h0M561.6 299.2h0M556.4 296.8h0M556.1 291.6h0M552.1 290.3h0M552.6 293.9h0M542.1 299.5h0M553.3 287.0h0M548.4 300.4h0M548.1 290.2h0M558.6 282.7h0M545.1 299.4h0M548.2 294.0h0M556.5 292.4h0M550.3 298.2h0M547.7 298.3h0M547.2 304.6h0M546.2 294.4h0M559.5 291.4h0M560.9 294.9h0M558.0 301.9h0M543.4 293.4h0M546.2 295.5h0M550.5 300.0h0M548.8 297.1h0M553.2 301.0h0M553.3 298.4h0M557.1 302.8h0M558.2 299.3h0M546.4 301.2h0M558.4 299.9h0M555.3 290.1h0M555.5 292.2h0M561.0 293.1h0M563.6 295.5h0M547.2 294.3h0M560.4 287.9h0M557.5 293.6h0M544.7 298.0h0M559.2 299.9h0M564.6 296.0h0M545.9 303.0h0M547.1 298.5h0M548.7 289.9h0M564.8 291.4h0M561.5 301.2h0M544.4 295.1h0M557.6 294.7h0M563.1 300.5h0M544.9 295.0h0M547.1 295.1h0M545.7 301.5h0M551.8 292.4h0M540.5 290.2h0M556.6 291.9h0M561.3 286.5h0M565.0 296.4h0M557.0 295.3h0M561.8 289.6h0M560.8 294.1h0M552.0 284.8h0M553.2 298.6h0M562.0 296.0h0M555.7 274.8h0M556.6 273.9h0M563.4 289.7h0M553.6 281.1h0M555.6 283.1h0M555.4 274.5h0M553.5 277.3h0M548.3 274.0h0M564.3 284.8h0M558.4 277.3h0M551.7 282.5h0M553.6 281.3h0M561.3 284.7h0M550.8 280.9h0M567.6 285.3h0M559.5 280.0h0M558.9 283.8h0M566.9 285.7h0M553.0 282.3h0M550.9 283.3h0M554.9 275.0h0M546.1 285.3h0M552.0 278.3h0M553.9 282.4h0M552.1 281.6h0M560.3 284.1h0M556.9 281.8h0M562.8 278.4h0M551.3 273.6h0M561.2 283.0h0M551.2 284.8h0M549.0 284.5h0M550.5 282.4h0M553.3 278.5h0M549.6 286.4h0M553.8 280.3h0M547.1 280.7h0M549.9 284.2h0M556.9 278.2h0M561.3 276.2h0M551.2 283.8h0M548.9 282.9h0M551.8 277.1h0M554.0 282.7h0M548.7 278.0h0M561.5 283.2h0M559.8 277.0h0M550.0 274.5h0M557.5 270.0h0M548.4 289.2h0M555.2 281.4h0M555.6 278.9h0M558.5 291.6h0M556.8 281.6h0M568.7 282.0h0M558.8 289.2h0M563.1 277.2h0M560.0 282.1h0M551.1 284.0h0M555.3 275.6h0M560.8 286.1h0M552.9 283.7h0M551.1 291.2h0M562.9 277.7h0M555.3 279.8h0M550.9 272.8h0M555.5 278.1h0M546.2 278.6h0M552.3 288.5h0M555.1 278.4h0M546.6 276.0h0M554.4 286.7h0M567.1 277.0h0M552.6 283.0h0M550.5 280.7h0M564.1 285.1h0M557.7 284.1h0M556.2 286.3h0M560.0 288.9h0M557.8 275.3h0M557.1 280.5h0M554.1 285.2h0M554.7 280.4h0M564.6 284.6h0M563.3 280.6h0M551.6 286.0h0M549.5 282.8h0M551.1 277.2h0M545.6 278.1h0M557.0 279.6h0M554.1 285.0h0M542.7 284.8h0M544.6 276.6h0M554.4 283.0h0M558.5 279.7h0M548.6 280.1h0M552.6 283.0h0M546.1 280.0h0M559.2 288.5h0M557.3 283.8h0M548.8 264.1h0M553.3 260.7h0M569.1 262.0h0M555.7 272.6h0M562.4 262.7h0M563.2 277.8h0M555.1 265.4h0M544.8 269.7h0M563.5 265.8h0M557.5 269.9h0M555.7 267.7h0M556.5 267.2h0M562.6 268.2h0M550.2 271.7h0M567.1 264.4h0M557.4 275.1h0M566.4 273.9h0M556.0 265.0h0M557.2 277.0h0M543.5 269.5h0M542.1 267.1h0M544.9 262.0h0M554.7 262.6h0M553.8 267.5h0M556.0 260.0h0M556.2 275.9h0M565.3 272.2h0M560.4 267.9h0M563.7 266.7h0M564.9 264.7h0M564.2 268.7h0M563.0 267.9h0M554.7 269.9h0M557.6 272.3h0M568.0 261.8h0M553.3 264.3h0M567.6 273.9h0M559.3 264.9h0M556.5 265.0h0M564.5 259.3h0M557.2 271.4h0M552.9 275.6h0M556.2 268.7h0M549.0 267.8h0M556.7 264.4h0M551.0 262.6h0M552.1 264.8h0M549.8 264.8h0M550.0 271.1h0M562.9 260.8h0M557.1 274.9h0M556.0 262.1h0M555.2 271.8h0M561.1 263.4h0M548.8 274.4h0M545.1 257.8h0M562.1 249.4h0M559.4 245.5h0M551.9 261.1h0M546.6 258.1h0M548.6 250.8h0M553.6 257.5h0M542.6 255.3h0M552.0 262.2h0M545.4 262.4h0M546.7 253.2h0M554.2 247.7h0M567.1 254.7h0M543.4 259.9h0M555.3 252.0h0M546.4 254.4h0M555.1 256.1h0M560.4 259.3h0M556.2 258.2h0M561.5 260.4h0M550.2 264.1h0M551.6 255.9h0M552.4 251.6h0M551.1 260.0h0M552.5 255.1h0M552.5 235.1h0M546.0 243.8h0M557.1 239.1h0M554.5 235.6h0M558.5 240.7h0M555.6 243.2h0M583.3 329.9h0M567.0 336.7h0M571.8 337.6h0M583.4 329.9h0M573.0 324.0h0M571.3 322.5h0M573.9 329.0h0M574.2 338.4h0M572.1 337.6h0M574.3 331.1h0M571.7 334.7h0M582.2 334.2h0M582.4 337.2h0M567.6 337.7h0M574.9 337.3h0M566.8 329.6h0M569.3 337.1h0M570.2 329.1h0M571.3 332.2h0M576.7 329.6h0M569.5 328.0h0M582.4 332.6h0M568.8 337.8h0M575.0 336.3h0M574.2 333.9h0M568.9 333.4h0M574.4 333.0h0M581.4 339.6h0M574.6 333.6h0M583.8 323.2h0M573.3 336.4h0M569.6 329.4h0M579.6 335.5h0M560.7 327.1h0M577.2 336.7h0M575.2 322.3h0M583.6 320.1h0M562.3 327.4h0M582.4 314.8h0M586.0 320.6h0M584.2 316.3h0M569.7 319.9h0M572.6 320.8h0M572.2 326.0h0M567.6 321.3h0M579.2 322.6h0M570.2 323.1h0M572.6 323.3h0M574.7 323.5h0M574.9 319.3h0M567.6 322.0h0M568.6 320.9h0M575.1 314.5h0M573.1 324.3h0M562.2 320.0h0M570.1 325.4h0M575.1 312.4h0M578.8 319.7h0M573.6 329.7h0M573.7 313.8h0M576.3 314.0h0M573.9 318.6h0M561.6 314.7h0M576.4 313.9h0M576.6 322.6h0M561.2 308.9h0M575.3 330.2h0M583.2 328.2h0M571.8 314.1h0M574.4 328.1h0M575.0 319.5h0M574.1 323.4h0M574.2 325.2h0M576.5 329.1h0M572.1 319.5h0M573.8 315.9h0M573.3 320.5h0M572.8 318.1h0M584.9 315.4h0M584.8 323.5h0M574.4 328.2h0M580.3 322.6h0M585.7 315.6h0M562.8 315.2h0M576.7 324.7h0M567.7 318.0h0M579.0 317.3h0M572.4 314.8h0M571.8 313.6h0M573.3 314.1h0M576.2 318.0h0M561.2 327.2h0M571.5 318.3h0M584.1 314.6h0M567.2 328.2h0M573.9 322.8h0M578.9 314.1h0M577.6 319.5h0M580.0 319.1h0M568.1 317.3h0M570.6 316.8h0M563.5 318.9h0M576.3 317.6h0M574.7 316.0h0M581.3 315.7h0M572.0 322.6h0M567.3 320.6h0M573.9 320.8h0M576.1 312.0h0M573.9 326.8h0M566.2 321.9h0M574.0 324.1h0M564.3 311.7h0M576.0 322.6h0M563.1 313.0h0M563.4 327.6h0M568.0 324.1h0M573.7 324.7h0M567.0 326.9h0M571.1 322.2h0M582.4 311.0h0M580.5 321.3h0M577.5 315.1h0M568.2 322.8h0M563.9 315.3h0M584.1 316.4h0M582.4 326.1h0M566.8 329.0h0M574.2 321.8h0M573.5 324.4h0M568.4 312.7h0M563.7 321.1h0M574.0 324.3h0M572.2 320.6h0M574.7 317.6h0M570.7 316.9h0M568.9 312.6h0M581.4 320.7h0M563.3 320.3h0M560.1 314.0h0M570.2 314.4h0M569.9 323.2h0M572.4 321.1h0M583.7 324.3h0M572.6 316.6h0M571.8 322.5h0M579.1 315.1h0M568.5 317.3h0M580.3 317.0h0M572.9 314.5h0M578.5 309.0h0M585.7 308.1h0M559.6 304.3h0M559.7 314.7h0M573.6 309.6h0M571.7 311.0h0M571.9 312.8h0M569.5 307.0h0M569.6 314.6h0M568.6 314.2h0M581.3 298.7h0M573.5 305.0h0M570.8 313.2h0M577.9 303.6h0M577.6 307.0h0M568.7 311.9h0M576.3 306.1h0M566.5 310.4h0M581.9 307.4h0M562.5 300.9h0M561.7 313.4h0M562.8 304.5h0M578.6 314.9h0M570.1 307.3h0M566.1 318.7h0M570.8 309.6h0M578.5 302.8h0M580.5 306.0h0M573.4 317.1h0M569.3 307.5h0M572.7 296.9h0M583.3 308.5h0M580.0 310.4h0M572.4 310.1h0M578.4 307.9h0M571.3 311.2h0M575.5 309.5h0M581.8 308.9h0M566.3 316.2h0M566.8 304.7h0M571.5 307.7h0M572.5 312.9h0M559.9 313.9h0M569.1 309.5h0M572.9 303.8h0M579.2 306.9h0M566.3 316.0h0M578.8 310.1h0M587.2 303.9h0M562.1 306.6h0M570.8 306.6h0M568.5 298.9h0M584.1 314.5h0M578.0 303.8h0M573.6 311.3h0M569.7 309.5h0M587.0 308.0h0M570.5 316.9h0M573.3 307.5h0M576.2 305.1h0M567.4 300.0h0M574.0 304.5h0M561.6 313.6h0M565.8 312.1h0M574.9 307.3h0M581.0 302.3h0M568.7 310.4h0M576.5 312.2h0M585.2 314.1h0M573.5 302.9h0M573.0 302.9h0M568.4 305.7h0M579.9 303.5h0M562.8 299.7h0M582.4 304.1h0M566.2 310.5h0M575.0 304.9h0M575.6 298.8h0M575.3 314.8h0M581.9 311.5h0M572.5 307.5h0M569.3 300.7h0M573.7 304.9h0M568.1 305.3h0M576.8 306.5h0M585.5 307.1h0M574.1 310.7h0M563.8 305.2h0M576.7 306.5h0M576.2 316.3h0M572.3 307.0h0M568.8 304.5h0M573.7 306.9h0M564.5 310.5h0M572.2 315.4h0M574.0 305.5h0M576.3 308.7h0M568.7 305.2h0M571.4 306.3h0M573.3 312.9h0M567.5 298.6h0M586.2 304.3h0M563.9 302.9h0M560.5 315.1h0M578.0 305.2h0M574.2 309.5h0M578.5 301.5h0M566.8 308.9h0M573.6 312.9h0M561.2 300.7h0M568.4 303.4h0M567.6 305.1h0M579.2 308.5h0M570.2 308.7h0M561.0 307.1h0M563.3 306.7h0M563.6 299.4h0M569.1 309.3h0M571.6 305.6h0M575.7 309.8h0M575.1 313.0h0M575.9 310.6h0M572.6 312.6h0M569.2 312.7h0M579.5 299.9h0M575.2 309.4h0M565.9 310.0h0M566.6 314.6h0M576.0 308.9h0M568.4 314.9h0M577.3 305.0h0M572.3 305.4h0M566.3 310.5h0M582.5 306.9h0M569.8 305.3h0M582.4 306.4h0M579.8 313.2h0M579.4 303.7h0M572.8 299.6h0M567.8 309.1h0M570.0 310.6h0M578.0 301.0h0M563.6 300.1h0M573.4 302.3h0M566.0 307.0h0M563.7 313.3h0M574.6 313.9h0M574.8 312.8h0M582.4 305.5h0M577.5 312.9h0M581.3 306.8h0M570.9 311.7h0M573.3 301.3h0M568.5 308.2h0M582.5 316.2h0M578.6 311.5h0M578.2 314.4h0M576.4 313.1h0M577.1 301.5h0M561.3 303.1h0M567.1 303.5h0M574.6 302.7h0M577.2 304.9h0M570.6 312.5h0M583.4 296.4h0M566.8 293.5h0M582.1 293.7h0M581.9 290.8h0M581.7 299.1h0M573.3 298.7h0M572.3 294.3h0M566.0 300.5h0M574.8 291.9h0M565.0 291.2h0M578.6 297.4h0M572.7 293.4h0M577.6 301.4h0M562.9 291.8h0M570.7 297.3h0M574.5 295.0h0M564.1 287.0h0M574.9 294.9h0M569.3 303.6h0M572.7 299.8h0M571.1 298.4h0M575.4 303.9h0M563.0 297.9h0M569.8 293.1h0M580.1 292.3h0M574.0 304.5h0M569.9 296.7h0M572.6 294.6h0M576.4 294.0h0M562.8 301.4h0M575.4 298.1h0M575.0 290.3h0M577.3 285.2h0M567.6 289.8h0M577.2 295.2h0M572.2 298.3h0M568.6 300.1h0M584.1 286.9h0M566.4 296.4h0M572.2 289.4h0M577.9 290.7h0M575.4 298.3h0M572.9 291.3h0M561.5 298.8h0M573.0 302.1h0M575.8 292.0h0M576.0 291.8h0M572.2 298.8h0M570.7 293.9h0M585.9 296.4h0M574.2 298.2h0M580.5 294.6h0M574.3 294.1h0M577.2 297.4h0M572.9 301.8h0M578.9 297.1h0M576.0 295.0h0M576.6 295.8h0M561.7 295.2h0M572.6 286.3h0M573.1 304.1h0M562.2 293.2h0M573.7 296.8h0M575.5 286.5h0M559.0 291.1h0M582.1 289.5h0M579.0 287.2h0M575.8 294.8h0M573.0 292.7h0M575.6 295.0h0M572.9 293.1h0M561.8 301.3h0M567.8 296.8h0M568.2 293.1h0M564.9 299.0h0M572.0 285.5h0M581.7 286.9h0M562.3 293.6h0M580.1 291.4h0M579.9 298.3h0M567.5 285.0h0M562.4 302.2h0M584.0 288.9h0M574.7 289.8h0M573.3 292.1h0M571.2 298.7h0M566.1 286.4h0M560.3 292.1h0M566.9 285.7h0M568.5 300.4h0M565.8 299.4h0M585.8 301.4h0M577.3 288.3h0M587.8 297.4h0M574.4 295.2h0M564.3 292.9h0M575.0 300.7h0M572.4 300.4h0M568.7 296.4h0M569.4 290.0h0M574.5 296.1h0M561.7 294.4h0M583.7 292.2h0M558.8 296.3h0M568.5 290.6h0M572.8 288.5h0M582.4 291.6h0M578.8 298.4h0M573.5 302.9h0M574.5 286.7h0M570.8 290.0h0M575.4 294.7h0M574.6 300.9h0M562.5 294.0h0M563.3 302.6h0M576.6 302.9h0M572.0 294.3h0M579.2 300.0h0M561.4 294.9h0M580.6 299.2h0M577.5 291.1h0M573.3 295.5h0M574.8 293.2h0M570.4 283.9h0M575.4 295.0h0M574.8 291.8h0M573.1 301.6h0M570.4 292.3h0M580.0 291.3h0M568.6 301.0h0M574.5 290.5h0M575.2 286.4h0M579.2 294.4h0M577.8 292.7h0M577.9 294.7h0M561.9 295.2h0M561.4 292.2h0M573.8 292.3h0M572.1 296.8h0M563.1 296.3h0M582.6 287.7h0M566.3 283.8h0M571.3 288.1h0M572.3 301.5h0M583.1 289.2h0M564.2 296.4h0M578.2 302.8h0M563.7 286.7h0M578.1 297.9h0M575.6 289.5h0M569.2 290.4h0M573.5 284.5h0M577.0 298.8h0M574.3 291.2h0M579.2 288.7h0M577.0 289.7h0M580.0 299.0h0M569.3 294.1h0M582.9 291.3h0M565.6 297.9h0M572.5 295.9h0M564.8 300.5h0M583.2 296.0h0M572.8 291.9h0M573.9 293.5h0M565.6 288.9h0M568.1 295.9h0M570.5 292.5h0M576.8 287.0h0M558.3 292.3h0M578.2 296.2h0M575.8 289.6h0M572.3 289.8h0M583.8 283.9h0M580.7 303.2h0M577.2 286.6h0M576.5 297.4h0M568.9 296.0h0M571.1 292.0h0M569.1 301.3h0M575.9 298.9h0M580.9 291.1h0M579.4 286.2h0M561.6 285.1h0M571.6 293.3h0M583.3 293.0h0M561.6 295.6h0M562.8 301.0h0M567.1 299.3h0M573.8 295.8h0M569.7 297.1h0M585.0 287.3h0M568.0 287.4h0M579.2 291.3h0M581.1 296.1h0M565.4 289.8h0M578.8 277.0h0M563.8 272.8h0M569.2 283.7h0M571.8 278.9h0M559.8 285.7h0M580.6 287.0h0M576.8 283.9h0M563.4 288.3h0M561.0 275.9h0M578.1 280.9h0M569.3 282.5h0M581.9 288.6h0M583.0 280.5h0M574.3 290.9h0M572.3 289.8h0M577.0 287.1h0M575.0 280.4h0M568.6 283.5h0M579.3 278.2h0M564.0 287.1h0M568.3 282.3h0M577.8 282.6h0M567.3 277.8h0M583.1 281.4h0M567.5 282.8h0M570.1 283.0h0M567.1 284.9h0M575.6 280.5h0M567.5 289.4h0M583.8 282.1h0M575.7 272.2h0M575.3 285.1h0M566.6 277.9h0M573.8 276.1h0M581.9 283.2h0M577.5 277.7h0M569.0 282.2h0M565.2 277.6h0M571.3 281.0h0M574.5 281.7h0M570.6 273.4h0M579.4 274.1h0M580.4 280.0h0M563.8 274.0h0M584.8 285.5h0M579.7 271.3h0M572.9 277.5h0M575.1 276.7h0M564.0 278.2h0M569.6 280.6h0M573.4 288.0h0M571.5 280.9h0M572.4 285.2h0M574.2 281.4h0M574.9 289.6h0M571.2 280.7h0M577.9 278.1h0M570.7 283.0h0M585.4 277.3h0M570.3 291.6h0M571.4 282.6h0M580.8 287.7h0M577.5 280.0h0M572.8 285.5h0M574.8 286.1h0M568.7 287.4h0M576.9 281.7h0M576.3 274.7h0M570.8 280.0h0M584.7 276.3h0M565.7 274.8h0M570.1 275.7h0M574.6 288.4h0M575.3 270.9h0M575.4 275.5h0M583.8 284.4h0M576.1 283.8h0M571.7 270.8h0M580.0 279.7h0M566.4 283.2h0M572.0 287.8h0M567.2 285.5h0M567.1 282.0h0M569.2 281.7h0M576.7 281.8h0M580.2 280.6h0M567.2 282.9h0M586.1 279.4h0M577.0 290.6h0M563.7 283.5h0M564.8 279.9h0M569.1 277.5h0M560.0 281.4h0M558.5 271.0h0M571.0 285.0h0M573.0 275.2h0M574.1 282.2h0M568.3 284.7h0M574.9 281.1h0M579.8 282.2h0M568.9 277.9h0M580.2 287.9h0M578.0 278.7h0M572.8 278.2h0M577.7 279.9h0M571.0 278.9h0M568.2 273.7h0M575.6 280.2h0M572.3 276.9h0M571.6 287.7h0M573.4 289.8h0M573.0 285.7h0M578.1 291.8h0M576.2 278.9h0M582.1 285.7h0M585.7 285.3h0M568.4 288.2h0M569.7 280.4h0M568.8 288.9h0M572.9 287.9h0M575.2 272.4h0M568.8 279.1h0M575.7 277.3h0M572.3 286.4h0M584.8 289.6h0M573.9 282.8h0M565.2 286.0h0M578.3 283.4h0M584.7 283.8h0M579.3 283.6h0M572.5 284.3h0M580.6 282.3h0M563.4 275.4h0M567.7 274.8h0M582.0 274.1h0M571.5 279.1h0M571.3 275.7h0M570.3 273.5h0M567.5 288.5h0M562.9 279.0h0M569.0 269.8h0M576.6 278.4h0M578.6 269.9h0M578.7 276.6h0M566.4 272.7h0M561.4 263.9h0M581.1 261.0h0M567.7 267.3h0M564.6 260.5h0M569.6 265.6h0M572.9 264.6h0M570.6 263.5h0M565.2 270.4h0M571.4 265.3h0M586.0 257.8h0M575.8 275.0h0M576.7 264.4h0M573.1 271.7h0M568.5 263.6h0M576.2 273.6h0M577.3 263.8h0M569.9 268.3h0M562.8 275.0h0M563.2 269.9h0M572.6 262.7h0M572.2 263.9h0M581.8 264.9h0M582.8 268.9h0M574.1 262.7h0M572.4 257.5h0M569.6 264.8h0M570.3 265.9h0M569.6 265.8h0M573.8 262.3h0M567.0 270.1h0M586.0 261.3h0M578.8 271.7h0M574.2 269.8h0M574.1 267.7h0M575.1 266.2h0M563.4 267.4h0M573.1 279.1h0M568.4 268.6h0M567.9 277.0h0M571.5 275.5h0M575.3 269.7h0M578.2 275.5h0M562.0 264.0h0M574.2 268.3h0M571.5 272.5h0M574.3 278.7h0M573.0 258.6h0M577.7 270.8h0M574.2 266.5h0M579.3 265.8h0M569.9 266.6h0M566.4 265.8h0M579.2 278.9h0M567.0 265.0h0M577.5 270.0h0M574.9 275.9h0M582.3 267.5h0M570.5 273.4h0M572.6 263.4h0M571.0 272.5h0M567.0 265.2h0M581.5 269.4h0M579.3 276.5h0M577.0 270.6h0M577.6 264.0h0M582.3 261.8h0M565.2 264.1h0M573.8 268.3h0M584.4 268.8h0M577.9 260.8h0M568.5 276.4h0M573.7 257.8h0M582.8 270.7h0M580.6 260.1h0M567.1 268.4h0M581.0 256.8h0M577.4 255.2h0M577.4 254.9h0M560.1 254.8h0M572.8 261.5h0M566.3 257.3h0M582.1 252.4h0M568.9 254.5h0M565.1 249.8h0M581.3 246.9h0M570.3 261.6h0M568.6 257.6h0M580.8 251.3h0M579.7 256.9h0M575.5 250.3h0M584.8 260.1h0M564.5 255.6h0M575.6 258.9h0M576.3 251.8h0M576.6 249.0h0M581.1 259.1h0M579.9 252.7h0M573.3 257.0h0M574.8 252.0h0M578.3 245.3h0M571.1 259.5h0M574.0 260.1h0M565.2 261.9h0M565.1 258.2h0M574.5 254.4h0M578.0 252.0h0M574.0 259.8h0M572.9 257.5h0M577.3 255.2h0M568.6 256.3h0M569.7 255.2h0M563.0 249.0h0M569.4 257.2h0M574.1 242.8h0M573.8 240.9h0M574.1 242.8h0M573.4 233.2h0M575.3 240.7h0M559.5 243.6h0M569.2 239.0h0M571.2 239.7h0M582.7 328.0h0M588.9 329.0h0M593.5 338.3h0M588.9 337.2h0M600.3 330.4h0M595.0 334.8h0M594.8 338.6h0M595.6 325.5h0M597.3 333.4h0M586.5 336.1h0M591.2 334.6h0M592.2 329.3h0M589.2 336.9h0M581.8 331.2h0M596.7 329.3h0M595.5 335.6h0M586.8 330.1h0M581.6 334.5h0M588.5 333.1h0M598.3 329.3h0M581.2 331.0h0M589.4 338.5h0M599.1 330.0h0M589.5 338.7h0M586.0 329.3h0M586.3 339.1h0M596.0 339.1h0M583.5 328.4h0M585.5 320.3h0M585.8 313.8h0M595.0 321.7h0M588.2 314.1h0M599.9 323.9h0M588.5 320.8h0M592.1 322.2h0M578.9 321.1h0M594.8 326.2h0M592.5 328.8h0M579.6 320.3h0M586.8 316.9h0M597.7 321.8h0M591.1 321.2h0M593.7 326.0h0M586.4 316.7h0M596.7 317.4h0M592.0 321.2h0M597.9 330.3h0M589.4 309.8h0M598.3 313.5h0M594.0 324.6h0M595.6 319.3h0M594.4 326.1h0M584.0 321.4h0M579.6 325.0h0M599.8 324.7h0M583.3 322.3h0M591.9 316.7h0M588.0 327.8h0M584.8 327.9h0M588.3 322.0h0M590.7 326.7h0M594.1 322.7h0M592.6 326.1h0M589.1 326.6h0M596.7 320.5h0M586.9 322.8h0M597.9 315.4h0M588.1 318.3h0M584.9 329.1h0M576.2 313.7h0M597.9 323.6h0M588.8 317.3h0M592.5 311.9h0M587.7 325.5h0M586.5 313.2h0M586.5 321.0h0M597.1 315.7h0M583.3 317.0h0M581.5 318.0h0M580.8 315.2h0M588.3 317.3h0M581.6 322.1h0M582.6 324.9h0M577.4 319.3h0M596.0 322.5h0M585.0 320.5h0M590.7 329.6h0M602.2 316.5h0M593.5 320.0h0M589.4 322.7h0M591.3 321.0h0M593.6 322.5h0M586.6 325.1h0M596.5 321.4h0M601.7 321.1h0M589.4 325.0h0M579.0 313.1h0M585.1 322.0h0M590.5 320.9h0M583.1 326.2h0M599.8 319.1h0M585.9 318.3h0M603.6 320.7h0M589.6 321.2h0M598.9 317.0h0M591.8 316.7h0M578.7 324.7h0M594.4 314.7h0M596.5 322.2h0M594.8 318.8h0M597.2 312.7h0M595.7 319.3h0M581.2 316.8h0M583.7 326.4h0M596.6 320.6h0M580.0 313.9h0M586.7 322.9h0M589.4 304.9h0M581.4 303.1h0M596.8 299.5h0M597.5 309.6h0M589.3 315.7h0M584.2 303.7h0M596.2 308.5h0M600.0 312.5h0M603.3 308.4h0M600.4 305.4h0M595.4 301.6h0M596.0 301.3h0M593.7 300.7h0M588.8 304.9h0M588.9 297.6h0M598.8 314.1h0M581.7 311.9h0M582.3 306.2h0M586.0 309.9h0M583.0 305.3h0M591.7 300.3h0M597.0 311.6h0M586.7 308.5h0M587.8 308.0h0M594.7 304.7h0M591.3 300.0h0M587.2 305.8h0M591.9 306.5h0M596.1 307.1h0M596.2 316.4h0M600.0 307.3h0M590.4 304.5h0M591.6 303.8h0M600.8 302.6h0M590.1 302.4h0M597.9 310.0h0M599.5 310.7h0M595.4 301.6h0M582.4 302.3h0M591.0 308.9h0M581.2 311.7h0M588.0 306.5h0M591.9 305.9h0M591.8 310.1h0M594.0 311.7h0M582.0 306.9h0M588.3 313.6h0M583.0 301.0h0M593.7 304.8h0M593.2 305.2h0M593.0 302.4h0M597.6 314.0h0M583.8 296.8h0M589.4 311.7h0M589.1 298.1h0M588.7 301.3h0M596.3 306.1h0M592.9 310.3h0M595.9 306.7h0M591.1 299.8h0M597.3 299.5h0M602.0 303.6h0M596.4 309.2h0M599.0 301.7h0M593.7 306.4h0M594.7 315.1h0M601.3 312.1h0M591.1 301.5h0M595.5 297.6h0M591.1 306.5h0M591.9 302.7h0M594.4 309.5h0M599.5 311.1h0M579.5 314.5h0M588.8 317.9h0M590.3 313.0h0M597.1 312.9h0M587.0 310.4h0M580.0 299.7h0M598.7 305.5h0M596.4 296.3h0M587.4 309.5h0M586.4 297.8h0M588.1 303.5h0M583.3 302.6h0M586.0 309.1h0M597.4 307.3h0M591.2 313.8h0M595.9 312.8h0M588.7 308.3h0M593.3 305.4h0M599.1 296.1h0M599.0 311.8h0M587.9 302.6h0M599.8 306.6h0M591.6 308.3h0M585.8 317.7h0M596.8 305.4h0M587.7 300.7h0M584.1 313.2h0M588.4 308.9h0M592.9 307.4h0M599.9 300.5h0M586.7 303.2h0M597.8 314.5h0M587.4 300.7h0M592.1 315.8h0M588.8 306.2h0M588.1 303.3h0M590.2 302.3h0M591.9 308.5h0M593.7 303.1h0M586.9 306.5h0M591.6 315.1h0M578.4 299.4h0M588.0 308.2h0M591.9 307.6h0M605.7 303.9h0M592.9 313.7h0M582.1 307.3h0M579.4 312.9h0M585.2 309.7h0M591.6 306.4h0M583.4 305.4h0M594.6 315.7h0M592.5 299.7h0M596.6 309.0h0M603.4 311.1h0M591.1 307.1h0M595.2 309.2h0M594.6 314.3h0M590.8 307.7h0M593.5 310.2h0M597.7 302.4h0M589.7 306.3h0M586.7 304.6h0M584.9 302.2h0M586.9 312.2h0M588.1 307.6h0M584.5 306.5h0M589.3 308.8h0M582.6 315.9h0M588.1 310.4h0M592.3 312.5h0M584.9 308.2h0M584.0 307.5h0M583.0 298.0h0M588.1 315.1h0M600.1 311.4h0M591.9 301.2h0M587.1 297.3h0M590.7 292.1h0M590.4 292.3h0M588.0 290.4h0M601.2 291.0h0M603.4 292.3h0M594.6 296.3h0M584.7 290.2h0M599.9 292.9h0M598.7 292.6h0M598.4 286.4h0M598.0 285.9h0M595.5 295.0h0M579.3 293.6h0M601.1 290.5h0M596.6 299.9h0M591.1 294.2h0M591.9 304.7h0M598.8 296.6h0M593.7 294.7h0M595.3 297.6h0M592.9 303.6h0M583.8 292.4h0M591.6 295.6h0M600.6 296.2h0M591.2 289.3h0M589.9 292.5h0M578.8 289.0h0M582.4 291.8h0M589.4 294.4h0M591.5 297.6h0M601.6 289.5h0M590.9 300.8h0M590.8 301.1h0M588.8 292.6h0M589.2 291.4h0M582.8 298.1h0M582.6 294.0h0M588.4 292.9h0M589.7 294.4h0M590.3 292.1h0M586.2 298.1h0M600.4 288.5h0M592.2 299.2h0M587.7 293.5h0M591.3 286.4h0M593.3 303.1h0M581.1 289.0h0M585.6 291.9h0M593.2 303.4h0M597.1 288.6h0M604.5 287.5h0M589.8 295.2h0M576.9 288.8h0M584.9 290.6h0M585.3 290.2h0M585.6 296.7h0M580.0 286.1h0M588.6 295.7h0M597.1 284.4h0M589.5 292.0h0M584.0 298.6h0M591.7 290.4h0M581.1 293.9h0M598.8 299.5h0M586.8 300.7h0M585.5 286.7h0M597.0 286.7h0M586.7 291.9h0M589.3 296.1h0M593.9 289.0h0M592.8 295.6h0M589.9 293.8h0M588.1 295.1h0M588.6 288.9h0M585.5 294.2h0M584.2 300.9h0M581.3 297.7h0M594.9 290.4h0M583.6 288.7h0M587.0 287.3h0M588.6 291.0h0M578.0 301.9h0M579.1 294.8h0M592.1 287.6h0M594.9 297.7h0M583.4 297.4h0M587.2 304.9h0M589.7 290.1h0M598.1 291.3h0M588.6 291.4h0M590.1 301.5h0M590.0 296.1h0M583.3 294.4h0M584.1 286.7h0M592.7 295.5h0M584.2 295.8h0M585.3 285.0h0M592.8 289.2h0M580.6 292.3h0M582.5 289.7h0M590.4 286.0h0M593.5 293.4h0M593.0 286.9h0M590.3 300.2h0M582.4 301.9h0M597.1 303.4h0M592.8 296.7h0M590.0 299.8h0M594.3 301.8h0M590.8 293.8h0M589.0 297.4h0M579.5 298.7h0M591.6 298.8h0M599.2 290.4h0M594.4 298.3h0M588.0 297.5h0M602.2 293.4h0M583.4 293.7h0M584.0 295.8h0M590.1 290.2h0M594.4 294.8h0M584.1 297.4h0M588.7 284.6h0M590.5 290.0h0M587.8 292.8h0M593.0 290.4h0M596.0 300.5h0M596.9 288.8h0M590.6 301.1h0M578.9 286.7h0M597.6 287.4h0M591.6 293.6h0M582.7 283.9h0M583.4 289.1h0M588.6 298.8h0M584.0 295.5h0M598.9 290.1h0M579.3 291.7h0M589.1 288.2h0M591.8 296.0h0M580.6 293.8h0M590.0 291.5h0M596.6 296.9h0M584.3 290.3h0M591.1 305.0h0M601.4 297.8h0M583.9 290.4h0M591.6 296.4h0M586.9 294.6h0M586.6 287.5h0M584.2 300.1h0M585.5 293.3h0M587.9 289.9h0M591.1 300.4h0M581.2 296.0h0M586.0 291.3h0M581.9 295.2h0M591.2 292.1h0M593.7 303.5h0M582.9 295.6h0M591.6 294.8h0M598.9 297.3h0M589.2 294.0h0M591.9 288.1h0M600.2 297.2h0M599.0 299.3h0M585.1 297.0h0M592.6 291.1h0M594.0 295.4h0M595.0 294.3h0M581.7 289.3h0M599.7 286.6h0M585.1 290.5h0M591.3 283.7h0M597.6 293.7h0M583.7 291.1h0M582.5 290.4h0M598.3 297.9h0M591.2 295.9h0M591.6 296.7h0M579.9 294.4h0M584.6 294.4h0M593.8 299.9h0M585.0 295.4h0M592.2 289.0h0M591.9 294.5h0M593.7 294.9h0M598.5 295.0h0M588.1 294.6h0M587.1 294.7h0M595.4 301.5h0M593.2 287.7h0M597.8 295.8h0M593.2 290.1h0M594.5 304.4h0M588.8 296.1h0M600.6 290.8h0M589.7 298.4h0M590.8 291.4h0M594.0 300.5h0M591.5 292.9h0M588.4 289.5h0M592.7 289.4h0M595.7 297.7h0M590.5 281.2h0M593.0 270.7h0M589.4 285.9h0M584.2 279.5h0M586.4 286.2h0M590.8 292.1h0M589.6 272.5h0M585.4 276.8h0M591.4 278.1h0M585.2 275.7h0M597.3 280.5h0M590.1 278.7h0M596.8 286.7h0M588.4 280.9h0M587.2 290.3h0M588.9 280.7h0M590.8 281.5h0M594.4 273.9h0M584.2 283.2h0M594.5 279.1h0M592.8 283.1h0M586.2 283.5h0M601.0 276.9h0M585.4 278.4h0M590.8 288.1h0M582.0 287.5h0M594.9 273.0h0M595.6 279.9h0M590.7 277.1h0M597.8 271.5h0M592.4 276.5h0M589.3 277.9h0M604.2 281.8h0M595.4 274.8h0M587.5 291.5h0M592.6 282.6h0M588.5 281.7h0M602.8 285.3h0M599.6 280.4h0M598.6 285.7h0M592.9 282.0h0M589.9 277.7h0M601.6 273.8h0M584.8 278.0h0M592.2 278.8h0M590.2 279.1h0M592.5 283.8h0M589.7 274.3h0M587.9 275.2h0M598.3 289.6h0M590.8 275.6h0M588.5 276.3h0M593.9 280.2h0M587.4 284.2h0M588.8 290.0h0M581.8 280.6h0M592.8 286.1h0M592.0 285.1h0M580.2 281.4h0M585.0 283.9h0M582.5 276.8h0M595.0 287.1h0M594.6 275.7h0M582.9 282.2h0M581.3 283.2h0M579.2 275.5h0M598.4 290.8h0M596.9 283.2h0M581.4 274.0h0M585.3 281.7h0M582.5 280.8h0M586.9 278.7h0M584.2 285.8h0M591.9 286.2h0M583.4 278.9h0M589.4 290.4h0M589.7 275.9h0M597.2 283.2h0M593.3 276.9h0M598.4 273.5h0M583.1 285.6h0M592.5 281.3h0M595.1 282.6h0M598.6 289.8h0M586.6 278.6h0M592.3 279.0h0M577.5 279.8h0M589.8 289.2h0M589.9 280.8h0M584.1 281.6h0M578.5 286.9h0M602.1 290.7h0M584.4 276.7h0M600.5 275.6h0M595.6 275.7h0M591.1 280.2h0M580.4 283.2h0M603.0 275.0h0M593.3 272.8h0M581.4 276.3h0M589.5 281.1h0M581.8 278.5h0M594.2 282.4h0M582.1 283.2h0M600.3 274.8h0M598.6 277.8h0M591.7 280.4h0M593.8 287.4h0M597.0 275.2h0M590.3 278.5h0M586.1 276.9h0M599.7 283.1h0M592.5 283.8h0M585.9 279.8h0M585.8 277.3h0M583.3 278.6h0M598.0 290.1h0M591.1 280.8h0M597.9 281.5h0M602.8 285.5h0M576.3 273.3h0M584.6 282.1h0M587.7 279.2h0M583.6 279.6h0M586.0 282.5h0M593.4 277.0h0M596.8 285.1h0M597.5 281.7h0M589.2 277.8h0M588.9 280.4h0M588.8 278.6h0M583.4 275.9h0M592.2 279.9h0M601.1 289.7h0M588.8 278.5h0M595.8 278.1h0M604.5 285.2h0M585.6 280.9h0M590.4 272.9h0M589.0 281.2h0M586.9 282.9h0M592.3 286.8h0M597.0 277.4h0M590.9 288.1h0M584.4 282.6h0M586.8 279.3h0M581.9 272.1h0M587.6 282.5h0M592.1 272.5h0M596.8 281.3h0M583.6 275.8h0M599.9 283.2h0M592.0 280.5h0M589.4 278.9h0M598.0 283.1h0M590.1 287.4h0M581.7 284.9h0M588.1 287.9h0M601.9 278.9h0M584.6 283.4h0M584.4 285.4h0M591.3 281.0h0M580.9 274.4h0M601.2 281.4h0M590.5 277.0h0M589.7 274.1h0M593.4 268.0h0M590.3 264.9h0M595.8 273.2h0M583.7 271.4h0M600.9 265.9h0M598.0 272.1h0M602.4 259.0h0M601.8 267.1h0M591.6 269.8h0M584.3 265.1h0M595.7 270.2h0M594.4 277.1h0M584.9 267.9h0M597.0 273.7h0M583.6 268.4h0M590.4 273.5h0M583.3 268.2h0M585.7 276.1h0M579.7 267.1h0M598.5 276.3h0M591.9 275.2h0M604.1 264.9h0M592.3 271.2h0M583.4 257.0h0M584.9 263.3h0M588.4 269.8h0M593.0 278.1h0M581.5 269.5h0M593.3 267.5h0M582.7 267.1h0M595.6 272.9h0M586.6 260.1h0M586.6 269.7h0M579.6 268.5h0M580.7 272.6h0M597.2 263.0h0M590.4 261.5h0M591.9 264.7h0M595.1 268.5h0M587.7 260.9h0M585.8 269.2h0M580.6 269.1h0M583.0 266.7h0M588.8 275.5h0M604.5 266.9h0M597.6 267.2h0M583.4 270.8h0M595.0 268.5h0M578.4 262.1h0M593.9 272.2h0M604.6 264.4h0M581.4 266.9h0M582.0 260.0h0M590.7 266.0h0M592.3 260.8h0M591.9 268.5h0M594.6 257.7h0M595.7 265.7h0M584.4 269.4h0M583.5 262.9h0M591.1 270.1h0M588.6 268.2h0M593.8 273.5h0M602.7 268.5h0M579.1 266.0h0M592.3 275.3h0M594.0 266.4h0M590.3 263.1h0M590.2 275.7h0M590.2 268.3h0M589.7 273.9h0M588.4 263.3h0M585.1 261.8h0M596.0 262.1h0M585.1 264.4h0M585.3 272.4h0M591.5 268.1h0M594.0 276.7h0M590.1 272.8h0M581.5 267.7h0M595.7 260.6h0M580.5 270.2h0M588.9 267.4h0M594.4 272.5h0M591.6 264.7h0M583.9 272.6h0M601.8 260.8h0M581.0 272.8h0M585.2 270.8h0M600.4 274.2h0M592.7 260.1h0M594.0 268.3h0M599.8 267.2h0M582.6 266.4h0M600.6 272.4h0M587.6 271.0h0M579.7 270.9h0M594.2 262.5h0M591.3 259.1h0M601.3 263.1h0M584.7 263.0h0M591.4 258.1h0M592.2 273.0h0M594.5 269.2h0M591.0 255.9h0M589.5 260.4h0M597.6 251.6h0M605.3 261.6h0M581.5 255.7h0M588.6 251.2h0M586.9 254.1h0M593.3 262.1h0M601.0 264.0h0M593.9 250.3h0M593.7 249.5h0M588.1 257.7h0M585.5 249.3h0M585.5 255.7h0M584.3 261.6h0M595.3 255.9h0M597.2 247.8h0M588.9 255.1h0M601.9 248.5h0M599.2 252.2h0M594.3 254.3h0M593.0 255.3h0M593.7 254.9h0M585.4 249.8h0M578.8 250.1h0M599.1 253.3h0M592.7 250.4h0M597.7 254.3h0M592.4 248.9h0M594.5 244.8h0M583.1 260.4h0M578.4 245.5h0M586.7 254.0h0M592.2 252.8h0M602.0 261.3h0M579.7 248.0h0M577.7 256.9h0M592.9 254.6h0M579.0 248.9h0M582.5 257.3h0M587.6 261.5h0M582.2 247.5h0M579.2 248.6h0M594.4 262.1h0M590.1 254.6h0M593.7 257.8h0M600.7 255.5h0M586.1 262.3h0M590.9 254.6h0M597.9 252.5h0M587.7 263.0h0M584.9 248.7h0M591.9 255.0h0M582.8 251.3h0M584.6 247.5h0M596.2 240.4h0M592.5 240.5h0M595.3 237.2h0M595.8 249.9h0M591.6 240.8h0M597.2 247.6h0M598.3 243.0h0M583.3 243.1h0M579.0 245.1h0M600.3 238.9h0M576.8 250.8h0M578.6 245.5h0M588.1 246.6h0M586.9 245.5h0M589.8 243.9h0M610.8 333.8h0M614.0 330.5h0M614.1 332.6h0M599.5 326.3h0M603.0 332.1h0M596.5 330.8h0M612.8 335.5h0M598.0 338.4h0M602.2 329.2h0M611.5 325.7h0M618.0 335.1h0M610.9 337.6h0M619.2 330.1h0M615.7 327.8h0M603.0 335.4h0M604.4 329.7h0M614.8 332.6h0M606.3 336.8h0M595.5 338.2h0M598.2 331.2h0M614.7 319.7h0M613.1 313.8h0M612.3 326.1h0M599.0 322.4h0M602.1 321.1h0M613.7 320.9h0M603.1 319.0h0M600.3 324.3h0M604.7 318.6h0M617.0 323.4h0M614.3 319.5h0M610.8 324.3h0M603.5 317.8h0M606.2 315.3h0M598.6 317.6h0M597.6 323.5h0M620.8 324.1h0M607.6 325.8h0M615.6 319.3h0M613.7 324.8h0M607.6 317.9h0M614.5 319.1h0M607.1 321.9h0M609.2 318.9h0M612.5 320.0h0M613.4 323.4h0M619.4 314.6h0M612.6 327.5h0M604.7 320.2h0M616.7 314.6h0M603.9 326.7h0M611.6 316.5h0M606.5 330.8h0M606.2 322.9h0M607.7 322.8h0M610.7 328.5h0M598.1 323.5h0M615.9 324.8h0M599.1 317.0h0M599.3 330.5h0M610.1 324.5h0M618.9 316.7h0M614.9 314.1h0M607.9 312.3h0M614.3 325.4h0M599.5 320.8h0M605.8 317.2h0M606.1 320.8h0M614.6 325.4h0M618.3 312.7h0M604.6 320.4h0M599.3 323.7h0M613.6 322.4h0M611.8 319.9h0M609.6 322.3h0M607.0 318.2h0M619.9 313.7h0M600.0 326.5h0M615.1 316.3h0M604.2 324.8h0M599.7 318.7h0M608.9 322.5h0M617.0 322.2h0M610.5 314.4h0M613.7 321.1h0M615.3 316.9h0M611.2 317.8h0M617.5 325.3h0M608.0 319.8h0M601.9 319.4h0M603.2 315.7h0M609.1 323.2h0M602.1 327.5h0M612.1 314.6h0M606.2 321.1h0M611.0 320.1h0M610.7 327.8h0M611.2 313.3h0M615.7 316.9h0M602.6 330.0h0M614.0 323.1h0M611.8 315.6h0M614.9 318.9h0M606.6 319.1h0M612.5 328.1h0M609.0 314.9h0M605.2 316.6h0M611.9 323.4h0M608.7 321.0h0M615.3 320.8h0M609.6 320.3h0M611.6 316.0h0M606.4 313.7h0M615.6 311.0h0M608.3 314.8h0M601.3 300.4h0M605.3 310.9h0M609.3 317.5h0M616.4 301.3h0M614.9 297.1h0M613.7 308.7h0M609.4 310.8h0M611.2 303.4h0M601.4 306.1h0M603.0 305.0h0M603.9 301.8h0M615.7 301.9h0M606.1 305.2h0M616.7 298.3h0M617.1 299.9h0M612.0 305.1h0M610.2 313.3h0M614.9 315.8h0M601.7 304.3h0M604.4 301.3h0M619.4 303.5h0M599.0 304.8h0M610.4 307.8h0M602.1 303.9h0M613.2 307.1h0M608.9 306.4h0M606.6 306.1h0M605.5 312.2h0M605.8 307.3h0M607.7 297.8h0M619.4 306.3h0M612.8 314.2h0M604.2 310.3h0M618.6 304.4h0M618.6 309.5h0M599.8 307.3h0M605.8 309.1h0M600.9 313.0h0M616.7 313.7h0M606.2 302.8h0M597.6 303.3h0M610.1 302.4h0M613.1 314.3h0M610.9 306.9h0M600.9 306.4h0M620.1 306.5h0M612.3 297.1h0M600.8 316.4h0M599.9 306.0h0M600.3 304.6h0M615.3 305.8h0M609.5 306.2h0M606.4 306.3h0M600.2 311.1h0M601.8 305.2h0M606.7 314.8h0M619.1 308.6h0M597.3 305.6h0M616.3 302.0h0M612.7 313.6h0M609.2 306.0h0M613.3 311.1h0M608.9 297.9h0M608.8 306.7h0M602.2 310.2h0M611.4 309.9h0M606.4 308.4h0M608.9 298.5h0M602.6 310.4h0M607.8 312.1h0M612.0 299.4h0M610.3 314.5h0M603.0 316.8h0M600.0 313.4h0M616.0 313.1h0M621.0 306.9h0M601.9 308.1h0M613.9 306.8h0M609.9 308.0h0M617.6 310.4h0M604.5 309.7h0M604.9 299.6h0M615.1 311.1h0M610.5 304.9h0M615.3 303.1h0M611.9 304.4h0M610.9 303.0h0M609.7 307.3h0M619.6 314.1h0M614.4 307.9h0M621.4 304.8h0M602.8 317.6h0M599.8 308.6h0M604.0 308.9h0M609.5 306.0h0M607.8 302.8h0M610.3 308.6h0M620.3 310.7h0M613.2 305.6h0M611.9 307.9h0M610.4 309.5h0M604.6 308.4h0M610.9 309.5h0M606.5 303.6h0M609.1 303.7h0M614.2 305.8h0M612.7 299.2h0M621.9 306.6h0M611.0 311.3h0M611.0 307.2h0M605.8 305.9h0M605.2 309.8h0M596.6 309.7h0M607.8 304.2h0M610.2 298.6h0M597.6 299.4h0M594.9 307.3h0M597.0 305.0h0M609.6 305.2h0M612.6 313.5h0M595.8 303.3h0M616.1 302.2h0M613.1 300.2h0M613.1 308.5h0M608.3 302.0h0M600.0 301.2h0M609.1 297.1h0M614.8 314.4h0M614.1 309.2h0M611.3 316.8h0M598.6 307.1h0M620.0 300.8h0M613.5 310.9h0M606.9 305.2h0M607.6 307.3h0M608.3 308.6h0M603.0 310.8h0M600.5 309.6h0M599.4 308.0h0M603.9 316.4h0M604.3 305.6h0M606.7 301.4h0M615.8 312.3h0M603.0 308.7h0M615.0 312.4h0M620.1 312.8h0M620.8 312.2h0M608.8 313.3h0M608.0 301.4h0M608.3 305.2h0M595.3 313.9h0M605.6 309.9h0M609.3 307.1h0M605.6 310.6h0M603.3 309.9h0M617.0 308.2h0M615.9 305.9h0M601.7 297.5h0M613.4 305.0h0M608.3 311.7h0M609.5 297.0h0M607.6 297.7h0M620.2 291.4h0M607.7 304.0h0M607.1 303.4h0M612.6 296.7h0M615.6 284.9h0M611.1 301.8h0M601.5 291.1h0M606.0 294.7h0M605.4 294.3h0M612.3 296.3h0M616.1 293.9h0M604.1 292.9h0M600.5 291.5h0M605.3 298.5h0M613.0 295.8h0M616.2 291.4h0M607.8 289.1h0M620.1 294.0h0M604.0 299.7h0M617.7 298.4h0M597.6 297.3h0M620.2 292.8h0M614.9 295.4h0M616.0 293.2h0M609.8 294.9h0M615.5 299.1h0M611.4 294.3h0M599.4 291.5h0M601.7 291.9h0M610.2 296.4h0M616.5 291.6h0M615.5 292.7h0M609.5 291.3h0M604.5 287.6h0M610.5 294.0h0M607.9 297.6h0M608.1 295.2h0M605.3 295.6h0M618.8 295.5h0M602.7 297.3h0M607.4 301.4h0M604.4 292.0h0M601.8 283.3h0M608.4 298.0h0M598.4 300.0h0M609.5 288.4h0M611.0 285.4h0M601.4 297.6h0M610.3 302.0h0M596.7 305.0h0M606.9 290.9h0M620.9 295.2h0M601.4 291.7h0M611.0 293.0h0M606.7 288.6h0M612.6 292.3h0M595.0 296.7h0M610.3 286.8h0M601.7 293.0h0M608.7 293.5h0M613.0 299.1h0M600.5 303.1h0M604.1 291.9h0M608.1 301.7h0M611.6 295.6h0M613.0 294.9h0M606.9 288.6h0M613.0 292.9h0M601.4 303.0h0M602.6 298.1h0M606.2 288.4h0M610.4 291.8h0M606.6 284.2h0M608.3 295.3h0M608.9 294.7h0M597.5 296.6h0M609.7 295.5h0M603.3 286.7h0M603.1 297.4h0M611.3 294.6h0M605.9 291.9h0M613.2 289.2h0M609.0 299.2h0M617.6 298.3h0M609.3 300.2h0M599.8 289.0h0M608.3 299.5h0M608.6 299.1h0M612.4 298.1h0M604.6 294.7h0M606.5 287.8h0M607.8 294.9h0M608.7 287.7h0M607.2 293.2h0M607.8 288.3h0M612.5 296.8h0M616.6 293.1h0M610.7 299.9h0M621.4 293.0h0M607.9 284.2h0M597.7 287.1h0M611.3 303.9h0M606.1 289.1h0M605.4 290.2h0M604.6 295.0h0M596.9 297.2h0M613.3 301.9h0M610.0 294.6h0M606.7 301.1h0M595.3 288.6h0M613.9 297.6h0M617.1 293.3h0M608.8 293.8h0M612.4 302.1h0M615.0 293.3h0M612.9 300.0h0M604.8 303.8h0M610.9 284.1h0M617.2 299.9h0M611.6 292.1h0M602.8 304.2h0M598.9 293.5h0M607.5 292.1h0M603.8 284.1h0M611.7 295.8h0M606.4 294.1h0M598.2 289.1h0M611.7 295.8h0M615.6 291.6h0M606.0 300.1h0M601.7 293.9h0M597.8 300.7h0M606.2 291.4h0M613.7 292.8h0M619.9 291.9h0M608.9 296.1h0M618.1 294.0h0M609.3 295.2h0M602.5 298.8h0M613.1 286.3h0M615.8 295.8h0M619.5 295.9h0M604.2 302.5h0M615.5 297.1h0M604.8 293.9h0M607.4 292.5h0M608.5 296.5h0M616.6 298.4h0M609.4 295.5h0M609.1 283.3h0M605.5 300.1h0M605.4 299.3h0M606.4 284.6h0M598.4 296.3h0M611.2 297.2h0M605.1 298.2h0M611.9 291.0h0M603.5 286.5h0M607.8 300.0h0M608.6 290.1h0M606.1 289.4h0M607.4 297.4h0M607.0 290.8h0M611.3 296.4h0M620.7 289.7h0M601.5 296.0h0M599.4 295.6h0M600.5 293.6h0M605.5 289.1h0M597.7 295.6h0M612.1 297.1h0M595.4 296.6h0M600.1 293.6h0M609.1 287.8h0M614.0 291.3h0M604.6 293.8h0M619.6 297.1h0M622.1 289.4h0M612.4 290.3h0M605.3 293.3h0M611.5 292.1h0M604.1 284.8h0M610.1 295.8h0M598.3 299.2h0M604.5 288.0h0M608.2 294.2h0M610.5 295.0h0M618.4 285.1h0M603.1 284.1h0M610.6 293.9h0M606.8 299.9h0M612.1 290.8h0M602.0 305.2h0M613.2 296.0h0M601.7 296.1h0M605.4 299.0h0M615.1 299.4h0M604.6 295.0h0M612.0 283.2h0M607.9 273.0h0M609.2 287.0h0M620.3 284.1h0M596.2 275.8h0M606.2 284.4h0M601.6 281.0h0M603.2 274.2h0M610.0 285.5h0M611.7 286.5h0M603.3 282.1h0M594.7 284.1h0M599.1 288.0h0M601.6 280.1h0M608.2 282.5h0M605.9 283.4h0M606.3 286.8h0M606.7 282.5h0M597.0 277.7h0M606.1 288.4h0M608.8 288.4h0M605.6 280.9h0M616.7 283.7h0M611.2 272.9h0M614.8 283.1h0M606.9 282.1h0M609.3 276.7h0M616.3 281.8h0M603.4 280.7h0M596.9 284.5h0M603.5 281.0h0M604.9 274.4h0M608.2 275.2h0M609.9 285.5h0M609.8 279.4h0M619.6 288.1h0M613.9 284.8h0M606.5 291.5h0M602.2 280.3h0M610.8 281.7h0M606.0 283.2h0M622.5 280.1h0M602.9 282.0h0M613.2 283.2h0M621.3 286.5h0M605.8 286.7h0M616.9 286.9h0M608.1 277.7h0M607.0 289.1h0M599.4 286.1h0M616.4 285.8h0M608.2 289.0h0M615.0 280.4h0M616.4 286.4h0M617.7 281.2h0M605.3 279.2h0M601.3 283.6h0M595.8 290.8h0M609.0 277.1h0M605.9 282.7h0M607.2 286.9h0M597.7 282.4h0M606.9 287.1h0M608.7 269.9h0M606.5 279.3h0M612.0 280.9h0M603.2 273.7h0M613.2 287.2h0M605.0 283.3h0M608.0 279.0h0M602.8 287.1h0M608.3 288.0h0M602.1 283.1h0M615.8 286.3h0M617.9 279.4h0M603.9 280.8h0M610.5 273.6h0M610.5 273.4h0M610.7 286.6h0M621.9 272.5h0M600.8 284.8h0M605.8 278.1h0M601.5 272.3h0M598.1 287.4h0M610.8 278.3h0M617.5 280.9h0M606.0 277.4h0M606.2 276.6h0M600.7 280.9h0M607.6 281.7h0M611.6 280.5h0M606.7 275.6h0M618.4 278.4h0M606.6 286.8h0M610.2 290.3h0M613.0 285.4h0M597.6 283.7h0M606.7 280.4h0M601.8 270.8h0M603.5 289.8h0M598.2 287.5h0M609.1 276.8h0M605.1 280.0h0M605.1 284.8h0M600.8 281.9h0M616.1 289.3h0M595.5 275.4h0M613.2 272.8h0M618.8 282.2h0M607.9 284.0h0M617.7 281.2h0M608.8 281.7h0M609.3 279.1h0M617.3 284.1h0M604.2 272.4h0M617.6 280.8h0M606.9 281.6h0M603.6 283.4h0M607.4 280.6h0M617.9 279.8h0M610.9 281.2h0M608.2 285.8h0M610.1 280.8h0M609.2 277.0h0M607.1 273.1h0M611.8 291.6h0M599.5 280.5h0M614.3 275.1h0M614.6 278.3h0M602.3 290.8h0M609.3 290.0h0M604.5 281.6h0M610.2 283.5h0M610.2 286.6h0M603.2 280.2h0M602.6 274.6h0M602.0 278.0h0M603.5 277.6h0M604.2 289.0h0M619.1 281.6h0M602.7 289.5h0M602.2 274.4h0M610.7 281.1h0M609.4 288.3h0M605.6 285.5h0M604.4 284.1h0M607.4 283.3h0M613.1 285.0h0M602.9 281.2h0M606.5 275.0h0M617.9 279.6h0M605.7 287.3h0M621.4 275.8h0M616.4 273.0h0M602.3 281.7h0M612.8 278.4h0M606.9 275.6h0M603.6 271.3h0M598.6 284.3h0M618.7 286.0h0M613.2 283.8h0M607.3 281.3h0M619.3 283.6h0M601.0 273.4h0M614.7 282.2h0M596.3 282.8h0M611.5 275.8h0M601.6 282.7h0M607.9 289.3h0M596.8 282.5h0M606.4 283.9h0M607.2 273.5h0M594.2 282.7h0M612.7 271.1h0M610.5 275.1h0M612.2 281.3h0M608.5 280.1h0M612.6 274.6h0M600.4 279.9h0M605.7 275.0h0M608.5 276.6h0M612.6 281.9h0M608.5 284.3h0M597.0 283.2h0M615.3 287.2h0M615.3 275.7h0M610.3 279.4h0M606.9 277.1h0M603.9 284.7h0M602.2 289.0h0M603.8 291.5h0M612.5 286.3h0M607.3 279.8h0M608.6 275.0h0M601.3 288.9h0M617.2 282.3h0M607.9 287.0h0M605.6 273.7h0M611.8 289.9h0M612.8 272.2h0M597.1 276.3h0M606.2 288.5h0M604.0 287.5h0M615.4 280.6h0M598.1 278.3h0M602.8 265.2h0M614.1 270.1h0M608.7 259.0h0M602.6 275.8h0M613.5 261.4h0M616.7 262.9h0M616.6 268.9h0M615.2 259.2h0M596.6 267.3h0M609.2 267.8h0M614.1 269.7h0M601.0 271.4h0M605.4 257.4h0M611.4 265.0h0M603.7 273.8h0M610.3 265.7h0M599.4 270.5h0M616.6 268.6h0M617.1 266.8h0M605.1 269.5h0M609.8 270.5h0M597.1 265.4h0M597.2 269.7h0M616.8 262.0h0M610.6 264.2h0M616.6 262.1h0M606.3 263.8h0M609.1 273.5h0M608.2 263.8h0M602.3 263.0h0M612.2 273.1h0M600.2 265.9h0M602.5 267.8h0M604.0 269.3h0M621.1 258.9h0M607.2 270.7h0M619.3 271.3h0M608.5 259.0h0M619.6 268.9h0M600.2 277.7h0M618.9 265.4h0M597.8 263.2h0M604.6 262.6h0M621.5 258.3h0M611.4 269.1h0M603.8 261.2h0M608.7 275.6h0M600.5 264.5h0M617.8 272.5h0M603.1 260.4h0M602.6 274.4h0M602.1 270.7h0M606.8 272.4h0M618.2 266.8h0M611.0 275.6h0M602.6 273.3h0M603.2 264.4h0M613.1 268.6h0M603.8 269.4h0M610.2 265.2h0M609.9 272.2h0M611.6 262.8h0M610.9 276.2h0M601.3 275.7h0M614.5 262.3h0M608.2 269.9h0M618.0 272.5h0M602.4 265.8h0M617.7 268.2h0M600.4 261.8h0M611.6 271.4h0M611.4 270.0h0M610.9 264.6h0M620.3 265.0h0M614.1 264.3h0M618.2 273.5h0M608.5 266.8h0M597.8 265.1h0M596.5 267.7h0M607.3 274.5h0M617.3 273.5h0M603.6 272.7h0M600.3 259.5h0M608.0 271.8h0M620.1 260.7h0M613.1 264.0h0M609.3 270.9h0M617.3 266.4h0M610.6 272.1h0M604.4 268.5h0M613.5 266.3h0M606.7 263.1h0M612.2 262.8h0M603.7 259.1h0M610.5 273.3h0M604.3 276.6h0M606.2 268.2h0M604.4 258.7h0M600.4 270.5h0M604.5 262.2h0M611.5 267.1h0M614.7 274.8h0M605.7 268.0h0M605.9 272.1h0M607.8 269.5h0M607.4 270.9h0M607.6 271.0h0M602.2 268.5h0M614.4 266.3h0M612.7 260.8h0M603.2 274.7h0M616.2 272.7h0M598.0 268.5h0M599.3 269.3h0M602.7 270.8h0M609.9 266.6h0M600.8 271.3h0M614.8 263.6h0M602.2 265.6h0M616.2 261.9h0M605.3 265.7h0M617.3 269.9h0M611.5 272.9h0M607.4 265.9h0M607.6 267.1h0M616.0 273.6h0M598.5 266.8h0M602.4 262.3h0M598.2 266.5h0M602.7 271.9h0M611.2 265.4h0M602.1 267.6h0M608.4 271.9h0M606.2 272.0h0M615.6 263.3h0M599.4 270.4h0M612.8 270.8h0M602.5 272.8h0M617.6 259.8h0M613.4 268.3h0M606.5 271.3h0M614.7 276.3h0M609.9 263.2h0M608.1 263.1h0M606.0 274.7h0M617.3 267.4h0M603.1 267.8h0M604.9 266.7h0M611.3 269.8h0M608.8 263.7h0M608.6 257.1h0M611.8 257.8h0M602.1 251.4h0M620.1 262.9h0M603.4 249.1h0M615.3 255.0h0M606.7 260.2h0M602.9 258.3h0M614.4 254.6h0M607.8 260.8h0M607.2 253.1h0M601.3 255.8h0M612.3 252.9h0M602.3 256.6h0M611.7 251.8h0M606.4 250.6h0M598.6 259.2h0M605.9 265.0h0M612.4 250.6h0M615.3 262.9h0M617.4 258.6h0M615.1 256.2h0M612.4 261.4h0M607.7 254.7h0M606.3 249.8h0M601.2 262.6h0M606.6 246.1h0M616.7 259.3h0M605.7 255.0h0M596.2 247.3h0M605.7 256.2h0M609.7 263.0h0M604.0 259.2h0M613.3 253.6h0M605.8 257.8h0M610.8 245.9h0M604.8 256.5h0M610.8 261.6h0M615.6 249.6h0M616.4 261.5h0M602.9 252.9h0M596.8 254.0h0M616.5 246.9h0M611.5 254.7h0M609.1 260.5h0M609.7 247.9h0M611.0 254.5h0M605.9 247.8h0M599.1 259.4h0M606.9 261.6h0M611.2 257.1h0M610.8 252.8h0M601.1 257.9h0M602.7 258.6h0M607.2 249.7h0M603.4 257.1h0M601.8 255.7h0M609.9 250.4h0M604.2 254.6h0M600.6 259.3h0M611.1 259.8h0M595.1 258.0h0M613.4 254.6h0M614.1 256.0h0M607.0 260.3h0M615.4 257.6h0M602.9 251.0h0M601.5 251.8h0M609.4 255.4h0M612.4 257.9h0M601.1 253.7h0M614.2 244.9h0M617.3 247.4h0M605.6 261.4h0M609.5 256.3h0M603.2 254.1h0M607.9 256.4h0M618.0 247.0h0M593.8 263.8h0M618.7 254.2h0M613.1 255.0h0M611.7 255.4h0M618.7 252.7h0M611.7 262.1h0M607.6 260.8h0M604.8 235.0h0M616.1 243.2h0M599.0 249.9h0M609.0 247.2h0M618.1 243.1h0M610.3 248.7h0M612.3 251.4h0M601.3 236.6h0M601.7 240.4h0M610.5 240.0h0M606.8 241.1h0M606.0 247.3h0M613.4 237.2h0M599.9 243.4h0M615.9 241.0h0M605.4 242.4h0M606.3 243.1h0M605.7 242.5h0M602.3 241.3h0M614.6 238.9h0M609.6 241.6h0M603.0 239.2h0M606.7 238.6h0M607.6 237.5h0M608.3 240.3h0M607.7 246.4h0M615.4 239.5h0M606.2 236.8h0M596.9 249.3h0M609.0 231.6h0M606.0 240.6h0M595.3 243.2h0M601.9 219.7h0M615.5 224.1h0M602.7 226.2h0M610.1 228.1h0M604.0 232.9h0M607.4 232.1h0M602.5 219.7h0M606.7 209.8h0M616.5 209.5h0M621.4 339.1h0M620.9 337.5h0M624.7 332.5h0M638.7 337.2h0M618.6 334.9h0M632.3 326.2h0M623.9 332.5h0M632.5 330.2h0M618.9 325.4h0M636.2 332.1h0M625.8 338.1h0M627.4 329.6h0M631.5 333.2h0M627.9 335.6h0M623.8 335.5h0M629.4 332.0h0M627.1 331.2h0M625.5 325.0h0M631.3 333.5h0M627.0 332.4h0M637.0 324.8h0M624.3 334.5h0M626.6 331.9h0M615.1 329.5h0M637.7 338.6h0M635.6 327.4h0M625.9 313.3h0M623.0 316.4h0M627.0 314.8h0M628.1 317.1h0M623.4 317.0h0M620.0 315.1h0M629.2 314.9h0M617.7 320.4h0M617.6 312.3h0M626.0 322.2h0M616.9 324.2h0M619.9 320.7h0M613.6 315.6h0M622.3 321.6h0M622.8 311.9h0M639.3 314.2h0M618.9 328.2h0M629.5 321.2h0M632.0 323.3h0M619.1 323.1h0M622.9 312.9h0M613.7 313.3h0M638.2 330.7h0M617.8 322.9h0M627.8 322.6h0M632.0 323.1h0M628.2 326.3h0M620.7 320.6h0M635.2 325.7h0M638.5 321.6h0M628.9 314.8h0M632.0 319.3h0M625.1 320.1h0M625.4 322.3h0M626.5 321.0h0M615.3 324.6h0M624.5 314.8h0M634.4 330.1h0M631.9 315.3h0M615.5 318.2h0M631.5 317.2h0M629.4 327.5h0M626.7 316.8h0M638.4 318.4h0M622.8 311.1h0M621.7 323.1h0M629.7 326.3h0M633.4 312.7h0M636.9 320.1h0M624.6 312.0h0M633.3 325.7h0M620.5 324.7h0M625.6 320.2h0M625.7 313.3h0M631.2 324.4h0M629.3 321.4h0M633.0 316.7h0M634.2 319.4h0M614.4 319.0h0M622.1 321.6h0M623.0 319.7h0M626.1 322.1h0M623.1 320.9h0M618.3 312.9h0M630.2 308.4h0M619.8 314.8h0M622.5 306.3h0M617.6 310.7h0M630.0 305.2h0M613.1 312.1h0M626.1 306.7h0M631.9 309.4h0M639.0 311.5h0M627.7 310.2h0M630.9 306.3h0M629.8 310.6h0M628.8 301.2h0M630.8 306.6h0M621.9 307.0h0M626.0 308.7h0M634.0 308.6h0M621.0 302.7h0M616.1 302.5h0M625.3 301.5h0M621.9 307.1h0M623.1 300.4h0M621.9 300.3h0M628.2 312.6h0M620.4 303.3h0M627.1 302.5h0M612.9 316.0h0M627.0 317.2h0M625.9 303.2h0M627.8 318.1h0M614.9 305.8h0M629.6 309.1h0M622.9 305.1h0M634.5 312.4h0M628.7 306.7h0M621.0 315.0h0M627.4 307.4h0M619.0 312.8h0M629.0 302.5h0M621.2 307.0h0M625.9 301.3h0M626.4 305.7h0M636.7 303.8h0M626.5 307.0h0M625.4 307.2h0M626.8 307.3h0M633.7 307.6h0M626.7 306.4h0M630.7 307.8h0M624.3 312.4h0M620.8 304.2h0M618.5 305.8h0M632.1 309.4h0M630.0 311.0h0M621.7 302.3h0M616.8 299.5h0M636.4 307.1h0M618.1 304.6h0M620.7 309.5h0M624.8 313.4h0M616.5 297.6h0M627.3 303.3h0M626.3 310.8h0M632.3 311.1h0M624.1 305.8h0M632.2 306.5h0M634.9 300.6h0M635.6 303.4h0M630.4 313.5h0M630.0 311.9h0M640.0 299.8h0M634.0 307.0h0M629.6 297.4h0M623.1 315.4h0M637.7 315.6h0M625.7 303.3h0M636.4 302.5h0M615.5 304.0h0M622.2 316.0h0M628.6 308.2h0M633.9 309.1h0M616.4 307.5h0M637.9 303.8h0M620.9 305.1h0M631.2 306.3h0M631.7 302.2h0M638.4 314.0h0M630.0 301.8h0M616.0 308.9h0M629.5 306.0h0M626.9 308.5h0M625.0 318.4h0M622.3 306.9h0M618.2 308.0h0M622.4 305.2h0M624.7 311.9h0M627.8 308.1h0M624.9 317.6h0M622.0 306.9h0M634.2 309.4h0M615.8 314.4h0M640.2 308.4h0M621.9 308.5h0M637.5 312.8h0M617.2 303.1h0M615.7 313.3h0M625.2 306.5h0M614.0 306.9h0M625.4 315.3h0M638.6 304.1h0M632.4 302.6h0M626.5 311.1h0M624.5 307.0h0M629.1 315.3h0M620.0 304.9h0M620.6 314.5h0M614.2 306.5h0M633.0 306.7h0M626.9 315.9h0M617.0 312.3h0M626.1 311.3h0M621.9 311.1h0M630.4 308.2h0M636.9 303.9h0M625.2 308.6h0M623.0 305.0h0M627.2 307.1h0M625.8 308.8h0M627.8 305.7h0M623.4 307.3h0M626.2 303.2h0M627.6 296.1h0M634.0 307.1h0M629.3 314.2h0M625.8 306.1h0M621.9 294.1h0M635.9 295.6h0M620.7 293.4h0M618.3 291.3h0M619.3 303.8h0M618.4 290.2h0M629.7 302.5h0M622.9 292.6h0M633.1 302.2h0M632.8 295.9h0M625.5 295.9h0M625.4 291.9h0M626.8 303.4h0M619.1 291.8h0M624.3 296.5h0M619.6 298.7h0M624.7 300.3h0M628.4 292.8h0M630.4 295.5h0M625.8 294.6h0M621.2 292.1h0M620.6 288.4h0M635.3 296.1h0M625.3 297.1h0M620.8 294.7h0M624.8 293.8h0M632.2 286.0h0M632.4 291.0h0M622.9 291.7h0M624.3 290.7h0M626.8 302.1h0M624.6 292.6h0M628.4 301.1h0M623.3 301.1h0M622.6 293.4h0M632.5 294.9h0M633.2 291.3h0M615.0 296.4h0M620.5 292.4h0M632.6 293.7h0M619.6 296.2h0M623.2 296.1h0M627.8 290.8h0M621.5 297.1h0M629.6 296.5h0M614.5 294.9h0M627.4 297.6h0M631.0 293.7h0M633.5 295.9h0M639.1 290.2h0M632.0 293.2h0M626.5 300.9h0M619.4 299.8h0M628.0 286.9h0M628.1 287.0h0M631.2 293.2h0M633.1 299.9h0M631.6 291.2h0M623.5 295.8h0M624.4 293.8h0M628.4 292.8h0M624.5 294.3h0M622.5 298.9h0M627.7 299.6h0M638.4 287.0h0M627.5 290.7h0M627.7 296.3h0M629.6 286.0h0M629.7 283.9h0M627.5 298.3h0M621.3 296.0h0M622.6 287.3h0M626.2 288.1h0M638.5 289.4h0M626.1 294.9h0M624.0 296.7h0M626.3 286.5h0M618.0 304.2h0M626.2 287.4h0M628.5 297.1h0M621.9 293.4h0M613.2 292.7h0M637.2 291.9h0M626.2 302.1h0M618.9 297.4h0M623.3 289.3h0M623.9 286.0h0M623.4 295.1h0M620.9 295.9h0M622.0 297.5h0M635.5 297.4h0M630.6 292.1h0M629.3 294.9h0M617.5 289.6h0M626.1 295.0h0M627.8 287.4h0M631.5 298.6h0M640.1 288.1h0M626.1 291.5h0M626.1 290.9h0M626.8 292.9h0M631.5 289.0h0M631.7 298.7h0M635.0 293.1h0M616.5 285.3h0M615.4 296.2h0M618.9 299.6h0M628.2 300.5h0M618.4 292.8h0M621.5 294.1h0M624.2 290.9h0M632.7 296.3h0M624.7 294.2h0M627.0 294.6h0M616.3 300.2h0M626.9 290.6h0M623.8 294.7h0M630.0 300.4h0M629.4 287.1h0M613.8 294.0h0M623.6 300.0h0M633.3 287.4h0M620.7 293.5h0M622.3 294.9h0M636.6 302.8h0M634.0 299.9h0M613.0 288.1h0M616.6 300.7h0M620.8 301.1h0M619.4 290.1h0M632.7 295.0h0M631.8 292.4h0M622.5 298.3h0M630.9 299.6h0M631.1 295.9h0M639.0 297.1h0M632.8 293.4h0M625.3 291.8h0M626.6 288.5h0M615.4 293.2h0M622.4 291.0h0M628.0 295.8h0M624.7 294.5h0M627.2 295.6h0M624.8 299.2h0M634.1 288.1h0M638.5 294.6h0M624.5 289.2h0M625.7 298.9h0M617.0 285.5h0M626.5 295.4h0M623.3 293.0h0M640.4 294.9h0M627.6 296.5h0M624.9 291.8h0M626.6 289.5h0M620.9 293.9h0M619.0 300.7h0M634.6 294.5h0M626.9 300.8h0M630.8 300.4h0M636.3 292.3h0M628.4 299.7h0M621.3 290.1h0M617.7 299.8h0M624.2 296.2h0M631.3 294.5h0M622.3 293.2h0M625.4 297.2h0M628.1 295.2h0M637.7 297.5h0M628.2 295.6h0M631.7 287.8h0M627.6 288.3h0M625.5 296.2h0M622.2 285.8h0M629.8 298.9h0M621.2 295.5h0M639.9 287.8h0M631.1 297.3h0M622.5 292.3h0M621.4 292.9h0M624.3 300.9h0M633.4 290.9h0M633.8 295.5h0M631.4 287.4h0M634.3 291.1h0M627.5 298.1h0M618.5 295.6h0M632.0 297.6h0M621.7 294.6h0M620.2 292.2h0M624.9 294.7h0M628.0 291.3h0M632.6 292.8h0M618.9 291.5h0M612.3 292.7h0M624.9 293.5h0M625.7 299.1h0M633.3 286.8h0M624.5 282.8h0M626.1 285.1h0M624.3 274.5h0M633.5 279.3h0M636.1 281.1h0M629.2 286.4h0M634.7 287.6h0M620.9 281.0h0M620.8 285.8h0M639.8 271.5h0M629.0 289.1h0M631.0 275.3h0M632.9 278.0h0M630.4 275.9h0M619.3 284.6h0M617.0 285.4h0M632.8 286.6h0M626.2 289.3h0M621.5 271.8h0M634.7 282.2h0M629.0 277.9h0M633.9 281.8h0M620.6 275.8h0M622.9 272.4h0M612.3 284.9h0M623.1 276.3h0M620.6 278.6h0M637.1 290.0h0M636.1 280.0h0M618.5 287.2h0M639.1 284.3h0M627.0 272.4h0M621.2 283.1h0M631.3 282.0h0M629.4 288.1h0M636.7 279.9h0M630.3 277.1h0M622.2 281.0h0M628.0 283.3h0M626.8 284.1h0M621.6 288.4h0M631.9 287.6h0M627.3 274.1h0M626.4 280.1h0M637.8 282.7h0M623.5 282.3h0M630.9 280.2h0M633.9 281.4h0M625.6 287.8h0M621.8 284.4h0M633.0 281.4h0M627.4 288.1h0M630.8 291.2h0M627.1 283.6h0M636.5 281.2h0M635.4 280.4h0M628.1 285.3h0M624.1 278.5h0M637.2 275.4h0M627.8 278.9h0M635.1 281.6h0M624.7 280.4h0M629.0 288.3h0M618.0 280.5h0M628.3 272.3h0M632.1 277.0h0M625.2 282.9h0M616.8 288.2h0M629.0 273.7h0M624.6 280.1h0M632.6 275.9h0M631.5 287.0h0M628.8 288.7h0M619.6 278.5h0M635.3 289.6h0M621.4 286.2h0M618.5 285.2h0M625.7 274.7h0M633.1 278.8h0M626.4 275.8h0M627.9 275.5h0M630.9 291.3h0M620.7 283.3h0M627.7 286.8h0M625.9 283.9h0M638.8 289.2h0M629.2 280.3h0M625.0 282.6h0M631.3 288.7h0M628.4 283.0h0M623.7 273.6h0M621.9 284.6h0M620.7 273.7h0M629.4 286.8h0M628.2 279.8h0M625.3 280.0h0M632.0 286.2h0M625.1 285.1h0M632.0 282.0h0M618.7 282.5h0M628.7 284.1h0M619.1 280.6h0M635.4 281.1h0M630.3 283.3h0M632.3 287.3h0M625.7 278.7h0M624.3 284.0h0M619.0 284.7h0M616.9 282.9h0M623.7 290.6h0M634.0 275.1h0M629.7 281.8h0M630.1 272.9h0M619.0 283.9h0M626.1 284.0h0M625.7 286.3h0M629.6 273.2h0M627.0 281.7h0M623.8 274.6h0M619.0 276.6h0M623.9 282.5h0M625.7 276.9h0M632.0 285.3h0M628.8 277.5h0M620.4 271.0h0M629.4 282.0h0M627.9 282.5h0M625.8 274.2h0M620.6 280.1h0M626.6 273.3h0M620.7 278.4h0M627.3 282.9h0M619.1 280.2h0M631.0 288.5h0M634.9 273.3h0M631.7 279.5h0M629.7 272.8h0M629.6 280.2h0M635.9 280.4h0M617.7 281.7h0M634.6 277.3h0M629.5 279.0h0M637.4 288.8h0M621.7 281.7h0M624.3 288.4h0M628.5 280.7h0M625.0 275.8h0M626.0 288.8h0M634.0 275.0h0M631.1 280.2h0M620.8 282.4h0M631.4 280.9h0M634.6 277.6h0M615.3 275.2h0M628.0 274.9h0M621.8 285.4h0M625.6 281.3h0M623.7 277.6h0M627.8 280.5h0M633.7 287.9h0M629.5 279.4h0M627.9 283.6h0M628.6 280.2h0M620.5 276.5h0M623.9 274.6h0M617.0 287.2h0M630.3 284.7h0M615.8 279.4h0M617.6 287.6h0M624.8 289.4h0M623.1 280.1h0M625.4 287.7h0M623.5 280.1h0M620.7 277.2h0M619.9 283.1h0M624.4 282.4h0M626.4 287.7h0M622.2 282.6h0M623.6 276.6h0M623.5 284.4h0M628.6 277.9h0M621.7 281.8h0M625.3 282.7h0M636.8 276.2h0M624.0 277.9h0M628.8 279.6h0M616.7 281.7h0M623.0 286.5h0M630.5 271.6h0M616.9 277.6h0M627.8 289.0h0M625.5 288.7h0M627.6 285.8h0M612.1 283.4h0M626.7 278.5h0M621.1 280.5h0M623.0 283.0h0M618.6 281.2h0M623.8 281.7h0M633.5 284.0h0M633.3 276.4h0M617.7 292.1h0M626.4 282.5h0M630.1 282.0h0M623.3 281.9h0M627.6 286.5h0M616.3 280.9h0M633.1 280.5h0M621.4 276.8h0M626.1 290.1h0M626.8 281.2h0M620.6 278.4h0M612.3 288.2h0M627.8 280.9h0M631.1 279.3h0M623.4 278.8h0M625.5 281.0h0M627.4 285.5h0M630.2 281.2h0M626.8 277.3h0M629.7 290.0h0M630.9 285.9h0M620.6 282.0h0M630.5 280.9h0M638.3 281.2h0M622.4 278.7h0M627.5 280.3h0M634.1 283.9h0M630.9 286.7h0M626.6 280.1h0M634.8 286.4h0M627.1 278.7h0M631.5 285.8h0M624.0 278.8h0M624.5 283.7h0M628.3 287.8h0M627.8 281.5h0M623.0 281.8h0M623.6 281.5h0M620.2 276.4h0M615.1 282.5h0M630.2 282.7h0M620.1 277.1h0M632.1 283.2h0M620.8 277.8h0M625.7 275.5h0M632.2 278.4h0M615.7 275.3h0M630.7 284.0h0M634.4 280.8h0M635.0 286.2h0M621.7 285.0h0M626.3 283.0h0M626.9 287.9h0M623.6 287.8h0M628.8 268.6h0M622.8 277.9h0M623.9 265.7h0M635.6 263.3h0M626.5 265.8h0M628.1 268.9h0M623.6 268.9h0M637.3 277.0h0M619.4 271.6h0M622.0 277.9h0M613.0 264.3h0M628.0 257.9h0M618.8 267.0h0M627.7 271.4h0M624.8 272.4h0M628.9 276.2h0M624.4 266.2h0M629.8 263.6h0M623.5 261.7h0M634.7 267.4h0M620.8 268.6h0M618.0 270.8h0M627.5 272.5h0M632.4 270.6h0M626.1 259.0h0M640.1 261.2h0M634.6 274.9h0M622.1 267.3h0M629.6 274.1h0M637.2 262.7h0M622.0 260.6h0M620.5 271.7h0M627.7 268.2h0M624.2 274.9h0M629.7 265.1h0M626.1 277.2h0M628.9 259.6h0M624.9 267.1h0M618.7 265.2h0M616.9 265.5h0M615.5 277.0h0M621.3 276.0h0M622.5 263.5h0M629.0 273.4h0M622.0 267.2h0M613.5 265.6h0M619.8 263.4h0M628.8 262.6h0M623.7 268.7h0M618.4 266.6h0M620.6 275.2h0M631.4 263.6h0M621.7 262.0h0M625.5 273.9h0M629.5 276.0h0M626.5 264.6h0M630.4 262.1h0M633.8 271.1h0M623.0 269.2h0M627.7 268.9h0M620.3 271.3h0M639.2 266.8h0M630.0 274.8h0M627.0 266.6h0M626.1 261.8h0M621.4 269.8h0M613.7 265.6h0M638.8 263.8h0M626.2 271.9h0M631.2 270.9h0M625.5 266.6h0M631.5 267.1h0M625.4 264.2h0M630.6 262.1h0M616.2 262.2h0M626.6 271.7h0M620.2 263.6h0M628.9 264.7h0M630.2 270.7h0M628.6 274.6h0M623.7 262.9h0M620.7 270.7h0M625.2 271.0h0M618.1 269.1h0M629.7 274.3h0M623.9 270.2h0M628.8 269.4h0M637.5 268.6h0M620.1 276.0h0M628.2 268.5h0M626.7 273.1h0M616.4 264.9h0M639.1 260.5h0M626.1 271.9h0M619.5 273.1h0M632.2 258.9h0M630.5 277.7h0M625.2 260.8h0M629.1 257.8h0M619.5 258.8h0M631.0 260.1h0M632.9 268.7h0M622.3 276.5h0M630.5 259.9h0M621.6 264.9h0M622.2 270.5h0M628.1 265.6h0M625.7 259.6h0M616.4 267.9h0M631.6 261.5h0M622.5 265.4h0M627.6 268.8h0M627.4 273.8h0M629.0 261.7h0M634.1 278.7h0M635.4 276.4h0M625.5 265.2h0M621.6 264.5h0M631.6 267.3h0M635.8 267.9h0M629.6 262.1h0M636.8 270.2h0M620.5 263.1h0M624.7 265.0h0M636.4 275.1h0M625.3 271.6h0M623.9 261.5h0M624.4 259.9h0M621.7 276.2h0M627.1 265.7h0M630.2 273.8h0M623.6 269.4h0M632.0 263.9h0M630.5 275.8h0M619.7 261.4h0M626.4 264.5h0M625.0 263.8h0M633.5 263.6h0M638.0 265.8h0M624.2 268.8h0M621.4 269.2h0M621.4 269.0h0M618.6 262.6h0M634.3 264.9h0M629.1 265.8h0M621.3 268.2h0M615.5 266.4h0M627.7 265.8h0M632.2 266.3h0M634.1 279.6h0M639.4 261.0h0M627.8 275.4h0M624.6 264.7h0M624.3 263.1h0M628.9 259.3h0M621.7 270.5h0M633.4 266.4h0M614.9 268.6h0M626.6 275.5h0M614.4 277.6h0M625.5 263.0h0M619.6 274.1h0M622.7 275.4h0M615.3 265.7h0M620.7 276.4h0M624.5 269.0h0M621.7 270.5h0M625.9 266.2h0M633.2 260.5h0M621.4 264.3h0M627.6 264.7h0M620.9 270.6h0M625.4 262.7h0M628.2 276.7h0M628.3 274.1h0M635.6 274.4h0M626.3 279.0h0M616.7 267.1h0M618.8 265.1h0M631.7 270.9h0M626.1 269.4h0M631.2 275.0h0M622.3 266.4h0M627.6 267.0h0M627.4 277.7h0M629.1 268.3h0M629.2 274.1h0M627.0 274.8h0M631.2 262.3h0M622.9 269.0h0M617.7 269.4h0M640.6 266.7h0M625.2 267.8h0M624.9 266.5h0M633.0 260.1h0M627.3 262.0h0M622.6 255.0h0M620.9 263.5h0M626.6 258.9h0M625.4 259.4h0M636.6 261.4h0M631.2 252.0h0M613.7 248.0h0M633.4 253.4h0M615.1 254.4h0M624.5 253.0h0M623.2 264.5h0M618.7 253.0h0M628.0 261.2h0M630.6 253.0h0M636.3 253.5h0M625.4 251.7h0M627.1 251.3h0M619.6 259.3h0M630.2 251.8h0M631.1 248.8h0M617.5 258.9h0M622.1 253.4h0M623.3 259.4h0M629.5 256.8h0M630.7 259.8h0M630.7 252.1h0M636.3 249.3h0M623.7 263.2h0M628.4 250.2h0M613.8 260.8h0M612.3 263.2h0M623.7 253.1h0M627.3 263.7h0M614.0 255.5h0M617.0 256.2h0M627.2 251.8h0M628.6 253.7h0M621.7 260.3h0M636.8 253.7h0M634.4 251.6h0M621.9 256.8h0M617.1 257.2h0M622.0 256.0h0M621.4 257.0h0M629.7 250.4h0M635.1 252.3h0M632.7 256.9h0M635.8 250.3h0M625.5 262.0h0M623.5 258.4h0M624.7 251.9h0M625.9 264.2h0M635.6 254.6h0M637.4 254.7h0M631.0 263.5h0M621.3 256.3h0M620.8 257.7h0M615.2 254.7h0M627.5 256.9h0M621.8 261.1h0M629.8 247.6h0M624.7 249.6h0M628.3 251.8h0M635.9 260.3h0M628.5 255.4h0M627.1 257.7h0M633.6 254.8h0M621.0 249.3h0M637.6 254.0h0M625.5 261.6h0M628.2 252.7h0M623.0 250.5h0M627.6 257.3h0M627.3 257.5h0M629.4 261.6h0M622.1 261.9h0M627.7 257.9h0M631.9 252.8h0M629.2 251.3h0M619.0 265.0h0M615.5 261.6h0M634.6 255.3h0M619.9 257.8h0M632.2 253.9h0M616.8 246.8h0M624.2 256.5h0M624.2 261.5h0M623.5 264.1h0M620.5 264.8h0M635.5 253.7h0M627.7 254.2h0M629.8 261.4h0M615.5 252.9h0M622.6 247.6h0M631.8 257.0h0M628.6 248.5h0M622.9 254.2h0M622.7 256.2h0M629.6 250.6h0M623.5 259.8h0M624.6 253.6h0M631.9 256.2h0M617.0 253.9h0M635.0 261.5h0M621.1 253.2h0M634.6 256.8h0M631.9 250.9h0M636.2 256.6h0M627.0 257.4h0M623.6 252.7h0M632.7 261.2h0M627.3 254.6h0M636.9 257.2h0M621.0 259.5h0M634.3 255.6h0M620.4 255.1h0M625.0 257.2h0M629.2 261.6h0M622.6 261.1h0M623.1 253.6h0M617.1 264.6h0M623.9 255.7h0M635.6 252.7h0M619.5 258.1h0M626.5 247.9h0M629.6 242.3h0M631.8 243.3h0M624.4 240.5h0M618.7 237.9h0M619.3 231.8h0M626.5 240.4h0M625.4 241.2h0M617.7 244.6h0M626.6 242.8h0M628.9 244.4h0M625.6 248.5h0M618.3 248.5h0M620.0 239.6h0M631.6 238.3h0M627.7 243.6h0M616.3 245.8h0M617.8 244.6h0M626.2 246.7h0M623.0 240.2h0M622.0 252.1h0M628.1 247.0h0M629.5 246.4h0M638.2 242.9h0M622.7 248.5h0M629.7 252.7h0M621.4 241.6h0M626.3 240.8h0M620.2 241.1h0M632.2 237.5h0M631.4 250.4h0M625.3 249.2h0M626.9 242.9h0M625.5 240.2h0M620.9 244.1h0M623.4 242.3h0M621.9 244.8h0M626.1 238.3h0M629.7 242.8h0M625.3 243.9h0M629.4 242.2h0M620.6 242.2h0M634.6 245.4h0M625.4 244.1h0M619.3 242.0h0M623.7 233.8h0M627.0 238.6h0M620.3 240.1h0M632.1 239.6h0M625.9 242.6h0M637.2 243.7h0M636.3 241.1h0M632.3 239.9h0M630.2 243.6h0M629.7 238.1h0M625.5 239.7h0M635.0 239.0h0M617.4 251.2h0M617.3 243.2h0M624.9 247.7h0M630.7 227.6h0M621.1 221.7h0M630.0 235.0h0M623.3 227.0h0M627.0 230.5h0M613.6 233.2h0M624.1 226.8h0M629.7 227.5h0M630.0 230.3h0M621.8 227.3h0M619.7 235.0h0M627.7 232.1h0M633.1 218.7h0M629.0 229.9h0M620.5 206.6h0M629.4 215.1h0M621.3 225.6h0M638.2 213.2h0M616.9 209.1h0M636.5 196.8h0M625.3 193.0h0M653.4 339.4h0M643.2 329.0h0M647.6 330.3h0M645.1 338.2h0M644.8 339.2h0M640.5 326.0h0M643.0 337.2h0M638.5 330.0h0M653.1 327.8h0M640.3 334.1h0M635.7 333.3h0M647.1 327.7h0M640.1 336.5h0M646.5 325.7h0M632.4 328.1h0M640.3 323.2h0M639.2 325.2h0M634.6 328.1h0M634.4 326.7h0M634.2 322.9h0M639.4 318.1h0M656.8 311.1h0M650.5 320.8h0M651.6 324.1h0M642.5 313.7h0M641.4 319.3h0M642.8 327.5h0M641.8 322.1h0M646.7 324.4h0M643.6 326.7h0M646.9 318.4h0M633.7 314.6h0M652.8 320.6h0M641.6 319.6h0M640.3 324.9h0M638.3 322.1h0M647.4 327.5h0M638.6 323.1h0M654.9 323.1h0M643.9 311.3h0M652.2 314.2h0M656.8 314.6h0M647.0 323.4h0M646.6 314.8h0M639.8 324.5h0M644.9 312.9h0M647.0 325.7h0M652.7 325.8h0M641.5 321.3h0M639.6 324.6h0M651.0 320.1h0M646.4 314.4h0M631.0 321.6h0M636.4 306.3h0M637.8 307.3h0M641.5 316.7h0M634.8 304.6h0M638.4 299.4h0M650.2 308.4h0M646.9 304.1h0M645.9 301.7h0M650.7 306.8h0M653.3 306.8h0M647.4 311.4h0M649.1 308.8h0M649.1 306.7h0M648.8 308.6h0M654.1 306.2h0M641.1 313.4h0M642.3 304.2h0M641.3 310.1h0M645.1 299.3h0M641.4 308.8h0M641.2 315.1h0M650.6 308.1h0M651.4 302.5h0M640.6 306.2h0M634.1 315.7h0M638.4 303.8h0M631.9 304.2h0M638.5 309.2h0M646.1 300.6h0M647.6 307.3h0M642.2 316.3h0M641.4 316.1h0M636.3 307.3h0M657.2 310.7h0M647.1 308.7h0M638.1 304.8h0M650.9 304.2h0M641.7 306.8h0M640.5 309.9h0M647.6 301.1h0M646.0 308.5h0M640.0 305.5h0M643.3 299.4h0M656.2 311.5h0M641.7 304.2h0M648.1 308.6h0M648.0 308.2h0M650.1 308.4h0M636.5 303.3h0M643.4 309.6h0M636.2 307.7h0M642.4 314.9h0M636.4 300.5h0M647.2 310.7h0M632.0 301.9h0M652.8 305.1h0M652.8 303.9h0M639.8 311.1h0M653.7 307.8h0M636.4 306.6h0M643.7 309.0h0M644.1 307.1h0M644.3 297.4h0M651.4 304.2h0M634.2 311.9h0M648.5 309.9h0M632.9 301.2h0M655.3 303.7h0M650.9 304.5h0M629.9 309.2h0M638.4 302.5h0M649.5 299.4h0M641.6 314.0h0M641.0 306.2h0M642.3 311.6h0M647.5 304.1h0M642.2 310.5h0M647.8 307.6h0M635.4 300.4h0M641.9 313.0h0M642.8 297.8h0M646.9 303.9h0M632.1 296.8h0M648.4 292.1h0M643.3 298.6h0M646.4 292.0h0M650.4 301.4h0M634.1 288.4h0M653.8 291.7h0M635.6 292.7h0M638.0 297.1h0M648.7 298.7h0M648.0 303.6h0M640.0 293.2h0M641.2 293.5h0M630.5 298.6h0M644.5 299.8h0M641.0 291.1h0M642.2 300.8h0M651.8 296.2h0M649.5 292.7h0M639.3 294.7h0M639.3 292.7h0M643.8 300.4h0M653.0 295.2h0M641.0 290.7h0M632.0 290.0h0M636.0 289.5h0M645.3 300.7h0M648.4 300.7h0M638.7 295.8h0M641.8 295.7h0M638.5 298.6h0M644.9 288.6h0M648.3 297.6h0M637.2 302.8h0M642.8 295.6h0M642.9 295.3h0M650.7 300.5h0M643.0 299.3h0M633.3 298.1h0M641.7 294.7h0M639.3 294.0h0M647.3 289.5h0M648.7 285.5h0M644.5 289.9h0M638.5 287.1h0M631.3 293.0h0M633.1 293.3h0M632.2 298.2h0M642.8 293.1h0M640.9 290.3h0M647.4 302.6h0M638.2 294.9h0M647.8 301.4h0M652.0 299.5h0M642.0 283.9h0M637.8 294.3h0M646.3 301.3h0M650.1 289.3h0M637.3 298.6h0M649.0 289.5h0M642.8 293.8h0M632.7 300.0h0M646.7 291.0h0M645.0 293.3h0M640.8 289.0h0M647.5 294.4h0M641.5 286.4h0M635.1 285.6h0M643.5 298.5h0M639.8 298.1h0M645.5 295.6h0M650.5 289.8h0M632.1 290.3h0M646.5 294.9h0M640.8 289.1h0M653.7 293.2h0M638.4 291.8h0M655.7 290.8h0M642.0 299.0h0M633.7 294.4h0M648.1 301.6h0M638.7 303.5h0M646.8 296.2h0M646.1 297.9h0M644.3 288.4h0M642.2 291.1h0M649.9 292.9h0M646.5 303.1h0M655.4 293.8h0M637.4 287.4h0M648.3 290.1h0M634.5 300.7h0M643.5 298.4h0M644.0 300.0h0M644.7 295.0h0M649.4 292.7h0M657.6 291.5h0M644.1 290.0h0M645.1 300.1h0M650.1 285.9h0M648.7 286.2h0M644.3 297.0h0M635.6 299.0h0M651.0 284.3h0M631.6 293.9h0M646.4 296.0h0M645.1 297.8h0M637.2 291.5h0M648.5 289.4h0M641.2 299.5h0M644.4 292.5h0M633.2 296.1h0M638.4 286.9h0M648.3 293.7h0M639.9 300.4h0M648.3 294.8h0M644.8 298.1h0M645.5 299.0h0M639.6 295.2h0M657.3 294.9h0M653.1 298.0h0M655.2 301.8h0M648.6 290.6h0M643.1 292.6h0M656.0 296.5h0M641.0 294.8h0M646.1 298.5h0M642.7 289.9h0M653.1 293.0h0M646.7 297.9h0M644.7 293.4h0M647.5 293.9h0M639.0 294.2h0M642.8 292.7h0M656.5 293.7h0M639.6 293.6h0M649.8 289.8h0M646.1 297.0h0M641.7 296.6h0M633.9 299.2h0M644.0 292.5h0M650.3 294.0h0M652.4 296.0h0M638.2 289.7h0M634.0 297.5h0M645.8 295.4h0M632.0 295.7h0M641.8 293.7h0M636.3 292.9h0M651.1 287.2h0M636.5 301.1h0M638.1 292.5h0M648.0 290.3h0M639.5 293.5h0M647.5 286.6h0M656.4 298.4h0M631.2 290.8h0M651.5 299.8h0M642.2 287.3h0M643.7 290.0h0M633.9 289.8h0M639.9 299.6h0M635.4 299.3h0M643.9 295.4h0M642.6 297.2h0M650.0 294.4h0M652.0 291.7h0M643.0 295.2h0M634.6 292.7h0M650.2 298.9h0M649.5 280.8h0M645.8 289.8h0M646.4 276.9h0M641.5 275.4h0M651.4 284.5h0M654.4 286.8h0M639.9 288.3h0M645.1 282.8h0M637.1 286.2h0M640.0 278.3h0M643.4 284.6h0M635.5 281.2h0M640.2 284.8h0M650.8 272.8h0M646.2 282.8h0M637.9 278.2h0M634.1 280.9h0M639.7 279.9h0M645.6 274.7h0M650.4 277.3h0M647.6 281.5h0M646.4 279.9h0M652.7 284.2h0M649.9 284.7h0M648.1 287.2h0M645.6 274.3h0M641.5 281.6h0M641.3 274.8h0M639.4 288.0h0M644.8 275.5h0M630.5 279.4h0M647.0 276.7h0M649.4 286.7h0M644.8 280.0h0M636.8 272.1h0M650.8 279.4h0M652.8 287.3h0M631.3 281.7h0M642.3 275.9h0M653.0 278.7h0M656.1 279.4h0M649.0 272.3h0M636.6 280.4h0M638.4 283.9h0M641.7 280.9h0M634.3 277.6h0M646.7 284.5h0M641.5 287.3h0M651.0 283.1h0M648.2 282.2h0M639.2 289.8h0M655.7 274.4h0M635.3 276.1h0M637.2 276.3h0M643.1 281.2h0M653.5 274.6h0M648.9 277.4h0M635.6 279.7h0M636.5 278.4h0M637.8 273.8h0M646.0 282.6h0M647.9 280.0h0M635.8 282.8h0M654.6 287.8h0M635.0 289.0h0M642.6 279.7h0M650.2 276.1h0M655.8 283.2h0M637.1 282.9h0M645.0 282.7h0M637.0 286.9h0M644.1 274.3h0M644.3 271.6h0M641.6 278.2h0M649.7 285.4h0M646.3 281.5h0M644.1 288.0h0M641.2 284.9h0M640.5 280.7h0M638.2 285.4h0M641.5 278.2h0M637.6 285.7h0M639.4 278.8h0M657.2 275.0h0M640.0 282.7h0M645.8 282.4h0M635.3 273.5h0M642.4 283.1h0M637.1 280.7h0M651.3 275.6h0M636.0 289.3h0M643.0 288.6h0M652.2 283.4h0M649.5 285.8h0M639.4 290.3h0M651.8 277.0h0M649.1 286.3h0M646.0 273.0h0M637.1 286.4h0M640.8 285.0h0M653.3 287.4h0M641.8 285.2h0M639.4 280.2h0M644.1 272.5h0M643.5 277.7h0M646.5 274.6h0M649.9 275.7h0M648.9 281.8h0M638.2 283.1h0M639.9 283.0h0M650.6 287.0h0M646.9 281.3h0M640.8 275.2h0M641.5 290.5h0M638.2 283.3h0M638.3 281.6h0M638.0 283.5h0M645.0 277.1h0M648.3 284.6h0M645.9 274.4h0M630.1 281.8h0M630.6 281.5h0M646.9 284.6h0M652.0 281.5h0M637.3 283.8h0M641.2 273.6h0M644.2 279.2h0M648.4 278.7h0M636.2 277.9h0M657.5 281.9h0M643.2 283.6h0M643.9 282.2h0M641.1 282.2h0M633.4 271.1h0M656.2 279.7h0M641.9 287.7h0M649.0 273.9h0M640.1 282.2h0M639.5 287.3h0M639.4 280.8h0M636.7 273.0h0M634.3 275.1h0M634.7 277.0h0M650.3 274.2h0M635.6 286.7h0M646.5 284.2h0M646.9 277.5h0M641.0 287.8h0M636.7 284.2h0M654.0 287.6h0M646.3 286.5h0M654.1 275.5h0M630.7 277.6h0M643.2 287.4h0M649.8 281.6h0M647.8 288.8h0M646.6 281.8h0M641.1 283.4h0M639.8 280.6h0M634.7 289.1h0M640.7 270.5h0M642.2 274.7h0M649.1 282.4h0M640.2 272.9h0M639.7 287.0h0M638.2 282.6h0M647.6 272.5h0M640.7 275.8h0M651.5 279.0h0M646.6 285.2h0M640.5 286.8h0M647.0 284.7h0M643.8 284.8h0M644.5 282.6h0M641.7 279.0h0M650.1 285.7h0M638.8 280.1h0M647.8 276.9h0M648.9 279.3h0M645.5 283.4h0M635.5 278.3h0M634.5 280.4h0M631.3 291.6h0M647.5 273.4h0M647.5 276.7h0M644.0 277.0h0M639.9 275.4h0M649.1 278.5h0M643.1 280.8h0M647.4 273.5h0M652.1 281.4h0M640.0 272.7h0M645.7 273.7h0M643.7 283.6h0M649.7 276.5h0M644.2 272.3h0M646.4 281.7h0M653.2 279.8h0M636.7 283.7h0M643.4 279.5h0M645.5 278.3h0M649.3 280.3h0M646.6 270.5h0M632.8 278.8h0M653.1 278.4h0M641.5 288.6h0M639.3 271.7h0M651.4 286.1h0M644.8 287.7h0M654.4 275.1h0M649.7 271.6h0M636.8 275.9h0M641.5 267.7h0M648.6 272.3h0M652.8 270.0h0M649.0 259.3h0M635.0 271.8h0M648.4 271.0h0M648.4 276.4h0M651.3 267.8h0M652.0 275.8h0M634.2 272.7h0M633.7 271.6h0M648.3 267.9h0M644.5 268.9h0M635.9 262.4h0M652.0 265.8h0M653.4 276.6h0M637.5 271.3h0M654.0 276.9h0M645.7 275.7h0M648.2 277.9h0M640.1 268.1h0M641.3 264.9h0M633.2 265.7h0M648.0 273.9h0M640.4 273.6h0M637.9 263.7h0M640.6 273.7h0M642.8 265.1h0M635.2 270.5h0M636.8 262.2h0M636.6 263.6h0M638.1 272.6h0M638.7 266.7h0M642.1 261.0h0M634.9 273.0h0M640.4 264.7h0M654.3 273.4h0M637.7 265.1h0M651.2 276.9h0M651.0 266.8h0M643.9 271.7h0M636.3 272.1h0M632.6 263.2h0M646.7 272.6h0M640.3 269.6h0M644.2 272.2h0M641.9 267.3h0M633.4 276.4h0M631.5 265.8h0M647.5 270.3h0M638.0 263.9h0M644.8 272.5h0M642.0 260.6h0M652.6 268.6h0M637.7 265.5h0M636.2 268.5h0M635.4 273.7h0M652.3 260.6h0M643.3 267.3h0M656.9 264.0h0M630.6 268.6h0M644.0 265.1h0M639.9 262.5h0M652.7 271.9h0M656.1 264.2h0M638.0 257.6h0M644.5 269.2h0M631.3 277.8h0M643.5 272.1h0M644.8 259.8h0M633.5 262.5h0M640.8 262.9h0M647.1 261.6h0M646.5 259.4h0M657.2 266.3h0M657.2 269.3h0M653.5 263.1h0M657.3 273.6h0M649.4 265.8h0M645.0 266.5h0M640.8 260.9h0M637.2 269.5h0M644.3 274.1h0M655.1 278.8h0M639.6 267.4h0M642.7 274.8h0M644.7 271.8h0M647.5 274.0h0M643.1 267.4h0M646.0 266.7h0M640.8 263.9h0M634.5 268.7h0M640.6 270.0h0M652.6 273.0h0M651.8 275.2h0M633.1 271.6h0M639.1 261.2h0M636.1 274.5h0M643.7 266.4h0M651.4 261.4h0M644.5 265.5h0M649.7 270.3h0M639.3 268.9h0M639.1 267.0h0M635.7 276.0h0M650.9 268.9h0M653.1 268.3h0M636.6 273.2h0M650.6 269.7h0M640.1 274.5h0M634.2 258.3h0M656.1 266.2h0M635.4 258.7h0M646.8 268.6h0M643.3 267.4h0M640.4 268.7h0M648.7 267.5h0M632.4 268.5h0M641.2 269.2h0M641.8 268.6h0M633.4 262.5h0M640.1 265.8h0M636.2 266.4h0M641.5 275.1h0M641.0 260.3h0M636.9 273.4h0M645.3 260.1h0M638.0 270.1h0M642.5 265.5h0M637.5 274.5h0M637.0 266.1h0M635.6 269.2h0M636.1 268.7h0M640.0 271.6h0M635.5 270.2h0M651.7 267.9h0M642.0 272.8h0M647.6 276.3h0M637.4 269.7h0M643.4 269.9h0M643.7 269.4h0M636.4 268.9h0M639.7 266.9h0M652.6 271.1h0M648.4 264.3h0M646.7 276.5h0M652.7 263.4h0M646.1 266.3h0M649.2 270.1h0M647.9 267.3h0M640.8 267.5h0M640.5 272.9h0M648.6 269.3h0M643.4 264.5h0M650.2 279.2h0M633.4 265.9h0M637.2 268.4h0M640.3 270.6h0M634.1 267.5h0M640.7 269.6h0M640.0 272.3h0M645.3 267.0h0M649.7 258.3h0M639.9 268.7h0M646.9 278.2h0M651.2 265.7h0M645.1 261.7h0M645.5 266.9h0M636.3 269.7h0M645.1 272.1h0M651.2 267.3h0M643.2 271.4h0M635.3 270.8h0M639.9 266.1h0M636.6 262.5h0M647.7 263.5h0M640.3 267.2h0M638.6 267.8h0M651.6 267.9h0M646.4 264.7h0M640.9 279.1h0M644.7 261.4h0M648.1 271.2h0M641.4 264.1h0M647.8 259.8h0M641.7 269.6h0M646.6 270.4h0M641.0 261.4h0M636.2 264.5h0M647.9 272.7h0M648.0 264.8h0M644.5 260.6h0M641.1 272.8h0M636.0 268.6h0M651.8 264.1h0M633.9 262.4h0M634.4 272.2h0M649.6 268.1h0M646.6 263.7h0M646.4 262.3h0M644.5 269.6h0M636.9 270.6h0M646.6 261.5h0M640.1 266.7h0M638.2 267.1h0M650.7 275.6h0M643.4 273.6h0M646.4 270.9h0M644.9 264.8h0M648.8 268.4h0M640.4 269.9h0M638.4 264.6h0M647.9 272.0h0M645.5 278.8h0M632.9 274.9h0M649.8 267.7h0M650.7 267.4h0M641.6 261.5h0M644.4 273.6h0M651.4 261.9h0M631.8 273.0h0M646.2 273.7h0M649.5 266.0h0M651.1 270.9h0M644.9 268.8h0M651.9 260.3h0M636.8 265.4h0M649.9 271.6h0M644.1 270.7h0M631.2 274.2h0M639.6 269.0h0M641.1 261.3h0M646.0 268.3h0M641.8 275.7h0M644.9 265.4h0M641.3 266.7h0M635.8 262.7h0M641.9 268.5h0M647.4 248.3h0M653.4 257.2h0M650.6 253.2h0M646.7 249.8h0M646.2 259.5h0M652.1 253.1h0M641.4 258.4h0M644.8 250.6h0M637.9 252.5h0M635.5 255.3h0M634.1 250.6h0M638.4 252.0h0M643.6 259.2h0M647.6 247.7h0M644.4 252.0h0M641.1 253.2h0M651.9 262.4h0M650.6 254.0h0M639.2 259.9h0M635.7 260.4h0M650.4 253.3h0M635.6 250.8h0M637.7 259.7h0M654.3 259.8h0M643.3 253.0h0M637.7 253.4h0M641.8 254.9h0M639.9 253.8h0M653.9 253.4h0M653.1 254.0h0M653.0 253.8h0M645.1 246.7h0M653.1 253.9h0M633.8 262.4h0M656.8 252.6h0M644.7 251.1h0M647.5 254.8h0M635.7 245.9h0M648.3 258.8h0M648.4 248.6h0M650.5 265.3h0M637.7 255.9h0M643.3 252.3h0M639.9 252.6h0M639.8 263.6h0M631.9 255.4h0M644.2 260.8h0M650.0 253.2h0M652.0 259.0h0M645.2 249.5h0M634.4 254.4h0M642.9 250.5h0M648.7 259.3h0M637.0 258.0h0M642.2 248.5h0M644.5 253.0h0M639.8 250.1h0M639.2 257.7h0M651.0 254.5h0M647.7 253.6h0M648.4 255.6h0M634.8 251.9h0M650.2 256.5h0M632.9 257.1h0M639.9 258.7h0M639.8 254.0h0M635.6 253.3h0M648.5 263.7h0M646.7 257.0h0M650.0 263.1h0M644.0 261.5h0M643.6 244.7h0M636.6 258.3h0M648.9 259.7h0M655.7 245.9h0M641.0 249.2h0M651.5 260.8h0M644.6 253.0h0M654.0 251.9h0M641.5 256.1h0M635.8 255.7h0M645.5 263.8h0M656.7 254.4h0M641.7 258.4h0M640.7 251.4h0M641.3 249.0h0M656.2 254.6h0M641.3 261.0h0M652.5 264.5h0M653.8 254.8h0M644.7 262.6h0M645.3 257.7h0M645.9 254.2h0M630.9 249.4h0M640.7 248.4h0M639.7 257.0h0M650.6 255.6h0M642.6 258.0h0M644.6 256.1h0M652.7 256.3h0M655.2 260.6h0M640.6 257.2h0M649.4 252.0h0M645.9 259.7h0M640.8 257.3h0M647.5 258.1h0M641.4 252.8h0M637.1 254.2h0M654.7 256.1h0M653.0 254.2h0M645.5 256.3h0M635.6 260.5h0M655.3 257.9h0M641.7 254.0h0M645.5 261.0h0M640.8 257.3h0M648.4 261.5h0M651.3 247.8h0M643.6 252.0h0M648.7 251.9h0M647.4 252.4h0M652.8 254.3h0M643.8 252.7h0M642.4 254.6h0M647.1 250.1h0M638.5 248.2h0M639.7 250.9h0M653.4 254.0h0M652.1 257.4h0M650.0 258.8h0M652.4 255.8h0M641.0 252.9h0M652.6 256.6h0M655.4 249.4h0M642.6 256.6h0M640.5 252.9h0M647.7 254.4h0M641.8 254.0h0M630.8 261.5h0M632.4 263.9h0M647.1 259.0h0M643.4 258.9h0M645.4 257.4h0M638.7 255.5h0M643.5 255.3h0M644.6 254.8h0M643.0 256.7h0M644.5 264.3h0M642.2 258.2h0M652.8 263.1h0M653.4 256.8h0M643.1 259.7h0M644.4 256.5h0M648.3 254.6h0M638.2 253.9h0M648.4 250.6h0M639.1 252.0h0M644.5 253.8h0M637.4 264.6h0M642.7 248.5h0M645.9 259.4h0M653.5 257.6h0M644.3 257.2h0M643.7 251.4h0M656.5 253.8h0M632.9 257.6h0M635.3 252.9h0M649.1 254.5h0M650.9 261.4h0M649.5 259.1h0M653.8 261.5h0M631.6 256.6h0M639.0 255.6h0M644.8 257.2h0M630.8 258.3h0M645.3 247.8h0M646.4 257.1h0M657.6 257.8h0M636.1 255.2h0M646.5 258.6h0M648.2 253.2h0M644.7 261.7h0M641.5 253.8h0M647.8 250.2h0M644.7 250.5h0M647.3 246.1h0M644.8 246.4h0M654.5 243.1h0M633.4 245.5h0M634.5 232.4h0M637.5 245.1h0M641.3 247.2h0M643.4 240.6h0M641.1 236.4h0M652.3 240.9h0M642.4 239.7h0M653.2 243.2h0M639.8 238.1h0M637.0 243.6h0M638.7 246.4h0M650.1 247.4h0M646.7 237.0h0M653.9 247.3h0M634.2 244.2h0M655.2 235.1h0M646.9 242.7h0M637.3 239.7h0M658.5 238.2h0M641.4 249.5h0M641.7 238.7h0M642.3 252.5h0M644.0 242.1h0M653.4 240.2h0M634.8 232.9h0M642.4 242.6h0M637.7 248.8h0M644.8 248.7h0M639.5 239.8h0M647.6 247.8h0M645.6 234.7h0M639.1 245.1h0M651.3 243.2h0M633.9 241.1h0M642.4 242.4h0M646.5 248.6h0M643.4 248.0h0M652.2 240.2h0M647.9 242.0h0M645.1 236.4h0M641.2 248.4h0M639.6 235.9h0M648.8 232.3h0M638.3 237.0h0M643.2 239.7h0M652.9 238.4h0M646.0 239.5h0M636.1 241.7h0M644.5 239.7h0M651.8 239.7h0M647.2 245.4h0M655.8 241.6h0M656.4 249.9h0M631.3 236.9h0M646.2 245.3h0M642.9 236.0h0M642.5 234.6h0M638.1 240.2h0M642.4 236.4h0M640.1 246.8h0M640.0 245.8h0M642.6 238.8h0M645.5 248.0h0M641.1 236.3h0M647.5 248.9h0M635.6 238.6h0M648.1 244.6h0M646.8 235.4h0M636.8 248.6h0M642.4 246.2h0M652.0 248.6h0M646.5 242.5h0M647.5 237.8h0M646.7 244.5h0M629.4 245.0h0M639.5 243.8h0M648.2 244.7h0M640.3 240.9h0M642.2 239.6h0M651.3 239.2h0M653.6 236.5h0M645.9 240.4h0M650.1 250.5h0M641.8 242.2h0M640.6 248.3h0M650.7 244.2h0M651.1 245.2h0M643.0 235.1h0M646.0 247.4h0M651.6 238.6h0M641.8 249.3h0M651.1 241.4h0M654.1 244.6h0M633.1 243.2h0M638.2 242.7h0M643.5 234.3h0M650.2 236.7h0M654.5 249.6h0M637.1 250.5h0M632.5 241.6h0M645.5 238.7h0M635.2 243.7h0M648.9 236.9h0M645.9 241.3h0M651.3 242.2h0M657.1 248.2h0M652.1 227.1h0M644.4 229.5h0M637.9 229.3h0M642.7 225.3h0M644.3 230.2h0M644.2 229.5h0M645.8 227.5h0M646.8 229.5h0M640.8 234.9h0M641.8 222.3h0M652.6 239.2h0M653.6 223.0h0M652.2 225.7h0M638.9 229.8h0M637.0 232.3h0M644.2 230.1h0M640.5 226.5h0M642.8 224.9h0M648.2 226.1h0M635.9 229.4h0M638.3 228.4h0M646.4 228.8h0M642.3 219.4h0M640.5 228.7h0M637.6 226.5h0M634.1 231.2h0M634.1 231.4h0M646.2 223.5h0M638.1 221.0h0M644.2 223.8h0M636.9 228.0h0M649.3 230.6h0M631.9 232.8h0M642.3 225.0h0M641.4 233.7h0M644.0 211.4h0M650.0 219.1h0M646.1 210.6h0M646.0 206.4h0M640.1 225.5h0M635.3 207.8h0M640.6 226.4h0M639.8 220.6h0M646.7 192.8h0M645.9 201.3h0M637.9 197.6h0M655.0 335.0h0M656.1 333.7h0M656.5 331.2h0M665.8 332.1h0M667.8 339.2h0M651.2 335.3h0M663.3 329.7h0M656.3 332.2h0M669.3 337.6h0M659.1 328.8h0M661.3 324.8h0M661.8 326.4h0M661.1 326.1h0M667.3 322.7h0M654.6 321.3h0M654.3 330.5h0M669.4 315.8h0M669.6 326.4h0M673.2 315.0h0M667.5 316.1h0M657.0 318.5h0M652.2 313.8h0M671.2 323.2h0M659.8 317.9h0M668.1 297.1h0M660.5 305.2h0M672.0 305.8h0M656.4 306.8h0M653.5 300.8h0M658.8 312.1h0M661.1 298.9h0M667.4 312.9h0M673.5 303.4h0M660.8 306.9h0M658.4 308.0h0M667.7 306.2h0M658.4 309.9h0M654.2 314.5h0M659.3 307.6h0M662.2 310.0h0M647.2 303.5h0M654.0 313.5h0M661.1 306.3h0M649.1 306.1h0M663.4 305.7h0M660.0 304.5h0M661.6 299.7h0M662.1 312.1h0M665.0 303.7h0M668.3 313.9h0M654.8 309.4h0M663.3 307.2h0M661.3 306.8h0M661.8 309.8h0M668.5 311.3h0M675.1 305.6h0M662.7 315.9h0M662.0 302.4h0M651.6 305.6h0M660.6 301.9h0M658.2 312.3h0M656.9 305.5h0M672.0 303.2h0M663.9 286.3h0M660.1 289.9h0M671.5 300.7h0M670.7 292.9h0M671.2 300.1h0M659.1 289.7h0M665.7 292.9h0M665.9 294.6h0M659.6 284.2h0M661.0 295.2h0M661.4 304.7h0M662.3 294.7h0M657.0 294.0h0M660.4 304.3h0M656.7 286.2h0M665.2 297.8h0M650.6 289.7h0M656.5 298.9h0M669.3 297.7h0M659.8 298.0h0M658.9 295.8h0M666.1 298.1h0M651.8 292.4h0M655.9 292.2h0M670.7 297.0h0M661.0 291.3h0M654.3 294.4h0M650.9 288.1h0M672.3 294.9h0M666.9 297.0h0M664.2 304.5h0M656.3 304.1h0M656.7 287.9h0M650.3 299.8h0M654.4 300.2h0M656.1 294.8h0M671.1 285.5h0M666.5 302.8h0M661.8 302.4h0M669.6 289.0h0M654.1 295.4h0M672.2 289.1h0M659.9 292.9h0M663.1 302.6h0M663.4 302.9h0M666.2 291.9h0M664.7 290.3h0M649.2 300.3h0M648.9 292.9h0M659.3 291.6h0M669.6 290.1h0M672.2 294.5h0M665.5 291.3h0M652.2 291.3h0M661.5 293.0h0M649.4 303.1h0M670.9 285.5h0M654.0 287.0h0M654.0 292.1h0M657.6 300.5h0M665.1 298.2h0M654.8 292.0h0M667.4 293.8h0M656.8 296.3h0M662.0 285.7h0M660.7 295.4h0M660.2 295.7h0M659.9 293.4h0M666.5 301.5h0M660.5 298.7h0M667.1 303.5h0M655.2 297.9h0M657.4 295.6h0M657.6 293.2h0M658.6 292.2h0M659.0 286.8h0M661.5 287.0h0M663.5 292.1h0M656.4 291.8h0M657.7 292.7h0M670.7 294.0h0M669.5 304.3h0M661.9 299.4h0M662.7 288.8h0M674.0 294.2h0M653.4 303.5h0M658.6 299.2h0M657.8 290.4h0M673.1 302.0h0M659.9 298.9h0M665.2 298.2h0M656.3 294.5h0M657.7 296.3h0M666.4 298.9h0M659.9 283.9h0M660.4 286.3h0M653.6 274.0h0M675.2 277.6h0M672.8 279.0h0M651.4 280.4h0M655.3 292.1h0M656.4 279.9h0M665.1 282.1h0M657.6 279.8h0M658.3 286.7h0M670.4 274.8h0M660.5 278.9h0M671.2 271.5h0M665.2 281.2h0M664.8 281.3h0M655.8 277.0h0M667.4 284.1h0M668.6 291.3h0M662.2 282.8h0M655.0 279.6h0M663.8 279.3h0M661.4 281.0h0M667.1 272.6h0M661.8 284.7h0M653.4 286.5h0M669.8 277.2h0M669.6 287.5h0M654.7 282.3h0M669.1 277.6h0M658.9 282.6h0M664.0 286.6h0M670.3 278.8h0M666.2 283.8h0M650.2 277.6h0M670.5 277.8h0M659.7 281.3h0M658.0 290.9h0M660.7 284.1h0M669.3 290.0h0M651.9 282.2h0M654.6 275.8h0M669.3 279.3h0M672.3 285.9h0M652.7 272.9h0M662.5 286.9h0M660.4 285.2h0M651.1 278.8h0M659.5 278.3h0M659.6 289.1h0M663.6 276.2h0M654.7 270.8h0M654.7 278.7h0M651.3 273.2h0M658.7 277.5h0M647.5 276.9h0M659.4 275.3h0M652.7 280.4h0M650.8 278.0h0M660.6 282.1h0M663.0 285.6h0M671.3 285.5h0M669.1 285.6h0M656.6 282.8h0M667.3 286.6h0M662.7 283.8h0M659.4 283.6h0M668.5 271.2h0M661.9 274.7h0M669.1 274.3h0M667.7 273.1h0M673.8 277.9h0M673.0 287.3h0M670.3 282.8h0M672.9 274.8h0M652.4 287.3h0M663.8 281.6h0M653.5 274.8h0M655.0 291.6h0M650.6 273.9h0M671.2 285.1h0M656.7 270.5h0M664.0 279.0h0M648.1 277.2h0M660.4 287.5h0M672.2 276.2h0M664.4 282.1h0M660.9 288.0h0M659.0 284.6h0M662.9 277.6h0M661.6 271.2h0M668.6 282.9h0M668.1 278.2h0M665.2 281.9h0M662.9 279.8h0M664.2 276.6h0M668.1 281.4h0M661.3 285.0h0M656.3 279.4h0M660.2 282.3h0M669.2 285.4h0M654.8 290.8h0M671.5 278.4h0M671.0 272.7h0M665.5 284.7h0M662.2 280.9h0M664.8 288.3h0M660.3 274.2h0M661.5 273.9h0M657.5 286.6h0M662.5 284.9h0M651.1 281.2h0M663.5 286.5h0M657.5 273.8h0M657.6 290.4h0M652.9 273.3h0M664.0 290.6h0M675.5 281.9h0M653.2 275.7h0M662.5 282.0h0M674.6 278.9h0M672.9 278.2h0M655.3 275.1h0M654.9 287.5h0M667.7 285.1h0M667.3 281.8h0M669.7 280.7h0M668.0 278.5h0M658.1 273.1h0M660.4 274.9h0M666.7 278.4h0M661.3 273.0h0M667.8 287.2h0M665.6 275.1h0M659.8 279.4h0M671.2 280.1h0M668.8 280.0h0M665.5 286.4h0M663.6 275.6h0M665.3 280.5h0M656.6 285.2h0M651.2 273.7h0M659.1 283.5h0M660.7 280.3h0M660.0 287.0h0M664.3 289.2h0M655.3 284.5h0M650.8 282.4h0M668.8 284.3h0M668.2 287.7h0M658.2 288.3h0M658.2 283.0h0M647.6 274.6h0M666.3 274.6h0M658.9 285.9h0M657.4 283.5h0M661.0 286.3h0M668.1 280.0h0M665.3 281.3h0M662.7 276.4h0M655.1 288.3h0M665.7 277.6h0M660.8 274.2h0M649.7 282.0h0M656.1 284.8h0M650.3 277.3h0M655.8 282.9h0M676.2 275.2h0M670.7 275.1h0M667.6 282.8h0M662.6 286.7h0M670.1 281.3h0M665.0 279.9h0M648.6 275.4h0M663.5 279.9h0M668.5 284.3h0M652.3 284.7h0M665.8 283.2h0M663.0 281.3h0M662.7 275.5h0M647.7 282.1h0M659.6 281.0h0M664.8 276.2h0M665.2 272.2h0M663.9 281.4h0M661.9 286.2h0M652.2 290.0h0M665.8 281.3h0M670.1 274.6h0M655.2 278.7h0M669.1 276.9h0M659.9 275.3h0M659.8 279.3h0M657.1 292.0h0M656.1 281.0h0M666.0 262.5h0M659.8 269.2h0M666.8 264.1h0M650.7 268.5h0M669.2 258.4h0M658.8 271.4h0M671.7 270.2h0M654.7 267.3h0M655.6 260.2h0M661.4 269.5h0M666.7 268.8h0M670.0 265.1h0M668.3 274.0h0M662.7 271.4h0M665.8 260.3h0M659.8 274.1h0M660.6 270.2h0M658.3 264.4h0M667.8 264.1h0M663.0 262.5h0M665.1 267.7h0M670.3 263.2h0M665.0 271.3h0M656.7 275.3h0M661.7 266.6h0M654.6 267.2h0M669.9 265.1h0M657.3 267.4h0M667.6 274.0h0M662.4 265.3h0M656.1 260.9h0M650.2 274.6h0M650.7 262.3h0M656.5 272.1h0M657.5 265.6h0M672.7 263.0h0M665.6 264.7h0M656.3 275.6h0M657.1 267.1h0M666.8 261.9h0M663.9 261.0h0M672.6 259.3h0M659.5 268.5h0M673.0 270.8h0M666.3 279.0h0M664.8 268.5h0M663.4 268.4h0M660.5 266.4h0M658.3 266.9h0M659.3 264.2h0M661.1 270.0h0M665.8 276.6h0M667.9 264.5h0M656.6 262.3h0M657.8 270.0h0M667.0 273.2h0M653.3 259.9h0M659.1 267.6h0M659.1 264.4h0M669.4 265.8h0M665.8 269.4h0M654.9 267.2h0M658.1 264.3h0M668.8 276.5h0M666.6 266.9h0M658.0 273.6h0M665.7 265.9h0M664.3 272.9h0M660.5 271.5h0M665.8 271.6h0M670.4 261.3h0M666.8 268.2h0M656.1 270.4h0M664.3 268.6h0M652.6 268.7h0M667.5 263.2h0M673.2 263.8h0M665.1 275.2h0M663.8 269.2h0M662.2 260.8h0M657.9 265.1h0M663.1 264.0h0M654.2 268.6h0M652.5 268.4h0M674.3 271.1h0M651.9 262.7h0M672.2 271.7h0M658.3 266.0h0M653.5 276.0h0M652.4 263.9h0M665.1 258.9h0M655.5 266.1h0M666.7 268.5h0M668.4 268.3h0M653.8 259.6h0M658.7 272.6h0M659.2 268.8h0M660.6 269.4h0M661.8 258.4h0M664.0 261.4h0M664.8 258.2h0M660.5 270.9h0M655.5 268.0h0M653.4 267.3h0M660.2 272.4h0M665.7 264.8h0M661.7 275.4h0M660.7 268.8h0M663.2 273.9h0M669.0 267.2h0M666.8 270.6h0M664.1 266.9h0M669.7 267.2h0M653.4 262.6h0M661.1 268.6h0M666.5 264.5h0M651.9 274.4h0M652.5 266.9h0M662.7 267.4h0M667.2 263.1h0M654.8 260.2h0M654.6 271.8h0M661.0 277.0h0M661.2 258.0h0M653.5 261.3h0M666.7 264.8h0M648.2 271.7h0M661.6 268.3h0M661.5 276.6h0M654.5 270.2h0M661.0 269.3h0M667.5 266.3h0M661.5 268.7h0M656.8 262.7h0M668.0 267.6h0M650.2 267.3h0M651.1 270.7h0M663.2 260.1h0M663.0 274.1h0M665.5 272.3h0M659.8 278.1h0M656.2 268.1h0M657.8 275.8h0M673.8 264.6h0M667.5 274.9h0M661.1 266.2h0M652.6 267.8h0M660.8 272.1h0M658.3 274.7h0M655.8 272.3h0M666.0 273.5h0M661.7 263.7h0M660.7 265.4h0M654.9 272.6h0M654.7 269.9h0M652.7 264.1h0M668.7 259.8h0M666.7 266.4h0M659.9 259.6h0M662.4 274.3h0M663.2 264.4h0M659.8 261.1h0M669.4 267.5h0M661.3 267.6h0M671.8 263.2h0M656.1 269.5h0M656.4 263.5h0M651.5 260.8h0M667.7 262.3h0M671.9 270.3h0M653.3 270.4h0M654.0 264.3h0M662.4 265.4h0M672.8 267.5h0M656.6 264.4h0M659.1 271.8h0M656.6 268.8h0M669.0 271.5h0M659.8 264.5h0M655.8 263.4h0M661.2 260.7h0M672.0 260.1h0M670.8 265.4h0M668.3 262.7h0M667.2 278.2h0M662.3 268.4h0M663.3 269.1h0M661.1 265.7h0M655.9 269.0h0M666.3 263.7h0M668.0 275.8h0M661.2 269.8h0M651.5 268.6h0M652.7 270.1h0M669.2 265.9h0M663.6 265.1h0M653.7 258.3h0M660.3 267.2h0M658.7 268.0h0M658.5 271.7h0M656.9 275.4h0M671.1 263.2h0M656.4 263.9h0M663.0 273.9h0M665.1 261.2h0M651.6 259.4h0M664.8 271.7h0M660.4 270.3h0M658.6 265.5h0M652.1 266.9h0M663.0 259.3h0M660.2 270.8h0M664.6 274.1h0M663.8 272.0h0M665.0 263.0h0M659.8 271.0h0M654.8 262.5h0M657.6 271.5h0M658.8 266.1h0M652.1 263.0h0M665.5 264.6h0M658.2 277.9h0M650.1 273.6h0M663.6 279.3h0M655.9 268.6h0M666.4 266.8h0M666.1 260.5h0M655.5 274.0h0M662.9 252.5h0M667.3 250.5h0M663.4 249.7h0M659.4 248.0h0M664.3 251.0h0M666.4 264.1h0M655.9 251.3h0M668.3 266.4h0M653.9 258.6h0M655.3 257.3h0M661.4 258.9h0M653.3 246.8h0M667.7 257.0h0M654.9 249.8h0M661.3 252.0h0M664.6 262.9h0M654.7 259.4h0M651.8 260.3h0M655.7 251.4h0M660.4 250.4h0M660.8 254.0h0M667.2 253.2h0M657.4 262.6h0M664.5 261.4h0M655.9 257.5h0M661.2 253.7h0M667.4 259.2h0M653.4 262.9h0M667.2 262.8h0M665.1 259.8h0M666.7 258.4h0M665.3 255.0h0M672.0 258.1h0M663.5 258.8h0M670.5 249.4h0M655.3 251.2h0M660.7 254.5h0M661.3 255.7h0M662.2 260.6h0M653.2 257.8h0M661.4 249.0h0M665.0 252.9h0M664.7 262.3h0M662.5 260.5h0M654.1 253.3h0M658.2 256.6h0M656.9 248.5h0M660.2 254.4h0M663.3 261.5h0M662.2 254.3h0M663.2 256.1h0M654.7 252.9h0M652.7 261.6h0M653.6 262.3h0M660.2 248.8h0M668.6 255.1h0M666.3 259.0h0M668.1 252.0h0M666.1 247.0h0M658.6 250.7h0M660.3 262.4h0M661.3 260.0h0M667.5 249.0h0M664.8 249.2h0M665.1 262.5h0M671.4 251.7h0M675.7 263.1h0M652.8 251.7h0M662.7 254.9h0M664.5 255.9h0M657.9 254.2h0M663.4 258.0h0M663.8 258.8h0M658.4 256.4h0M665.4 251.1h0M656.9 253.0h0M658.4 261.4h0M669.2 264.2h0M663.5 258.0h0M667.6 261.5h0M670.6 249.7h0M661.3 254.6h0M660.3 258.3h0M673.9 262.3h0M670.4 253.2h0M662.8 253.3h0M661.5 252.7h0M665.3 256.2h0M664.5 258.3h0M655.1 250.4h0M666.3 258.5h0M666.7 265.5h0M654.1 251.5h0M655.4 251.4h0M662.9 256.8h0M662.0 262.5h0M663.6 250.7h0M668.0 258.0h0M661.3 254.3h0M662.8 249.7h0M667.7 252.7h0M664.8 258.8h0M661.3 262.6h0M672.6 254.4h0M650.2 262.4h0M666.3 256.8h0M656.6 263.3h0M661.1 252.8h0M652.5 264.2h0M657.1 261.4h0M666.1 252.9h0M662.4 263.7h0M667.0 255.8h0M661.9 254.9h0M658.2 255.6h0M658.7 248.8h0M664.2 260.7h0M657.5 257.4h0M657.3 260.1h0M651.5 259.2h0M672.4 260.8h0M660.1 252.1h0M666.5 256.4h0M669.4 260.3h0M652.5 255.0h0M657.3 251.1h0M659.0 250.7h0M671.5 255.5h0M660.8 258.5h0M660.7 256.5h0M655.5 258.5h0M668.9 256.6h0M668.4 254.5h0M654.0 253.2h0M659.1 246.8h0M669.4 251.9h0M674.8 258.3h0M670.7 265.9h0M661.8 262.2h0M665.3 256.6h0M671.9 262.7h0M657.8 254.0h0M664.5 251.7h0M661.7 255.3h0M663.2 255.4h0M657.6 258.2h0M661.7 250.5h0M663.4 257.5h0M657.9 250.4h0M663.7 248.0h0M656.6 263.5h0M657.1 246.5h0M669.6 249.1h0M656.2 245.4h0M669.4 248.6h0M659.1 257.3h0M661.7 251.1h0M661.4 255.9h0M660.6 254.6h0M661.9 258.8h0M666.1 258.9h0M655.1 249.1h0M654.1 257.1h0M673.0 255.9h0M673.3 254.7h0M661.8 257.4h0M657.1 260.7h0M654.2 254.0h0M654.5 251.8h0M655.4 256.4h0M659.9 260.2h0M653.8 264.2h0M669.7 260.1h0M666.2 260.7h0M675.8 255.8h0M671.1 251.0h0M665.3 255.6h0M661.3 256.4h0M662.2 255.6h0M656.9 262.0h0M656.6 247.6h0M661.4 260.5h0M657.8 250.4h0M658.1 261.9h0M655.8 251.9h0M660.4 247.0h0M666.1 252.0h0M664.1 252.6h0M670.1 254.9h0M655.4 257.1h0M667.5 255.8h0M673.7 254.1h0M671.7 250.8h0M656.3 260.9h0M656.9 262.0h0M674.0 251.9h0M673.2 254.9h0M654.1 262.9h0M656.0 245.5h0M665.0 260.3h0M665.1 251.3h0M659.5 259.9h0M653.7 245.0h0M665.6 251.8h0M674.7 253.2h0M659.4 258.6h0M653.9 257.5h0M671.0 250.9h0M660.7 252.8h0M660.8 256.0h0M660.1 258.2h0M660.6 264.0h0M670.0 253.6h0M659.3 249.7h0M664.5 253.3h0M659.1 250.7h0M675.1 256.4h0M666.1 247.9h0M664.3 251.3h0M656.9 258.1h0M664.6 249.6h0M650.8 259.2h0M672.0 248.6h0M658.4 253.5h0M652.2 250.9h0M671.7 258.7h0M655.4 260.2h0M670.7 253.5h0M659.6 253.3h0M655.2 263.7h0M662.2 247.3h0M667.4 254.6h0M658.3 236.4h0M660.4 232.5h0M664.3 238.4h0M662.0 236.3h0M666.3 239.9h0M666.3 242.3h0M658.1 241.1h0M665.6 244.3h0M661.9 245.9h0M672.3 241.3h0M659.6 237.9h0M654.0 240.8h0M669.2 237.2h0M662.7 236.0h0M663.1 241.3h0M661.4 245.9h0M672.4 244.6h0M652.5 246.3h0M663.8 245.4h0M668.8 234.4h0M669.5 235.3h0M666.4 242.8h0M662.5 245.2h0M673.8 235.7h0M666.1 248.9h0M666.5 239.2h0M657.8 236.4h0M661.1 242.6h0M655.9 238.0h0M666.5 243.0h0M661.9 242.4h0M653.1 245.2h0M660.3 244.7h0M651.3 251.9h0M652.7 245.6h0M651.9 251.0h0M660.9 242.4h0M665.7 240.2h0M657.5 247.8h0M664.2 241.0h0M660.3 247.0h0M663.7 238.0h0M671.8 242.7h0M668.0 240.4h0M660.1 238.5h0M650.3 243.0h0M655.1 240.4h0M665.2 244.0h0M656.5 243.9h0M667.1 243.5h0M652.7 244.2h0M659.7 246.4h0M673.9 241.1h0M655.7 233.7h0M658.0 238.1h0M672.9 240.6h0M668.0 239.5h0M661.6 245.9h0M656.0 231.2h0M664.1 239.8h0M656.8 247.2h0M666.5 247.3h0M666.5 249.5h0M670.8 247.9h0M650.4 233.7h0M657.3 243.1h0M654.6 240.0h0M661.5 235.5h0M657.0 247.2h0M660.5 234.9h0M662.6 245.7h0M672.4 236.5h0M661.1 242.0h0M662.1 245.2h0M667.3 243.2h0M653.5 251.7h0M672.2 245.2h0M659.9 235.3h0M667.9 234.9h0M651.8 241.5h0M656.6 236.3h0M653.9 237.7h0M660.6 237.0h0M654.0 235.7h0M654.2 243.4h0M659.3 245.6h0M660.4 245.5h0M659.7 242.2h0M663.4 248.6h0M657.7 241.2h0M665.7 243.1h0M667.3 236.6h0M673.4 237.6h0M653.7 239.5h0M657.8 241.8h0M660.3 242.7h0M656.9 253.2h0M665.4 237.5h0M662.5 239.1h0M668.6 237.4h0M669.6 238.2h0M657.9 235.3h0M670.0 246.5h0M666.6 240.9h0M659.6 234.5h0M665.7 232.3h0M673.1 249.3h0M659.2 240.4h0M673.9 243.6h0M663.7 239.1h0M660.0 233.0h0M660.4 247.1h0M668.0 248.4h0M665.9 241.6h0M669.8 250.9h0M662.9 231.4h0M670.7 246.0h0M665.7 244.4h0M653.6 243.1h0M669.8 244.3h0M668.8 247.5h0M659.3 240.3h0M670.8 244.2h0M670.9 243.2h0M655.3 245.3h0M666.4 249.6h0M648.4 242.3h0M659.3 246.9h0M654.2 249.7h0M661.2 250.8h0M653.1 241.3h0M669.6 244.9h0M662.6 238.1h0M665.3 235.6h0M652.1 246.6h0M660.9 238.6h0M667.3 242.4h0M660.7 240.2h0M650.6 234.3h0M658.3 239.3h0M650.0 239.0h0M664.0 242.8h0M659.9 250.3h0M660.2 238.1h0M654.7 238.5h0M665.2 241.7h0M664.8 234.0h0M656.7 235.7h0M662.5 234.7h0M665.7 235.8h0M668.5 236.8h0M659.5 246.6h0M653.6 240.3h0M657.8 242.0h0M674.8 243.3h0M660.5 235.2h0M661.7 246.9h0M674.3 249.3h0M658.1 246.1h0M657.4 242.4h0M662.8 230.2h0M651.2 224.1h0M661.9 223.9h0M664.6 234.8h0M657.3 224.6h0M666.9 233.8h0M654.0 230.9h0M660.2 225.4h0M664.9 233.3h0M652.6 235.6h0M651.8 226.4h0M658.6 227.3h0M667.3 225.1h0M662.4 237.5h0M665.1 237.0h0M671.8 236.5h0M674.9 238.0h0M675.0 227.7h0M653.1 233.0h0M653.2 220.4h0M658.5 227.7h0M660.3 222.9h0M661.9 237.5h0M661.8 223.5h0M659.6 232.6h0M667.7 222.8h0M667.7 237.4h0M663.0 230.7h0M669.8 230.6h0M664.0 225.2h0M658.8 225.6h0M656.0 234.8h0M660.1 225.9h0M655.4 232.2h0M669.7 229.3h0M659.1 228.1h0M666.3 230.6h0M659.4 228.1h0M658.7 223.8h0M664.5 224.7h0M662.4 226.9h0M655.1 233.4h0M650.1 230.9h0M665.6 234.7h0M668.6 228.1h0M657.0 229.0h0M674.1 230.7h0M657.8 231.2h0M653.5 223.7h0M664.1 230.4h0M665.2 226.8h0M653.6 219.2h0M665.8 225.5h0M671.3 228.8h0M670.4 222.8h0M661.0 227.3h0M658.9 233.9h0M673.0 226.0h0M660.7 230.0h0M661.7 235.7h0M655.2 228.0h0M660.9 233.1h0M652.1 224.5h0M658.2 213.8h0M654.0 208.6h0M654.5 221.0h0M662.2 214.6h0M672.0 208.1h0M661.5 216.9h0M673.2 213.1h0M660.3 212.5h0M660.0 217.0h0M669.4 223.6h0M662.1 222.5h0M659.2 210.3h0M652.2 211.2h0M659.5 216.3h0M671.7 215.4h0M666.2 225.9h0M663.0 219.5h0M661.2 195.1h0M652.8 204.8h0M670.8 196.2h0M652.1 204.1h0M665.3 205.2h0M671.9 206.3h0M662.2 194.0h0M657.2 190.7h0M681.8 338.9h0M668.1 336.4h0M674.8 333.7h0M683.3 339.4h0M678.5 333.4h0M683.6 333.0h0M678.2 323.7h0M673.2 318.3h0M677.3 316.5h0M687.0 327.3h0M685.9 324.7h0M678.3 311.4h0M687.3 313.0h0M683.1 319.9h0M681.1 306.4h0M677.7 303.7h0M669.9 304.8h0M678.3 298.9h0M669.1 301.4h0M679.4 305.0h0M677.5 313.1h0M666.5 307.3h0M685.5 306.7h0M680.6 312.4h0M685.2 302.4h0M669.8 310.5h0M680.7 316.0h0M681.4 301.5h0M676.2 308.5h0M666.8 310.8h0M678.2 310.4h0M675.0 306.5h0M672.6 302.3h0M679.3 304.6h0M680.2 311.4h0M666.1 305.7h0M687.9 305.5h0M684.4 304.2h0M676.9 300.1h0M686.2 308.7h0M669.3 301.4h0M677.8 304.2h0M686.4 303.1h0M674.1 297.0h0M680.4 293.6h0M668.0 290.9h0M680.5 300.3h0M679.0 289.7h0M687.3 288.5h0M686.1 287.6h0M679.0 296.0h0M676.1 287.9h0M679.8 291.2h0M673.3 296.1h0M676.8 292.0h0M683.6 295.5h0M684.8 293.1h0M673.1 299.5h0M678.1 286.6h0M683.5 289.2h0M681.4 300.0h0M680.8 289.3h0M684.2 295.0h0M687.1 298.5h0M678.5 291.7h0M675.8 293.9h0M686.4 300.9h0M679.9 292.4h0M670.6 291.9h0M681.4 289.4h0M679.6 296.3h0M684.4 287.5h0M681.0 292.6h0M678.8 298.3h0M683.6 286.6h0M677.9 288.4h0M680.7 292.9h0M681.8 289.3h0M682.1 301.0h0M678.5 296.9h0M667.6 303.4h0M685.1 294.7h0M670.0 294.3h0M687.7 294.5h0M681.3 294.8h0M678.2 289.5h0M686.4 296.0h0M672.1 292.2h0M680.3 288.4h0M681.4 294.0h0M676.5 298.7h0M678.2 294.6h0M680.2 292.1h0M676.5 301.5h0M675.8 298.4h0M683.3 292.4h0M674.0 301.3h0M678.5 300.2h0M680.7 289.0h0M680.7 289.5h0M675.9 294.5h0M675.1 295.0h0M678.5 290.8h0M679.8 288.5h0M678.7 287.9h0M678.5 297.9h0M679.4 293.3h0M687.0 293.6h0M671.7 290.9h0M682.7 295.1h0M673.3 287.3h0M673.1 303.0h0M680.3 298.3h0M672.6 292.3h0M679.4 282.9h0M667.8 274.0h0M682.8 287.3h0M672.3 288.6h0M675.6 290.6h0M681.3 285.8h0M684.3 275.3h0M683.2 284.4h0M671.5 277.9h0M680.0 286.6h0M679.7 279.7h0M671.7 288.2h0M687.2 289.3h0M678.4 288.3h0M680.4 279.1h0M687.3 291.3h0M679.6 281.5h0M681.6 288.4h0M676.5 288.5h0M685.5 272.7h0M678.4 284.3h0M676.9 277.3h0M679.8 286.0h0M684.4 275.1h0M685.6 278.1h0M686.3 281.8h0M669.1 277.6h0M671.2 288.4h0M678.1 281.9h0M677.6 277.9h0M673.4 283.4h0M686.2 272.6h0M668.0 288.3h0M678.9 275.7h0M680.2 278.2h0M682.4 280.7h0M669.1 281.0h0M675.6 279.1h0M676.9 277.8h0M677.2 291.7h0M674.6 284.3h0M686.7 284.3h0M672.1 274.6h0M679.1 286.4h0M680.2 286.9h0M680.4 280.9h0M670.8 285.5h0M679.7 282.8h0M686.7 281.4h0M686.0 283.7h0M677.1 277.7h0M681.4 280.3h0M678.7 283.4h0M672.0 281.3h0M667.6 278.0h0M678.9 280.3h0M674.9 276.9h0M686.5 285.1h0M672.2 271.2h0M670.5 272.7h0M682.6 286.5h0M685.1 281.3h0M677.6 282.9h0M686.5 285.5h0M685.5 277.3h0M675.4 274.3h0M685.9 283.4h0M686.6 277.0h0M672.1 277.9h0M686.0 280.3h0M681.4 288.9h0M682.2 281.2h0M680.7 285.5h0M667.6 282.5h0M673.9 281.6h0M674.3 278.6h0M686.7 282.2h0M684.9 273.7h0M673.3 285.9h0M679.3 283.3h0M679.1 284.4h0M677.8 276.9h0M685.1 274.8h0M687.7 281.3h0M666.9 274.4h0M677.9 290.8h0M673.4 285.4h0M679.9 281.1h0M673.9 276.7h0M685.7 285.6h0M686.8 285.5h0M679.4 282.4h0M675.1 276.6h0M680.3 280.5h0M687.0 284.0h0M683.6 272.1h0M671.1 281.9h0M683.8 282.6h0M676.6 284.2h0M668.5 271.5h0M685.8 284.0h0M678.5 273.0h0M672.8 282.6h0M670.8 282.7h0M674.0 291.7h0M686.6 282.1h0M683.0 283.5h0M670.2 287.5h0M674.9 275.5h0M682.8 286.9h0M669.2 285.5h0M680.5 271.8h0M676.4 279.7h0M680.6 281.3h0M679.5 290.6h0M686.8 281.4h0M666.6 281.0h0M682.0 288.0h0M673.8 278.1h0M677.1 280.5h0M674.1 284.8h0M671.4 275.6h0M683.1 278.9h0M671.0 280.0h0M683.1 280.8h0M683.1 279.1h0M685.1 281.3h0M678.3 275.9h0M685.0 276.5h0M685.4 281.7h0M675.6 281.0h0M676.3 282.0h0M680.9 289.2h0M679.3 277.3h0M684.1 275.8h0M678.4 276.2h0M682.3 278.4h0M679.1 278.7h0M682.9 285.8h0M670.7 272.8h0M667.8 284.7h0M672.1 278.5h0M675.6 279.2h0M670.6 286.1h0M668.8 278.9h0M687.1 281.2h0M673.3 271.1h0M679.9 287.9h0M683.5 273.7h0M675.2 290.1h0M679.2 261.9h0M687.7 263.9h0M678.2 266.2h0M682.3 264.3h0M680.6 272.8h0M668.8 274.5h0M670.0 272.3h0M681.6 264.2h0M676.6 273.8h0M676.3 273.8h0M676.5 264.8h0M678.1 263.3h0M678.9 263.1h0M679.1 273.8h0M670.7 266.6h0M687.8 264.8h0M680.2 268.3h0M675.5 264.7h0M681.6 268.9h0M679.2 262.2h0M682.8 264.4h0M678.7 271.5h0M670.4 266.1h0M677.7 267.3h0M684.5 272.1h0M679.6 272.1h0M676.4 264.7h0M672.6 274.5h0M680.0 275.4h0M677.6 271.3h0M677.6 263.6h0M680.0 274.2h0M671.6 267.0h0M675.7 261.2h0M687.4 263.6h0M672.6 266.9h0M677.2 271.0h0M666.3 273.4h0M680.4 267.6h0M686.7 262.9h0M685.3 269.5h0M681.7 266.5h0M677.8 271.9h0M670.2 270.5h0M677.5 276.6h0M686.8 268.5h0M686.0 266.2h0M679.0 265.9h0M674.2 257.1h0M688.1 259.4h0M676.8 274.4h0M681.4 275.0h0M669.9 265.7h0M680.2 268.0h0M676.6 263.5h0M686.2 264.7h0M678.2 272.9h0M683.7 268.4h0M685.4 264.2h0M686.5 274.6h0M684.2 277.0h0M687.7 271.2h0M679.1 276.9h0M678.4 258.3h0M684.2 275.1h0M669.9 261.5h0M678.4 267.6h0M681.7 267.0h0M684.9 268.4h0M667.8 277.3h0M683.7 263.3h0M680.6 263.9h0M683.0 270.4h0M680.7 265.4h0M677.2 269.5h0M676.3 272.1h0M675.3 264.5h0M680.0 269.2h0M675.6 260.9h0M683.7 272.3h0M687.2 267.0h0M680.9 270.0h0M688.1 271.9h0M676.8 269.6h0M685.9 270.8h0M686.4 269.5h0M681.9 270.9h0M686.9 278.6h0M685.2 268.2h0M678.4 272.0h0M672.6 269.2h0M682.5 271.7h0M679.5 261.9h0M673.3 265.1h0M673.5 263.6h0M687.7 258.7h0M669.0 267.6h0M687.0 269.4h0M676.6 270.0h0M680.8 263.4h0M683.8 263.7h0M679.2 262.4h0M677.0 272.1h0M679.4 271.3h0M674.3 257.6h0M667.8 258.2h0M684.8 266.4h0M681.3 270.1h0M669.5 273.5h0M665.3 267.0h0M674.4 266.4h0M670.2 270.2h0M686.9 274.7h0M675.6 269.3h0M673.0 267.1h0M683.8 268.6h0M679.4 262.0h0M680.2 270.6h0M681.6 262.5h0M679.7 274.1h0M685.8 263.9h0M670.9 274.1h0M680.2 265.5h0M687.6 265.2h0M679.7 263.7h0M675.8 263.6h0M675.1 275.2h0M682.1 266.0h0M680.3 276.3h0M683.0 274.8h0M680.5 264.8h0M670.0 266.3h0M678.2 266.7h0M677.5 266.8h0M681.3 275.5h0M683.5 263.6h0M685.9 271.2h0M680.8 264.5h0M669.5 267.2h0M681.6 269.1h0M675.0 271.9h0M677.3 261.8h0M676.9 270.7h0M686.8 273.4h0M666.5 275.6h0M686.9 277.7h0M687.3 273.0h0M679.5 268.0h0M669.5 262.3h0M676.6 275.8h0M680.5 265.6h0M672.8 265.4h0M684.9 266.0h0M679.6 264.1h0M666.9 267.3h0M681.2 267.2h0M685.8 274.7h0M675.4 268.9h0M679.1 262.1h0M682.9 278.0h0M671.3 278.0h0M676.2 261.6h0M678.6 278.9h0M682.9 269.4h0M687.6 264.5h0M669.2 267.0h0M679.3 271.2h0M676.2 277.7h0M673.5 276.0h0M672.0 263.3h0M671.8 261.8h0M682.7 269.0h0M676.6 261.9h0M676.6 266.9h0M675.3 258.7h0M682.3 263.3h0M687.3 270.7h0M680.8 266.8h0M671.4 269.8h0M670.8 271.8h0M686.9 270.7h0M678.5 271.7h0M684.8 266.0h0M686.7 273.2h0M681.7 267.4h0M677.2 276.4h0M685.9 265.2h0M674.3 266.5h0M667.4 267.6h0M684.8 260.9h0M682.5 264.0h0M681.7 259.4h0M674.2 269.6h0M682.5 258.8h0M680.4 260.9h0M684.0 267.3h0M687.4 266.0h0M678.0 260.4h0M687.8 266.3h0M674.5 266.1h0M686.9 267.8h0M681.0 266.7h0M683.8 263.2h0M670.0 265.8h0M675.5 266.9h0M672.4 264.3h0M669.5 266.2h0M680.7 272.3h0M687.2 269.7h0M680.8 266.7h0M678.9 273.0h0M684.1 261.7h0M682.4 271.7h0M677.6 263.5h0M682.8 275.0h0M668.9 260.3h0M670.7 267.8h0M684.2 271.4h0M686.2 268.6h0M687.2 275.7h0M686.3 264.9h0M671.9 270.7h0M686.6 273.4h0M672.9 271.1h0M685.4 270.5h0M685.4 257.1h0M682.4 253.1h0M675.7 263.3h0M674.1 259.4h0M677.0 252.1h0M683.6 253.7h0M683.7 257.9h0M681.9 245.3h0M673.5 249.9h0M686.6 256.9h0M679.9 251.7h0M678.7 252.6h0M684.3 257.1h0M669.5 256.3h0M686.4 256.5h0M684.9 259.9h0M679.4 265.6h0M684.1 255.8h0M685.8 256.6h0M683.0 249.9h0M677.4 258.5h0M676.7 248.7h0M668.7 249.2h0M670.5 253.7h0M678.4 254.0h0M687.0 252.3h0M686.2 256.0h0M681.5 256.9h0M680.8 255.0h0M679.0 252.8h0M672.6 252.9h0M676.5 245.4h0M684.6 252.2h0M686.0 259.4h0M674.0 258.7h0M682.9 250.8h0M678.9 262.4h0M677.2 265.9h0M684.9 252.8h0M680.2 261.6h0M677.1 254.9h0M685.3 264.2h0M678.1 248.6h0M680.1 254.9h0M670.6 258.0h0M679.9 258.0h0M676.9 252.8h0M680.8 254.6h0M681.5 249.9h0M674.7 253.6h0M683.0 254.1h0M679.4 259.5h0M685.4 252.3h0M686.8 255.4h0M676.2 257.8h0M673.4 258.3h0M682.9 249.6h0M685.9 259.9h0M685.8 260.5h0M680.3 262.2h0M672.7 243.9h0M682.9 251.6h0M666.3 253.9h0M678.0 263.2h0M672.6 251.3h0M672.2 259.2h0M673.4 251.3h0M688.0 247.5h0M685.0 254.2h0M683.7 263.2h0M665.6 255.2h0M677.0 252.7h0M685.7 256.7h0M682.1 265.9h0M678.6 258.4h0M673.3 259.0h0M684.6 254.7h0M675.2 254.7h0M685.6 258.4h0M677.1 255.9h0M683.7 252.7h0M676.6 254.0h0M669.6 261.3h0M674.7 256.6h0M678.0 249.5h0M675.2 249.2h0M672.3 260.7h0M679.4 259.7h0M685.9 255.3h0M670.8 258.2h0M685.5 247.8h0M687.0 253.9h0M681.0 253.6h0M687.2 258.0h0M667.1 245.1h0M677.2 249.8h0M682.5 246.3h0M671.8 264.2h0M687.8 258.3h0M674.7 250.7h0M677.8 247.7h0M680.7 251.0h0M671.3 261.9h0M681.3 258.3h0M675.9 250.2h0M672.2 258.1h0M680.9 254.5h0M676.8 249.6h0M684.0 257.2h0M679.5 248.1h0M687.4 251.1h0M678.4 252.6h0M683.0 248.4h0M683.2 254.6h0M668.1 263.9h0M672.0 258.6h0M683.5 261.5h0M683.6 255.0h0M680.4 251.4h0M666.6 251.4h0M678.4 260.1h0M684.8 248.0h0M675.5 255.9h0M684.9 261.2h0M678.0 255.5h0M686.9 261.8h0M687.8 257.3h0M685.9 252.0h0M681.8 258.2h0M686.3 246.7h0M681.9 256.7h0M681.6 247.2h0M672.3 256.6h0M684.4 257.3h0M679.0 255.8h0M679.9 263.5h0M677.0 251.7h0M681.1 252.6h0M665.6 255.4h0M678.8 247.7h0M672.3 254.0h0M685.5 261.4h0M684.8 252.8h0M677.2 262.5h0M685.8 255.7h0M682.9 255.0h0M677.1 255.2h0M671.6 248.5h0M681.2 260.5h0M687.0 256.4h0M676.4 257.0h0M681.5 251.6h0M665.3 248.2h0M671.7 252.6h0M672.1 262.3h0M678.8 249.6h0M683.9 261.8h0M681.1 255.8h0M677.6 249.1h0M672.8 259.0h0M667.7 258.9h0M687.1 254.8h0M677.7 251.7h0M672.0 251.4h0M673.6 250.1h0M676.9 259.2h0M677.8 255.6h0M667.5 262.3h0M681.0 260.0h0M672.1 258.8h0M674.2 244.5h0M683.5 259.4h0M682.4 260.7h0M680.2 248.4h0M675.2 263.6h0M682.9 256.1h0M678.8 260.2h0M687.7 249.4h0M686.4 252.7h0M685.5 250.4h0M677.3 255.8h0M679.1 258.1h0M671.6 255.0h0M683.6 245.8h0M676.2 252.5h0M684.7 249.5h0M679.1 255.3h0M685.9 262.1h0M679.9 254.3h0M680.0 254.6h0M682.1 258.5h0M679.1 254.4h0M685.1 259.2h0M685.4 254.6h0M687.1 254.5h0M677.4 258.2h0M666.8 257.9h0M677.8 247.8h0M687.2 264.3h0M681.1 250.5h0M673.5 253.8h0M681.1 251.1h0M674.7 259.9h0M673.2 255.3h0M678.4 256.3h0M672.9 245.8h0M681.2 262.5h0M680.6 262.2h0M677.4 253.7h0M674.1 258.3h0M667.8 255.5h0M678.8 248.6h0M684.9 253.5h0M669.7 258.8h0M674.6 251.0h0M674.3 255.4h0M684.5 251.2h0M676.6 255.8h0M680.0 249.8h0M678.4 254.0h0M675.2 254.8h0M679.5 255.9h0M674.1 258.2h0M673.4 256.2h0M684.4 260.8h0M686.1 259.5h0M678.0 261.0h0M687.6 250.2h0M687.5 261.3h0M680.6 253.6h0M683.0 265.1h0M671.4 250.8h0M677.2 250.5h0M685.0 244.2h0M684.8 256.9h0M681.3 263.9h0M683.1 259.8h0M674.1 255.4h0M676.0 255.2h0M686.8 249.6h0M682.0 253.1h0M672.7 252.4h0M682.0 255.7h0M683.8 255.2h0M677.9 248.6h0M681.3 263.6h0M677.0 254.7h0M685.5 250.2h0M667.7 258.6h0M676.5 261.7h0M675.2 259.5h0M675.9 250.0h0M667.7 257.3h0M682.8 252.2h0M674.1 258.6h0M681.3 251.7h0M685.2 258.8h0M675.4 235.6h0M672.9 249.5h0M680.4 232.4h0M675.9 245.4h0M680.6 242.6h0M676.7 243.7h0M686.1 248.5h0M675.0 241.7h0M687.7 240.2h0M681.6 234.0h0M675.6 241.4h0M672.3 241.7h0M674.8 236.2h0M672.2 242.3h0M685.9 231.2h0M681.1 241.2h0M680.3 237.2h0M685.5 249.2h0M671.5 248.3h0M679.1 233.7h0M681.2 236.2h0M682.1 237.2h0M668.9 248.0h0M677.9 252.6h0M677.0 235.8h0M679.1 241.2h0M677.1 238.6h0M674.9 244.9h0M682.6 243.2h0M675.9 243.6h0M677.6 238.8h0M679.7 241.6h0M676.8 242.0h0M678.5 242.1h0M671.1 236.9h0M675.0 231.8h0M685.9 240.0h0M669.5 247.4h0M685.4 241.2h0M674.4 239.3h0M670.2 237.7h0M679.9 248.1h0M683.2 240.8h0M675.9 248.2h0M684.6 238.6h0M672.6 237.6h0M681.3 236.7h0M668.1 244.8h0M679.0 244.9h0M674.4 246.0h0M668.5 247.1h0M685.3 244.5h0M684.2 236.0h0M676.1 245.6h0M675.8 235.8h0M682.0 236.1h0M667.3 246.9h0M677.1 239.2h0M686.8 237.4h0M676.7 240.0h0M665.5 242.3h0M681.7 235.9h0M680.7 247.8h0M677.0 246.7h0M684.2 240.4h0M679.4 244.7h0M682.1 239.2h0M687.5 244.9h0M674.0 246.3h0M675.4 238.8h0M687.1 240.1h0M684.0 241.6h0M681.4 234.4h0M669.1 237.0h0M664.8 238.9h0M682.9 251.2h0M681.1 249.8h0M673.6 236.8h0M683.4 237.0h0M673.4 253.1h0M680.4 248.8h0M674.7 251.2h0M673.8 241.7h0M675.7 252.4h0M677.9 243.4h0M672.8 245.9h0M686.1 240.7h0M687.2 235.8h0M677.9 240.6h0M675.2 248.1h0M684.9 249.3h0M684.0 248.6h0M682.5 239.0h0M677.2 238.6h0M674.9 251.7h0M681.2 251.8h0M668.6 235.8h0M680.0 245.0h0M685.4 235.6h0M678.4 233.7h0M686.9 243.4h0M674.4 240.3h0M676.2 246.2h0M687.1 244.2h0M679.3 246.3h0M670.5 245.9h0M683.5 249.8h0M684.6 242.8h0M668.0 241.3h0M676.3 241.5h0M681.1 235.5h0M678.7 238.8h0M685.2 250.7h0M687.7 245.5h0M678.2 247.7h0M675.8 247.6h0M674.2 249.7h0M678.3 243.0h0M686.2 245.5h0M684.7 242.4h0M683.3 240.0h0M675.9 243.3h0M685.3 235.2h0M673.7 235.9h0M670.1 241.7h0M678.7 240.7h0M680.5 243.2h0M679.6 247.2h0M681.1 240.5h0M673.8 240.8h0M676.4 244.2h0M686.6 240.4h0M671.2 241.2h0M680.5 236.3h0M679.2 244.1h0M682.4 250.3h0M679.1 232.1h0M685.3 250.3h0M682.7 242.9h0M678.5 243.6h0M680.0 237.2h0M684.0 238.9h0M687.5 246.5h0M680.9 242.1h0M678.2 250.3h0M673.0 242.7h0M679.0 244.8h0M677.4 236.7h0M675.1 246.0h0M675.5 244.5h0M678.1 231.0h0M676.3 244.1h0M676.6 236.2h0M675.2 242.5h0M677.6 237.9h0M684.9 236.2h0M666.6 243.5h0M675.4 242.9h0M678.6 241.0h0M686.7 249.8h0M673.9 239.8h0M681.6 252.2h0M668.8 242.2h0M678.5 247.9h0M687.4 246.3h0M686.9 236.0h0M673.5 241.5h0M678.4 247.7h0M682.9 233.3h0M683.5 240.0h0M688.0 242.6h0M687.5 244.8h0M671.2 248.9h0M678.7 244.7h0M667.8 250.8h0M667.3 235.8h0M677.6 243.0h0M683.0 236.9h0M677.6 241.7h0M685.5 236.2h0M682.1 246.7h0M673.1 248.9h0M679.9 241.4h0M675.5 243.8h0M683.0 244.8h0M685.7 237.5h0M683.9 243.0h0M679.1 238.8h0M677.5 245.0h0M687.8 244.0h0M677.6 247.8h0M679.8 243.4h0M677.0 250.1h0M675.6 242.6h0M672.4 241.4h0M675.2 247.0h0M680.5 241.9h0M673.9 235.5h0M675.1 242.1h0M682.2 241.9h0M679.9 246.3h0M677.6 241.1h0M676.1 245.7h0M677.7 236.8h0M673.8 243.1h0M677.2 234.4h0M684.9 241.8h0M675.1 237.0h0M685.3 241.9h0M677.3 238.8h0M668.5 244.6h0M672.1 243.5h0M675.7 239.6h0M683.4 248.5h0M678.4 243.0h0M684.5 237.5h0M687.4 238.6h0M683.0 231.3h0M676.3 240.3h0M679.1 240.3h0M681.6 245.5h0M680.6 242.0h0M680.5 244.3h0M676.2 245.9h0M669.0 241.5h0M683.7 236.5h0M678.2 231.5h0M685.1 231.0h0M680.6 229.6h0M678.8 221.2h0M683.8 221.9h0M679.5 233.2h0M685.3 230.7h0M680.7 229.1h0M682.2 235.6h0M680.0 227.1h0M683.5 239.5h0M681.4 226.2h0M687.0 235.3h0M682.2 228.4h0M683.1 232.1h0M686.7 234.6h0M688.0 231.2h0M681.2 227.3h0M685.2 231.4h0M684.6 227.2h0M684.4 233.5h0M668.7 229.1h0M684.6 219.4h0M676.7 224.0h0M674.9 237.0h0M673.2 234.2h0M684.5 228.9h0M687.4 230.5h0M683.4 221.3h0M680.7 222.8h0M665.7 233.0h0M684.8 234.8h0M680.2 233.9h0M688.0 226.9h0M680.5 235.6h0M680.4 231.7h0M670.2 238.9h0M685.4 222.8h0M679.6 223.1h0M684.2 224.8h0M670.9 231.3h0M687.6 227.3h0M686.3 227.4h0M685.0 226.8h0M668.7 229.1h0M671.5 226.4h0M684.7 223.3h0M679.7 226.1h0M675.4 220.4h0M681.1 230.5h0M677.6 231.2h0M682.8 224.7h0M685.3 233.6h0M685.3 222.8h0M674.8 230.5h0M670.0 227.8h0M679.0 238.1h0M680.0 233.3h0M686.5 230.0h0M671.4 228.7h0M686.0 220.7h0M686.8 222.9h0M682.8 232.4h0M679.0 229.5h0M674.5 226.3h0M674.5 228.2h0M670.3 230.7h0M684.7 233.0h0M685.9 233.4h0M675.4 234.3h0M669.9 226.6h0M676.2 235.8h0M670.3 225.1h0M674.5 228.9h0M678.1 236.0h0M684.7 228.0h0M671.4 228.9h0M680.9 224.4h0M680.2 239.1h0M674.5 233.3h0M675.6 236.5h0M684.1 229.2h0M674.4 228.4h0M671.0 233.9h0M676.4 230.8h0M675.4 225.4h0M683.9 226.1h0M670.1 222.0h0M685.4 225.4h0M678.0 229.5h0M676.4 223.7h0M680.4 235.3h0M674.2 230.4h0M682.0 232.4h0M685.7 223.2h0M674.5 233.7h0M672.3 221.9h0M682.9 226.7h0M683.2 230.4h0M667.2 228.9h0M687.8 224.8h0M682.1 229.7h0M672.1 228.3h0M677.8 236.3h0M686.7 239.7h0M675.5 233.8h0M670.1 230.9h0M677.4 230.8h0M682.3 234.2h0M679.6 226.2h0M674.4 224.3h0M675.8 233.1h0M678.5 233.8h0M684.2 223.2h0M678.6 232.0h0M678.8 219.6h0M672.4 216.2h0M684.9 208.7h0M674.3 225.6h0M681.4 218.2h0M683.9 218.6h0M687.0 219.5h0M670.2 225.7h0M675.0 212.1h0M676.7 227.1h0M683.0 211.7h0M681.1 219.7h0M681.1 218.3h0M677.0 220.7h0M667.6 220.7h0M681.9 212.8h0M673.0 215.9h0M673.5 213.6h0M679.7 219.4h0M683.5 208.8h0M681.4 211.9h0M683.4 222.8h0M673.2 221.2h0M676.1 215.8h0M684.0 216.0h0M679.5 221.6h0M687.9 224.6h0M683.1 210.0h0M674.5 210.1h0M668.8 224.3h0M677.8 222.9h0M679.2 211.8h0M679.6 225.7h0M670.1 219.9h0M669.7 217.1h0M683.0 219.1h0M681.1 222.7h0M681.6 222.2h0M685.4 216.0h0M687.2 216.6h0M682.8 213.3h0M678.4 220.5h0M681.3 210.8h0M674.0 220.1h0M683.3 216.5h0M681.3 213.7h0M680.5 221.1h0M681.4 213.9h0M684.3 212.3h0M680.2 216.2h0M677.5 219.5h0M686.6 215.9h0M677.0 194.4h0M679.5 203.9h0M665.8 196.4h0M677.4 202.6h0M672.5 203.9h0M683.9 205.1h0M685.6 209.8h0M682.7 212.5h0M685.6 202.5h0M684.8 200.8h0M671.1 198.4h0M677.7 193.6h0M680.1 204.1h0M681.9 199.2h0M686.4 197.7h0M679.4 205.0h0M668.7 205.6h0M678.7 205.0h0M678.5 207.8h0M680.9 198.5h0M675.1 187.3h0M670.6 186.9h0M675.5 185.9h0M681.8 196.3h0M683.2 193.7h0M671.1 191.7h0M678.3 197.1h0M687.3 188.8h0M688.1 285.8h0M688.1 279.8h0M688.1 282.8h0M688.1 274.0h0M688.1 263.2h0M688.1 263.1h0M688.1 250.2h0M688.1 256.2h0M688.1 254.7h0M688.1 246.1h0M688.1 241.3h0M688.1 236.3h0M681.0 78.0h0M681.5 82.0h0M657.8 114.0h0M680.5 120.2h0M685.0 135.8h0M613.5 123.0h0M621.8 136.2h0M623.5 145.5h0M578.5 173.8h0M615.2 168.0h0M619.5 180.5h0M637.8 183.2h0M641.0 180.0h0M641.8 172.0h0M646.8 166.7h0M649.2 165.5h0M670.2 162.0h0M681.8 161.3h0M665.5 171.2h0M668.0 176.8h0M678.0 173.3h0M685.5 170.0h0M687.2 175.0h0M687.2 180.0h0M500.0 171.8h0M455.5 212.5h0M475.5 220.0h0M432.5 229.2h0M446.2 235.8h0M540.0 214.5h0M533.8 221.2h0M537.5 220.8h0M537.5 223.3h0M543.2 224.2h0M553.8 223.0h0M577.5 223.0h0M581.8 225.8h0M497.5 230.5h0M554.2 195.0h0M578.0 202.0h0M562.5 228.8h0M470.0 234.0h0M521.0 233.0h0M548.0 231.5h0M569.0 232.5h0M585.0 230.0h0M589.0 233.5h0" stroke="#808080" stroke-width="3.0" stroke-linecap="round" fill="none"/>
<path d="M425.45 309.96L429.90 309.78L434.35 309.59L438.81 309.39L443.26 309.17L447.71 308.95L452.16 308.72L456.61 308.48L461.06 308.22L465.51 307.95L469.97 307.67L474.42 307.37L478.87 307.06L483.32 306.73L487.77 306.38L492.22 306.02L496.68 305.64L501.13 305.24L505.58 304.82L510.03 304.38L514.48 303.92L518.93 303.44L523.38 302.93L527.84 302.39L532.29 301.83L536.74 301.24L541.19 300.62L545.64 299.96L550.09 299.28L554.54 298.56L559.00 297.81L563.45 297.01L567.90 296.18L572.35 295.31L576.80 294.39L581.25 293.42L585.71 292.41L590.16 291.35L594.61 290.23L599.06 289.06L603.51 287.82L607.96 286.53L612.41 285.17L616.87 283.74L621.32 282.24L625.77 280.67L630.22 279.01L634.67 277.28L639.12 275.45L643.57 273.54L648.03 271.52L652.48 269.41L656.93 267.19L661.38 264.86L665.83 262.41L670.28 259.84L674.74 257.14L679.19 254.30L683.64 251.32L688.09 248.19" stroke="#d8181c" stroke-width="2.1" fill="none"/>
<rect x="422.50" y="15.40" width="295.10" height="324.20" fill="none" stroke="#555555" stroke-width="0.6"/>
<text x="422.50" y="352.20" font-size="9.30" text-anchor="middle" font-family="Liberation Sans" fill="#262626" stroke="#262626" stroke-width="0.22" >0</text>
<text x="481.52" y="352.20" font-size="9.30" text-anchor="middle" font-family="Liberation Sans" fill="#262626" stroke="#262626" stroke-width="0.22" textLength="10.8" lengthAdjust="spacingAndGlyphs" >10</text>
<text x="540.54" y="352.20" font-size="9.30" text-anchor="middle" font-family="Liberation Sans" fill="#262626" stroke="#262626" stroke-width="0.22" textLength="10.8" lengthAdjust="spacingAndGlyphs" >20</text>
<text x="599.56" y="352.20" font-size="9.30" text-anchor="middle" font-family="Liberation Sans" fill="#262626" stroke="#262626" stroke-width="0.22" textLength="10.8" lengthAdjust="spacingAndGlyphs" >30</text>
<text x="658.58" y="352.20" font-size="9.30" text-anchor="middle" font-family="Liberation Sans" fill="#262626" stroke="#262626" stroke-width="0.22" textLength="10.8" lengthAdjust="spacingAndGlyphs" >40</text>
<text x="717.60" y="352.20" font-size="9.30" text-anchor="middle" font-family="Liberation Sans" fill="#262626" stroke="#262626" stroke-width="0.22" textLength="10.8" lengthAdjust="spacingAndGlyphs" >50</text>
<text x="418.20" y="342.35" font-size="9.30" text-anchor="end" font-family="Liberation Sans" fill="#262626" stroke="#262626" stroke-width="0.22" >0</text>
<text x="418.20" y="277.51" font-size="9.30" text-anchor="end" font-family="Liberation Sans" fill="#262626" stroke="#262626" stroke-width="0.22" >5</text>
<text x="418.20" y="212.67" font-size="9.30" text-anchor="end" font-family="Liberation Sans" fill="#262626" stroke="#262626" stroke-width="0.22" textLength="10.8" lengthAdjust="spacingAndGlyphs" >10</text>
<text x="418.20" y="147.83" font-size="9.30" text-anchor="end" font-family="Liberation Sans" fill="#262626" stroke="#262626" stroke-width="0.22" textLength="10.8" lengthAdjust="spacingAndGlyphs" >15</text>
<text x="418.20" y="82.99" font-size="9.30" text-anchor="end" font-family="Liberation Sans" fill="#262626" stroke="#262626" stroke-width="0.22" textLength="10.8" lengthAdjust="spacingAndGlyphs" >20</text>
<text x="418.20" y="18.15" font-size="9.30" text-anchor="end" font-family="Liberation Sans" fill="#262626" stroke="#262626" stroke-width="0.22" textLength="10.8" lengthAdjust="spacingAndGlyphs" >25</text>
<path d="M422.50 339.60v-3M422.50 15.40v3M481.52 339.60v-3M481.52 15.40v3M540.54 339.60v-3M540.54 15.40v3M599.56 339.60v-3M599.56 15.40v3M658.58 339.60v-3M658.58 15.40v3M717.60 339.60v-3M717.60 15.40v3M422.50 339.60h3M717.60 339.60h-3M422.50 274.76h3M717.60 274.76h-3M422.50 209.92h3M717.60 209.92h-3M422.50 145.08h3M717.60 145.08h-3M422.50 80.24h3M717.60 80.24h-3M422.50 15.40h3M717.60 15.40h-3" stroke="#555555" stroke-width="0.6" fill="none"/>
<text transform="translate(401.6,201.2) rotate(-90)" font-size="9.3"  font-family="Liberation Sans" fill="#262626" stroke="#262626" stroke-width="0.22" textLength="47.4" lengthAdjust="spacingAndGlyphs">dist [mm]</text>
<text x="562.30" y="364.40" font-size="9.50" text-anchor="start" font-family="Liberation Sans" fill="#262626" font-style="italic">θ</text>
<text x="567.40" y="368.70" font-size="8.00" text-anchor="start" font-family="Liberation Sans" fill="#262626" stroke="#262626" stroke-width="0.22" >x</text>
<text x="572.60" y="363.00" font-size="9.50" text-anchor="start" font-family="Liberation Sans" fill="#262626" stroke="#262626" stroke-width="0.22" >°</text>
<rect x="429.3" y="22.3" width="104.2" height="27" fill="#fff" stroke="#555555" stroke-width="0.6"/>
<rect x="429.3" y="49.3" width="150" height="37.9" fill="#fff" stroke="#555555" stroke-width="0.6"/>
<circle cx="445.7" cy="30.4" r="1.4" fill="#808080"/>
<path d="M432.3 42.6H458.5" stroke="#d8181c" stroke-width="1.7"/>
<text x="461.30" y="31.60" font-size="8.60" text-anchor="start" font-family="Liberation Sans" fill="#262626" stroke="#262626" stroke-width="0.22" textLength="27.9" lengthAdjust="spacingAndGlyphs" >dist vs.</text>
<text x="492.60" y="31.00" font-size="7.50" text-anchor="start" font-family="Liberation Sans" fill="#262626" font-style="italic">θ</text>
<text x="496.30" y="35.50" font-size="7.00" text-anchor="start" font-family="Liberation Sans" fill="#262626" stroke="#262626" stroke-width="0.22" >x</text>
<text x="461.30" y="45.60" font-size="8.60" text-anchor="start" font-family="Liberation Sans" fill="#262626" stroke="#262626" stroke-width="0.22" textLength="68.7" lengthAdjust="spacingAndGlyphs" >y =a*exp(b*x)+c</text>
<text x="434.20" y="60.80" font-size="9.30" text-anchor="start" font-family="Liberation Sans" fill="#262626" stroke="#262626" stroke-width="0.22" textLength="13.9" lengthAdjust="spacingAndGlyphs" >a =</text>
<text x="455.30" y="60.80" font-size="9.30" text-anchor="start" font-family="Liberation Sans" fill="#262626" stroke="#262626" stroke-width="0.22" textLength="30.8" lengthAdjust="spacingAndGlyphs" >0.2706</text>
<text x="492.70" y="60.80" font-size="9.30" text-anchor="start" font-family="Liberation Sans" fill="#262626" stroke="#262626" stroke-width="0.22" textLength="75.2" lengthAdjust="spacingAndGlyphs" >(0.1929, 0.3482)</text>
<text x="434.20" y="70.90" font-size="9.30" text-anchor="start" font-family="Liberation Sans" fill="#262626" stroke="#262626" stroke-width="0.22" textLength="13.9" lengthAdjust="spacingAndGlyphs" >b =</text>
<text x="455.30" y="70.90" font-size="9.30" text-anchor="start" font-family="Liberation Sans" fill="#262626" stroke="#262626" stroke-width="0.22" textLength="30.8" lengthAdjust="spacingAndGlyphs" >0.0650</text>
<text x="492.70" y="70.90" font-size="9.30" text-anchor="start" font-family="Liberation Sans" fill="#262626" stroke="#262626" stroke-width="0.22" textLength="75.2" lengthAdjust="spacingAndGlyphs" >(0.0591, 0.0709)</text>
<text x="434.20" y="81.30" font-size="9.30" text-anchor="start" font-family="Liberation Sans" fill="#262626" stroke="#262626" stroke-width="0.22" textLength="13.9" lengthAdjust="spacingAndGlyphs" >c =</text>
<text x="455.30" y="81.30" font-size="9.30" text-anchor="start" font-family="Liberation Sans" fill="#262626" stroke="#262626" stroke-width="0.22" textLength="30.8" lengthAdjust="spacingAndGlyphs" >2.0061</text>
<text x="492.70" y="81.30" font-size="9.30" text-anchor="start" font-family="Liberation Sans" fill="#262626" stroke="#262626" stroke-width="0.22" textLength="75.2" lengthAdjust="spacingAndGlyphs" >(1.8209, 2.1914)</text>
<text x="200.00" y="393.20" font-size="16.00" text-anchor="middle" font-family="Liberation Serif" fill="#000" >(<tspan font-weight="bold">a</tspan>)</text>
<text x="532.30" y="393.20" font-size="16.00" text-anchor="middle" font-family="Liberation Serif" fill="#000" >(<tspan font-weight="bold">b</tspan>)</text>
</svg>
</body></html>
